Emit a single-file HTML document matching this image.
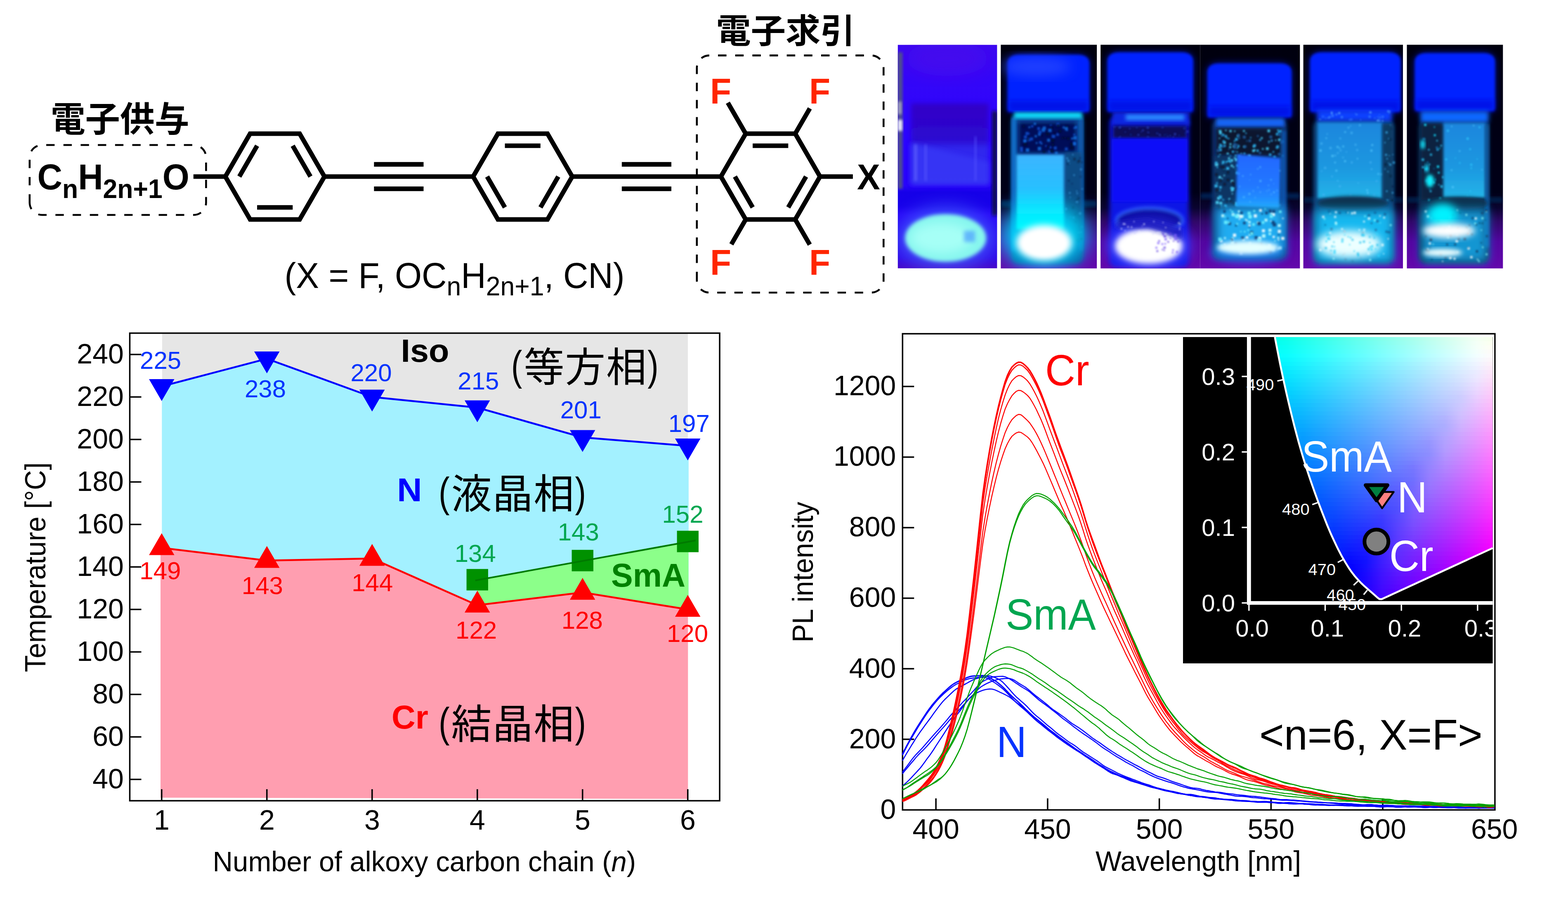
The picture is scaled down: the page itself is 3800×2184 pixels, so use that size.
<!DOCTYPE html>
<html><head><meta charset="utf-8"><title>figure</title>
<style>html,body{margin:0;padding:0;background:#fff}svg{display:block}text{font-family:"Liberation Sans","Noto Sans CJK JP",sans-serif;white-space:pre}</style></head><body>
<svg width="3800" height="2184" viewBox="0 0 3800 2184">
<rect width="3800" height="2184" fill="#fff"/>
<g stroke="#000" stroke-width="11.07" fill="none" stroke-linejoin="miter" stroke-miterlimit="10">
<path d="M786.3,428 L726.2,532 L606.2,532 L546.1,428 L606.1,324 L726.2,324 Z"/>
<path d="M709.3,502.7 L623.1,502.7"/>
<path d="M580,428 L623.1,353.3"/>
<path d="M709.3,353.3 L752.4,428"/>
<path d="M1386.8,428 L1326.8,532 L1206.7,532 L1146.6,428 L1206.7,324 L1326.8,324 Z"/>
<path d="M1223.6,353.3 L1309.8,353.3"/>
<path d="M1223.6,502.7 L1180.5,428"/>
<path d="M1352.9,428 L1309.8,502.7"/>
<path d="M1987.3,428 L1927.2,532 L1807.2,532 L1747.1,428 L1807.2,324 L1927.2,324 Z"/>
<path d="M1824.1,353.3 L1910.3,353.3"/>
<path d="M1824.1,502.7 L1781,428"/>
<path d="M1953.4,428 L1910.3,502.7"/>
<path d="M468.8,428.0 L546.1,428.0"/>
<path d="M786.3,428.0 L1146.6,428.0"/>
<path d="M906.4,398.4 L1026.5,398.4"/>
<path d="M906.4,457.6 L1026.5,457.6"/>
<path d="M1386.8,428.0 L1747.1,428.0"/>
<path d="M1506.9,398.4 L1627,398.4"/>
<path d="M1506.9,457.6 L1627,457.6"/>
<path d="M1987.3,428.0 L2066.9,428.0"/>
<path d="M1807.2,324 L1763.9,249"/>
<path d="M1927.2,324 L1962.6,262.8"/>
<path d="M1807.2,532 L1772.4,592.2"/>
<path d="M1927.2,532 L1962.5,593.1"/>
</g>
<path d="M71.8,491.0 L71.8,381.5 A30,30 0 0 1 101.8,351.5 L469.4,351.5 A30,30 0 0 1 499.4,381.5 L499.4,491.0 A30,30 0 0 1 469.4,521.0 L101.8,521.0 A30,30 0 0 1 71.8,491.0" fill="none" stroke="#000" stroke-width="4.6" stroke-dasharray="20.3 21.4"/>
<path d="M1688.8,679.2 L1688.8,164.4 A30,30 0 0 1 1718.8,134.4 L2111.3,134.4 A30,30 0 0 1 2141.3,164.4 L2141.3,679.2 A30,30 0 0 1 2111.3,709.2 L1718.8,709.2 A30,30 0 0 1 1688.8,679.2" fill="none" stroke="#000" stroke-width="4.6" stroke-dasharray="20.5 21.15"/>
<text transform="translate(90.5,459) scale(1,1.03)" style="font-size:83.7px;font-weight:bold" fill="#000">C<tspan dy="20" style="font-size:62.5px">n</tspan><tspan dy="-20">H</tspan><tspan dy="20" style="font-size:62.5px">2n+1</tspan><tspan dy="-20">O</tspan></text>
<text transform="translate(1721,250.7) scale(1.0,1.03)" style="font-size:83.7px;font-weight:bold;" fill="#FF2600">F</text>
<text transform="translate(1961,250.7) scale(1.0,1.03)" style="font-size:83.7px;font-weight:bold;" fill="#FF2600">F</text>
<text transform="translate(1721,665.8) scale(1.0,1.03)" style="font-size:83.7px;font-weight:bold;" fill="#FF2600">F</text>
<text transform="translate(1961,665.8) scale(1.0,1.03)" style="font-size:83.7px;font-weight:bold;" fill="#FF2600">F</text>
<text transform="translate(2077,459.4) scale(1.0,1.03)" style="font-size:83.7px;font-weight:bold;" fill="#000">X</text>
<text transform="translate(689.5,698.3) scale(1,1.03)" style="font-size:83.7px" fill="#000">(X = F, OC<tspan dy="17.5" style="font-size:62.5px">n</tspan><tspan dy="-17.5">H</tspan><tspan dy="17.5" style="font-size:62.5px">2n+1</tspan><tspan dy="-17.5">, CN)</tspan></text>
<text transform="translate(122.8,319.1)" style="font-size:84px;font-weight:bold;" fill="#000">電子供与</text>
<text transform="translate(1735.3,104.1) scale(1.0,0.9645)" style="font-size:84.4px;font-weight:bold;" fill="#000">電子求引</text>
<defs>
<filter id="b2" x="-30%" y="-30%" width="160%" height="160%"><feGaussianBlur stdDeviation="2"/></filter>
<filter id="b3" x="-30%" y="-30%" width="160%" height="160%"><feGaussianBlur stdDeviation="3"/></filter>
<filter id="b4" x="-30%" y="-30%" width="160%" height="160%"><feGaussianBlur stdDeviation="4"/></filter>
<filter id="b5" x="-30%" y="-30%" width="160%" height="160%"><feGaussianBlur stdDeviation="5"/></filter>
<filter id="b6" x="-30%" y="-30%" width="160%" height="160%"><feGaussianBlur stdDeviation="6"/></filter>
<filter id="b7" x="-30%" y="-30%" width="160%" height="160%"><feGaussianBlur stdDeviation="7"/></filter>
<filter id="b8" x="-30%" y="-30%" width="160%" height="160%"><feGaussianBlur stdDeviation="8"/></filter>
<filter id="b10" x="-30%" y="-30%" width="160%" height="160%"><feGaussianBlur stdDeviation="10"/></filter>
<filter id="b12" x="-30%" y="-30%" width="160%" height="160%"><feGaussianBlur stdDeviation="12"/></filter>
<filter id="b15" x="-30%" y="-30%" width="160%" height="160%"><feGaussianBlur stdDeviation="15"/></filter>
<filter id="b20" x="-30%" y="-30%" width="160%" height="160%"><feGaussianBlur stdDeviation="20"/></filter>
<filter id="b25" x="-30%" y="-30%" width="160%" height="160%"><feGaussianBlur stdDeviation="25"/></filter>
</defs>
<clipPath id="pc0"><rect x="2175.6" y="108.5" width="241" height="542.1"/></clipPath>
<clipPath id="pc1"><rect x="2425.4" y="108.5" width="232.8" height="542.1"/></clipPath>
<clipPath id="pc2"><rect x="2667.2" y="108.5" width="241.5" height="542.1"/></clipPath>
<clipPath id="pc3"><rect x="2908.7" y="108.5" width="241.6" height="542.1"/></clipPath>
<clipPath id="pc4"><rect x="3158.6" y="108.5" width="241.4" height="542.1"/></clipPath>
<clipPath id="pc5"><rect x="3409.5" y="108.5" width="232.8" height="542.1"/></clipPath>
<defs>
<linearGradient id="bg1" x1="0" y1="0" x2="0" y2="1"><stop offset="0" stop-color="#3C08F0"/><stop offset="0.15" stop-color="#3406F8"/><stop offset="0.45" stop-color="#2A04FF"/><stop offset="0.63" stop-color="#2804FA"/><stop offset="0.66" stop-color="#1600E8"/><stop offset="0.72" stop-color="#1800EA"/><stop offset="0.76" stop-color="#2806F8"/><stop offset="0.95" stop-color="#3008E8"/><stop offset="1" stop-color="#4808C8"/></linearGradient>
<linearGradient id="bgd" x1="0" y1="0" x2="0" y2="1"><stop offset="0" stop-color="#00000E"/><stop offset="0.66" stop-color="#000018"/><stop offset="0.73" stop-color="#0A0430"/><stop offset="0.79" stop-color="#300868"/><stop offset="0.88" stop-color="#5206A0"/><stop offset="1" stop-color="#6408AC"/></linearGradient>
<linearGradient id="pap2" x1="0" y1="0" x2="0" y2="1"><stop offset="0" stop-color="#3CB4FF"/><stop offset="0.45" stop-color="#28C0FF"/><stop offset="0.75" stop-color="#08E8FF"/><stop offset="1" stop-color="#00F8FF"/></linearGradient>
<linearGradient id="pap5" x1="0" y1="0" x2="0" y2="1"><stop offset="0" stop-color="#1E86DE"/><stop offset="0.6" stop-color="#1E98E0"/><stop offset="1" stop-color="#22B4E8"/></linearGradient>
<linearGradient id="pap4" x1="0" y1="0" x2="0" y2="1"><stop offset="0" stop-color="#2268FF"/><stop offset="0.6" stop-color="#2278FF"/><stop offset="1" stop-color="#20A0FF"/></linearGradient>
<linearGradient id="lab1" x1="0" y1="0" x2="0" y2="1"><stop offset="0" stop-color="#3204B8"/><stop offset="0.45" stop-color="#2C08C4"/><stop offset="0.55" stop-color="#3030E8"/><stop offset="1" stop-color="#3434F0"/></linearGradient>
</defs>
<g clip-path="url(#pc0)">
<rect x="2175.6" y="108.5" width="241" height="542.1" fill="url(#bg1)"/>
<ellipse cx="2295.8" cy="142.3" rx="100" ry="42.3" fill="#4808EC" filter="url(#b20)" opacity="0.7"/>
<rect x="2175.8" y="126.9" width="11.5" height="330.8" fill="#50508A" filter="url(#b3)"/>
<rect x="2404.2" y="269.2" width="12.7" height="253.8" fill="#10104C" filter="url(#b4)"/>
<rect x="2175.8" y="290.4" width="10.8" height="26.9" fill="#F0F0FF" filter="url(#b3)"/>
<rect x="2175.8" y="246.2" width="9.2" height="30.8" fill="#A0A0C0" filter="url(#b3)"/>
<rect x="2208.1" y="250.8" width="187.7" height="196.2" fill="url(#lab1)" filter="url(#b6)" opacity="0.78"/>
<polygon points="2208.1,346.2 2395.8,392.3 2395.8,446.2 2208.1,446.2" fill="#3838F6" filter="url(#b6)" opacity="0.8"/>
<rect x="2215" y="350" width="7.7" height="88.5" fill="#6868FF" filter="url(#b3)" opacity="0.6"/>
<rect x="2240" y="350" width="6.5" height="88.5" fill="#6060FF" filter="url(#b3)" opacity="0.5"/>
<rect x="2361.2" y="330.8" width="5.8" height="107.7" fill="#5858FF" filter="url(#b3)" opacity="0.5"/>
<ellipse cx="2291.9" cy="576.9" rx="119.2" ry="76.9" fill="#4468FF" filter="url(#b20)" opacity="0.7"/>
<ellipse cx="2291.9" cy="576.9" rx="98.1" ry="57.7" fill="#86F6EE" filter="url(#b5)"/>
<ellipse cx="2280.4" cy="576.9" rx="73.1" ry="36.5" fill="#A6FFF6" filter="url(#b12)"/>
<rect x="2336.2" y="559.6" width="26.9" height="26.9" fill="#4C9CFF" filter="url(#b5)" opacity="0.7"/>
</g>
<rect x="2425.4" y="108.5" width="232.8" height="542.1" fill="url(#bgd)"/>
<rect x="2667.2" y="108.5" width="241.5" height="542.1" fill="url(#bgd)"/>
<rect x="2908.7" y="108.5" width="241.6" height="542.1" fill="url(#bgd)"/>
<rect x="3158.6" y="108.5" width="241.4" height="542.1" fill="url(#bgd)"/>
<rect x="3409.5" y="108.5" width="232.8" height="542.1" fill="url(#bgd)"/>
<g clip-path="url(#pc1)">
<rect x="2425.4" y="486.5" width="233.1" height="14.2" fill="#002C5C" filter="url(#b4)"/>
<path d="M2441.9,265.8 L2441.9,153.8 Q2441.9,132.7 2471.5,132.7 L2610.4,132.7 Q2640,132.7 2640,153.8 L2640,265.8 Q2640,271.2 2634.6,271.2 L2447.3,271.2 Q2441.9,271.2 2441.9,265.8 Z" fill="#0420FF" filter="url(#b10)" opacity="0.55"/>
<path d="M2441.9,265.8 L2441.9,153.8 Q2441.9,132.7 2471.5,132.7 L2610.4,132.7 Q2640,132.7 2640,153.8 L2640,265.8 Q2640,271.2 2634.6,271.2 L2447.3,271.2 Q2441.9,271.2 2441.9,265.8 Z" fill="#0420FF" filter="url(#b3)"/>
<rect x="2445" y="244.2" width="191.9" height="25.4" fill="#0010E0" filter="url(#b6)" opacity="0.7"/>
<ellipse cx="2511.2" cy="161.5" rx="84.6" ry="23.1" fill="#3454FF" filter="url(#b15)" opacity="0.6"/>
<rect x="2450.4" y="277.7" width="175.4" height="361.5" fill="#0A4C98" rx="17.3" filter="url(#b5)"/>
<rect x="2451.5" y="284.6" width="10.4" height="323.1" fill="#1074D4" filter="url(#b4)"/>
<rect x="2615" y="284.6" width="10" height="323.1" fill="#0E5CB0" filter="url(#b4)"/>
<rect x="2457.3" y="272.3" width="165.4" height="14.6" fill="#10E0FF" filter="url(#b5)"/>
<rect x="2468.8" y="296.9" width="138.5" height="73.8" fill="#001058" filter="url(#b5)"/>
<path d="M2513.7,308.1h6.9v6.9h-6.9zM2498.6,303.3h5.8v5.8h-5.8zM2481.4,328.3h7.7v7.7h-7.7zM2600,343.5h6.5v6.5h-6.5zM2548.8,326.2h8.4v8.4h-8.4zM2485.2,319.7h7.6v7.6h-7.6zM2483.1,339.1h4.7v4.7h-4.7zM2544.7,301.6h4.1v4.1h-4.1zM2549.9,330.4h5.2v5.2h-5.2zM2518.1,342h6.1v6.1h-6.1zM2601.5,308.1h4.7v4.7h-4.7zM2560,297.8h7.7v7.7h-7.7zM2491.3,322h4.1v4.1h-4.1zM2472.4,361.5h6.7v6.7h-6.7zM2516.3,316.5h7.7v7.7h-7.7zM2540.6,364h5.5v5.5h-5.5zM2542.6,354.5h5.4v5.4h-5.4zM2553.8,355.1h7.3v7.3h-7.3zM2580.5,357.4h7.3v7.3h-7.3zM2496.5,333.3h7.2v7.2h-7.2zM2601.1,323.9h4.9v4.9h-4.9zM2533,351.8h4.2v4.2h-4.2zM2559.9,322.8h6.4v6.4h-6.4zM2471.8,356h7.2v7.2h-7.2zM2541.8,365.9h5.8v5.8h-5.8zM2489.9,334.6h7.9v7.9h-7.9z" fill="#0850D0" opacity="0.85" filter="url(#b2)"/>
<path d="M2582.6,303.9h6.5v6.5h-6.5zM2545.9,306.8h5.8v5.8h-5.8zM2565.6,314.9h6.5v6.5h-6.5zM2537.4,322.3h5.9v5.9h-5.9zM2489.9,333h4v4h-4zM2478.4,303.8h5.1v5.1h-5.1zM2560.8,301.4h7.1v7.1h-7.1zM2548.9,347.2h5.9v5.9h-5.9zM2544.9,362.2h7.6v7.6h-7.6zM2553.3,320.5h4.4v4.4h-4.4zM2593.4,354.5h7.9v7.9h-7.9zM2523.2,326.4h4.3v4.3h-4.3zM2547.3,336.6h8.2v8.2h-8.2zM2535.4,320h4.5v4.5h-4.5zM2489.1,337h4v4h-4zM2578.2,331.8h4.7v4.7h-4.7zM2533.9,321.9h6.1v6.1h-6.1zM2585.2,332.3h6.9v6.9h-6.9zM2480.6,345.7h8v8h-8zM2572.7,332.2h4.7v4.7h-4.7zM2538.2,353.3h5.4v5.4h-5.4zM2593.1,345.8h7.6v7.6h-7.6zM2527.1,364.7h6.2v6.2h-6.2z" fill="#000830" opacity="0.85" filter="url(#b2)"/>
<path d="M2537.6,336.2h7.4v7.4h-7.4zM2604.6,305.6h5.8v5.8h-5.8zM2479.6,338.1h7.5v7.5h-7.5zM2515.9,322.8h6.1v6.1h-6.1zM2522.3,346.3h4v4h-4zM2575.2,306.5h5v5h-5zM2595.8,333.6h4.6v4.6h-4.6zM2507.4,327.6h5.5v5.5h-5.5zM2505.2,297.2h5.8v5.8h-5.8zM2600.4,345.3h7.3v7.3h-7.3zM2524.3,311h8.4v8.4h-8.4zM2556.7,367.5h6.6v6.6h-6.6zM2485.9,359.6h8.4v8.4h-8.4zM2540.3,312.1h8.2v8.2h-8.2zM2510.1,344.4h4.3v4.3h-4.3zM2601.3,329.9h8.2v8.2h-8.2zM2514.9,356.1h8.3v8.3h-8.3zM2492.4,306.3h4.5v4.5h-4.5zM2580.5,307.7h7.7v7.7h-7.7zM2583.2,312.5h5v5h-5zM2526.9,306.6h8v8h-8z" fill="#1070E0" opacity="0.85" filter="url(#b2)"/>
<rect x="2580.4" y="369.2" width="40.8" height="215.4" fill="#0E4C84" filter="url(#b4)"/>
<path d="M2605.2,536.4h2.8v2.8h-2.8zM2608.2,483.5h3.8v3.8h-3.8zM2616.4,381.5h2.9v2.9h-2.9zM2611.9,478.6h4v4h-4zM2598.5,501.2h3.9v3.9h-3.9zM2586,395.4h3.7v3.7h-3.7zM2586.2,559.4h5.3v5.3h-5.3zM2610.8,389.5h5v5h-5zM2601.3,383.1h5.3v5.3h-5.3zM2620,391.8h3.1v3.1h-3.1zM2616.9,427.2h2.4v2.4h-2.4zM2613.1,387.3h4.9v4.9h-4.9zM2618.2,426.9h2.7v2.7h-2.7zM2618.6,578h3.1v3.1h-3.1zM2588.6,436.4h3.2v3.2h-3.2zM2613.1,583.4h2.4v2.4h-2.4zM2608.4,580.8h3.4v3.4h-3.4zM2596.9,444.1h2.5v2.5h-2.5zM2604.8,518.4h2.4v2.4h-2.4z" fill="#081C38" opacity="0.7" filter="url(#b2)"/>
<path d="M2599.7,525.4h4v4h-4zM2608.6,466.7h3.9v3.9h-3.9zM2601.1,422.6h3.9v3.9h-3.9zM2618,561.5h2.9v2.9h-2.9zM2607.7,461.5h3v3h-3zM2612.3,562.4h2.8v2.8h-2.8zM2620.7,548.5h2.8v2.8h-2.8zM2620.9,456.2h3.6v3.6h-3.6zM2593.4,524.8h2.4v2.4h-2.4zM2598.3,373.1h3.3v3.3h-3.3zM2617.3,408.3h4.6v4.6h-4.6zM2615,514.8h5.2v5.2h-5.2zM2586.5,567.2h4.1v4.1h-4.1zM2584,381.6h4.4v4.4h-4.4zM2591.2,395.4h2.3v2.3h-2.3zM2592.2,476.9h2.9v2.9h-2.9zM2610.3,487.9h2.9v2.9h-2.9zM2590.4,465.5h4.3v4.3h-4.3zM2607.2,486.8h5v5h-5zM2581,503.9h5v5h-5zM2587,387.4h4.9v4.9h-4.9z" fill="#3C9CE0" opacity="0.7" filter="url(#b2)"/>
<ellipse cx="2530.4" cy="571.2" rx="103.8" ry="76.9" fill="#00DCFF" filter="url(#b25)" opacity="0.95"/>
<rect x="2463.1" y="375" width="115.4" height="180.8" fill="url(#pap2)" filter="url(#b3)"/>
<ellipse cx="2530.4" cy="588.5" rx="67.3" ry="43.1" fill="#FFFFFF" filter="url(#b8)"/>
<ellipse cx="2530.4" cy="590.4" rx="50" ry="28.8" fill="#FFFFFF" filter="url(#b4)"/>
</g>
<g clip-path="url(#pc2)">
<path d="M2683.8,265.8 L2683.8,148.1 Q2683.8,126.9 2713.5,126.9 L2861.9,126.9 Q2891.5,126.9 2891.5,148.1 L2891.5,265.8 Q2891.5,271.2 2886.2,271.2 L2689.2,271.2 Q2683.8,271.2 2683.8,265.8 Z" fill="#0420FF" filter="url(#b10)" opacity="0.55"/>
<path d="M2683.8,265.8 L2683.8,148.1 Q2683.8,126.9 2713.5,126.9 L2861.9,126.9 Q2891.5,126.9 2891.5,148.1 L2891.5,265.8 Q2891.5,271.2 2886.2,271.2 L2689.2,271.2 Q2683.8,271.2 2683.8,265.8 Z" fill="#0420FF" filter="url(#b3)"/>
<rect x="2686.9" y="244.2" width="201.5" height="25.4" fill="#0010E0" filter="url(#b6)" opacity="0.7"/>
<rect x="2688.8" y="280.8" width="192.3" height="367.3" fill="#1018E6" rx="17.3" filter="url(#b6)"/>
<rect x="2696.5" y="271.2" width="186.2" height="33.5" fill="#1028E0" filter="url(#b5)"/>
<rect x="2728.1" y="277.7" width="142.3" height="13.8" fill="#2C8CFF" filter="url(#b5)"/>
<rect x="2697.3" y="304.6" width="178.8" height="30.8" fill="#0C1054" filter="url(#b4)"/>
<path d="M2725.5,318.3h3.1v3.1h-3.1zM2871.3,321.4h3.1v3.1h-3.1zM2802,320.9h4.6v4.6h-4.6zM2834,326.8h3.8v3.8h-3.8zM2826.8,324.4h2.4v2.4h-2.4zM2815.2,306.6h4.6v4.6h-4.6zM2738.6,324.6h3.7v3.7h-3.7zM2821.1,325.4h3.2v3.2h-3.2zM2753,307.3h3.8v3.8h-3.8zM2779.4,329.8h5.3v5.3h-5.3zM2710.7,307.4h4.6v4.6h-4.6zM2867.7,308.7h4.8v4.8h-4.8zM2855.9,326.3h3v3h-3z" fill="#1830A0" opacity="0.8" filter="url(#b2)"/>
<path d="M2736.3,310.2h3.3v3.3h-3.3zM2782.2,320.1h2.9v2.9h-2.9zM2713.6,329.8h2.8v2.8h-2.8zM2767.8,313.8h4.2v4.2h-4.2zM2828.6,329.6h2.7v2.7h-2.7zM2845.1,322.6h5.1v5.1h-5.1zM2712.5,305.9h4.3v4.3h-4.3zM2764.7,318.5h2.5v2.5h-2.5zM2809.3,325.6h3.8v3.8h-3.8zM2779,306.8h5.2v5.2h-5.2zM2842,330.7h3v3h-3zM2711,332.6h3.2v3.2h-3.2zM2807.7,324.4h2.5v2.5h-2.5zM2756.6,324.7h4.4v4.4h-4.4zM2699.5,306.5h3.1v3.1h-3.1zM2780.4,319h2.7v2.7h-2.7zM2875.1,316.5h5.1v5.1h-5.1z" fill="#2840C0" opacity="0.8" filter="url(#b2)"/>
<rect x="2695.4" y="336.5" width="181.9" height="152.7" fill="#0C10F8" filter="url(#b3)"/>
<ellipse cx="2785.8" cy="534.6" rx="80.8" ry="30.8" fill="#0A0AA4" stroke="#3060FF" stroke-width="6.2" filter="url(#b4)"/>
<ellipse cx="2783.8" cy="596.2" rx="101.9" ry="59.6" fill="#4444FF" filter="url(#b15)" opacity="0.85"/>
<ellipse cx="2783.8" cy="596.2" rx="81.5" ry="43.1" fill="#FFFFFF" filter="url(#b7)"/>
<polygon points="2705,553.8 2781.9,551.9 2864.6,580.8 2864.6,553.8 2781.9,530.8 2705,538.5" fill="#1A1AC0" filter="url(#b6)" opacity="0.9"/>
<path d="M2820,569.5h6v6h-6zM2820.7,597.9h4.4v4.4h-4.4zM2815.5,603.6h3.1v3.1h-3.1zM2849.3,576h4.2v4.2h-4.2zM2819.8,605h3.3v3.3h-3.3zM2853.3,583.4h4v4h-4zM2842.6,582.9h3.2v3.2h-3.2zM2807.2,582.3h3.9v3.9h-3.9zM2834.4,565.3h4.6v4.6h-4.6zM2829.1,584.2h4.1v4.1h-4.1zM2817,566.1h3.8v3.8h-3.8zM2844,571.6h3.1v3.1h-3.1zM2819.4,598.8h3.7v3.7h-3.7zM2816.8,564.6h3.9v3.9h-3.9zM2802.6,606.4h4.3v4.3h-4.3z" fill="#6040E0" opacity="0.85" filter="url(#b2)"/>
<path d="M2845.7,567.5h5.9v5.9h-5.9zM2840.9,604.3h3.9v3.9h-3.9zM2845.5,575.8h6v6h-6zM2850,608.6h4.8v4.8h-4.8zM2800.2,598.2h4.5v4.5h-4.5zM2834.5,575.8h3.2v3.2h-3.2zM2839.9,610.4h3.9v3.9h-3.9zM2814.7,589.4h4.3v4.3h-4.3zM2822,588.9h3.8v3.8h-3.8zM2804.6,586.7h5v5h-5zM2822.2,577.1h5.6v5.6h-5.6z" fill="#8464FF" opacity="0.85" filter="url(#b2)"/>
<path d="M2731.8,547.7h4.1v4.1h-4.1zM2857.9,549.7h2.5v2.5h-2.5zM2735.5,564.5h2.6v2.6h-2.6zM2747.6,562.9h3.8v3.8h-3.8zM2857.1,553.9h3.5v3.5h-3.5zM2793.3,565.3h3v3h-3zM2794.7,535.5h3.3v3.3h-3.3zM2721,540.6h4.3v4.3h-4.3zM2724.9,541.6h3.3v3.3h-3.3zM2746.7,535.7h3.1v3.1h-3.1zM2767,546.8h2.3v2.3h-2.3zM2752.4,562h2.6v2.6h-2.6zM2740.3,548.5h4v4h-4zM2822.6,565.3h4.5v4.5h-4.5z" fill="#C8C8FF" opacity="0.8" filter="url(#b2)"/>
<path d="M2858.5,542.3h2.6v2.6h-2.6zM2725.4,558.5h2.3v2.3h-2.3zM2817.5,538.1h2.5v2.5h-2.5zM2770.9,541.5h3.7v3.7h-3.7zM2809.4,561.8h3.4v3.4h-3.4zM2823.6,550.2h2.8v2.8h-2.8zM2759.4,559.8h2.8v2.8h-2.8zM2804.2,562.2h3.4v3.4h-3.4zM2855,539.1h3.2v3.2h-3.2zM2716.2,553h3.3v3.3h-3.3z" fill="#FFFFFF" opacity="0.8" filter="url(#b2)"/>
</g>
<g clip-path="url(#pc3)">
<rect x="2908.8" y="468.5" width="241.5" height="13.1" fill="#002452" filter="url(#b4)"/>
<path d="M2926.2,279.2 L2926.2,175 Q2926.2,153.8 2955.8,153.8 L3100.4,153.8 Q3130,153.8 3130,175 L3130,279.2 Q3130,284.6 3124.6,284.6 L2931.5,284.6 Q2926.2,284.6 2926.2,279.2 Z" fill="#0420FF" filter="url(#b10)" opacity="0.55"/>
<path d="M2926.2,279.2 L2926.2,175 Q2926.2,153.8 2955.8,153.8 L3100.4,153.8 Q3130,153.8 3130,175 L3130,279.2 Q3130,284.6 3124.6,284.6 L2931.5,284.6 Q2926.2,284.6 2926.2,279.2 Z" fill="#0420FF" filter="url(#b3)"/>
<rect x="2929.2" y="257.7" width="197.7" height="25.4" fill="#0010E0" filter="url(#b6)" opacity="0.7"/>
<rect x="2937.7" y="287.7" width="180.8" height="342.3" fill="#0A3272" rx="18.5" filter="url(#b5)"/>
<rect x="2947.3" y="286.9" width="165.4" height="21.5" fill="#1264F4" filter="url(#b5)"/>
<rect x="2948.1" y="310.8" width="160.8" height="66.9" fill="#08162E" filter="url(#b5)"/>
<path d="M2978.7,354.4h5.1v5.1h-5.1zM2953.2,355.2h4.5v4.5h-4.5zM3038.3,361.6h4.5v4.5h-4.5zM3080.2,339.7h3.3v3.3h-3.3zM2979.5,347h4.8v4.8h-4.8zM3006.6,370.8h3.2v3.2h-3.2zM2987.9,352.6h4.6v4.6h-4.6zM2953.7,315h6.6v6.6h-6.6zM2979.4,315h5.4v5.4h-5.4zM2991.9,374.9h5.4v5.4h-5.4zM3068.1,356.9h6.6v6.6h-6.6zM3024.5,374.8h6.7v6.7h-6.7zM2990.7,316.4h3.4v3.4h-3.4zM3034.7,362.6h6v6h-6zM2972.7,369.9h5.3v5.3h-5.3zM2964.5,342.5h6.2v6.2h-6.2zM3097.6,335.7h6.4v6.4h-6.4zM2954.1,333.5h3.2v3.2h-3.2zM3090.1,338.5h3.1v3.1h-3.1zM2969,314.2h3.6v3.6h-3.6zM2996.6,366.8h3.2v3.2h-3.2zM2954.8,373.6h3.7v3.7h-3.7zM3055.5,332.5h4.6v4.6h-4.6zM3036.5,352.7h4.3v4.3h-4.3zM2997.6,327.5h4.6v4.6h-4.6zM3073.5,341.4h3.8v3.8h-3.8zM3012.4,315.3h4.5v4.5h-4.5zM2954.6,319.5h6.6v6.6h-6.6zM3058.4,359h3.9v3.9h-3.9zM3012.9,353.4h4.1v4.1h-4.1zM3071.6,314h6.4v6.4h-6.4z" fill="#48D8FF" opacity="0.9" filter="url(#b2)"/>
<path d="M3106.4,340.4h3.5v3.5h-3.5zM2993.1,334.3h6.8v6.8h-6.8zM3100.2,315.1h6.3v6.3h-6.3zM3075.1,371.9h6.2v6.2h-6.2zM2996.8,357.1h3.7v3.7h-3.7zM2960.8,324h6v6h-6zM3000.4,376.4h6.5v6.5h-6.5zM3107,375.8h3.7v3.7h-3.7zM2989.9,340.2h3.8v3.8h-3.8zM2985.3,364.9h5.6v5.6h-5.6zM3095.1,313.5h4.2v4.2h-4.2zM2956.2,351h6.3v6.3h-6.3zM3045,362.6h5.6v5.6h-5.6zM2965.1,350.7h5.5v5.5h-5.5zM2954.2,359.8h6.6v6.6h-6.6zM3036.5,353.5h3.4v3.4h-3.4zM3051.7,336.9h4.6v4.6h-4.6zM3017.9,321.2h3.5v3.5h-3.5zM3013.4,369.9h4.8v4.8h-4.8zM2975.7,334.1h3.7v3.7h-3.7zM3096.9,318h5v5h-5zM2998.6,351.4h5.5v5.5h-5.5zM3093.4,352.3h6.2v6.2h-6.2zM3084.1,366.3h3.8v3.8h-3.8zM2967.9,327.3h5.9v5.9h-5.9zM2954.7,348.4h6v6h-6zM2962.8,340.3h5v5h-5zM3091.9,354.5h6.1v6.1h-6.1zM3085.9,377.4h5.9v5.9h-5.9zM2979.2,376.5h5v5h-5zM3029.4,332.1h3.2v3.2h-3.2zM3092,322.1h6.1v6.1h-6.1zM3037.3,349.6h6.5v6.5h-6.5zM2971.6,332.9h3.4v3.4h-3.4z" fill="#28B0F0" opacity="0.9" filter="url(#b2)"/>
<path d="M2948.7,361.3h6.6v6.6h-6.6zM3097.3,323h6.2v6.2h-6.2zM3000.8,332.2h4.5v4.5h-4.5zM3013.6,354.2h4.9v4.9h-4.9zM3015.1,352.3h5.7v5.7h-5.7zM2995.3,348.7h4.5v4.5h-4.5zM2958.5,327.6h4v4h-4zM3079.7,338.1h4.5v4.5h-4.5zM2998.3,324.4h6.1v6.1h-6.1zM3025.8,338.1h6.1v6.1h-6.1zM3012,328.9h6.9v6.9h-6.9zM2997.5,374.6h4.3v4.3h-4.3zM2962.4,352.4h4.5v4.5h-4.5zM3051,368.1h5.5v5.5h-5.5zM3019.9,340.1h3.2v3.2h-3.2zM3106.6,341.9h4.8v4.8h-4.8zM3073.1,345h3.3v3.3h-3.3zM3046.2,327.6h4.3v4.3h-4.3zM2992.3,365.4h3.6v3.6h-3.6zM3103.1,342.9h5.4v5.4h-5.4zM2988.6,346.6h6.4v6.4h-6.4zM3076.3,328.5h6.9v6.9h-6.9zM2976.5,360.5h3.3v3.3h-3.3zM2988.9,353.5h6.9v6.9h-6.9zM3097.3,370.7h5.9v5.9h-5.9z" fill="#1C5CA0" opacity="0.9" filter="url(#b2)"/>
<rect x="2942.7" y="377.7" width="53.8" height="126.2" fill="#0C3464" filter="url(#b4)"/>
<path d="M2944.5,396.5h5.9v5.9h-5.9zM2965.2,423.6h3.3v3.3h-3.3zM2946.1,395.9h6.1v6.1h-6.1zM2977.2,480.3h3.9v3.9h-3.9zM2984.9,467.9h3.1v3.1h-3.1zM2982.8,436.4h6.5v6.5h-6.5zM2988,403.3h3.8v3.8h-3.8zM2953,426.7h5.9v5.9h-5.9zM2955.3,489.3h6.7v6.7h-6.7zM2982.4,386h5.8v5.8h-5.8zM2946.2,487.2h7.3v7.3h-7.3zM2949.8,477.6h6.1v6.1h-6.1zM2959.9,431.2h3.2v3.2h-3.2zM2992.8,383.8h6.6v6.6h-6.6zM2984.1,453.6h5.3v5.3h-5.3zM2976,381.6h5v5h-5zM2985.1,456.9h4.7v4.7h-4.7zM2992.7,490.2h6.5v6.5h-6.5zM2990.5,380.9h4v4h-4zM2983.2,459.2h4.7v4.7h-4.7zM2982.6,399.1h5.1v5.1h-5.1z" fill="#58E0FF" opacity="0.9" filter="url(#b2)"/>
<path d="M2954.9,460.1h3.2v3.2h-3.2zM2954.8,451.3h5.8v5.8h-5.8zM2962.4,482.2h3.8v3.8h-3.8zM2993.1,408.4h3.8v3.8h-3.8zM2966.6,495.9h6.5v6.5h-6.5zM2951.6,377.7h3.4v3.4h-3.4zM2964.6,407.7h3.3v3.3h-3.3zM2943.4,447.2h7.4v7.4h-7.4zM2995,415h7.4v7.4h-7.4zM2947.3,441.7h3.9v3.9h-3.9zM2976.2,387.5h7.3v7.3h-7.3zM2944.5,391.8h5.9v5.9h-5.9zM2961.3,395.6h3.2v3.2h-3.2zM2950.1,458.9h3.3v3.3h-3.3zM2948.5,403.6h3.6v3.6h-3.6zM2993.8,492.6h6.6v6.6h-6.6zM2987.1,457.4h4.4v4.4h-4.4zM2970.6,390.1h5.2v5.2h-5.2zM2971.7,405h7.1v7.1h-7.1zM2953.6,473.8h7.6v7.6h-7.6zM2961.4,389.8h6.3v6.3h-6.3zM2956.7,496.8h4.4v4.4h-4.4zM2987.2,455.6h6.4v6.4h-6.4zM2981.6,453.7h4.7v4.7h-4.7zM2996.3,398.5h6.1v6.1h-6.1z" fill="#30C0F8" opacity="0.9" filter="url(#b2)"/>
<path d="M2973.2,416h5.5v5.5h-5.5zM2964.3,411h3.1v3.1h-3.1zM2986.9,490.3h5.8v5.8h-5.8zM2964.9,443.1h6v6h-6zM2946.1,456.7h7.7v7.7h-7.7zM2952.1,503.4h4.3v4.3h-4.3zM2944.8,420h6.5v6.5h-6.5zM2993.5,410.9h3.3v3.3h-3.3zM2972.5,432.7h6.7v6.7h-6.7zM2991.6,457.3h6.3v6.3h-6.3zM2988,445.4h5.3v5.3h-5.3zM2980.3,485.9h5.1v5.1h-5.1zM2953.4,498.1h5.5v5.5h-5.5zM2973.6,413.9h5.1v5.1h-5.1zM2994.8,452.4h7.5v7.5h-7.5zM2993.2,406.9h3.8v3.8h-3.8zM2984,439.5h7.7v7.7h-7.7zM2965.7,446.4h3.9v3.9h-3.9zM2955.3,435.8h5.5v5.5h-5.5zM2970.8,487.2h5.2v5.2h-5.2zM2973.9,393.6h5.2v5.2h-5.2zM2955.5,401.9h4.5v4.5h-4.5zM2960.4,401.6h7.6v7.6h-7.6zM2963.4,501.8h6.7v6.7h-6.7z" fill="#081830" opacity="0.9" filter="url(#b2)"/>
<polygon points="2998.5,373.8 3104.2,383.5 3101.2,504.6 2995.4,500.8" fill="url(#pap4)" filter="url(#b3)"/>
<path d="M3029.5,421.8h2.6v2.6h-2.6zM3027.9,487.6h3.4v3.4h-3.4zM3085.5,464.2h3.8v3.8h-3.8zM3025.7,467.8h4.4v4.4h-4.4zM3078.5,434.2h3.4v3.4h-3.4zM3003.1,450.8h2.7v2.7h-2.7zM3052.2,403.2h3.6v3.6h-3.6zM3052.4,436.5h4.5v4.5h-4.5zM3100.2,412.1h3.5v3.5h-3.5zM3010.4,425h3.2v3.2h-3.2zM3100.6,495.8h3.4v3.4h-3.4zM3012.4,475.9h4.2v4.2h-4.2zM3047,452.8h2.8v2.8h-2.8z" fill="#58C0FF" opacity="0.8" filter="url(#b2)"/>
<path d="M3039.9,477.5h3.9v3.9h-3.9zM3046.4,407.6h3.7v3.7h-3.7zM2999.8,418.4h4.3v4.3h-4.3zM3068.5,461.4h3.4v3.4h-3.4zM3079,469.1h3.8v3.8h-3.8zM3085.8,444.3h2.4v2.4h-2.4zM3052.1,463.5h4.3v4.3h-4.3zM3072.3,447.5h3.8v3.8h-3.8zM3073.5,458.4h3.8v3.8h-3.8zM3027.2,435.4h2.3v2.3h-2.3zM3092.5,460h3.9v3.9h-3.9zM3035.2,461.1h4.2v4.2h-4.2z" fill="#40A0FF" opacity="0.8" filter="url(#b2)"/>
<rect x="3104.2" y="315.4" width="12.3" height="284.6" fill="#1060C0" filter="url(#b4)" opacity="0.8"/>
<rect x="2947.3" y="501.9" width="165.4" height="115.4" fill="#22B4F8" filter="url(#b12)" opacity="0.95"/>
<path d="M3025,535.5h6v6h-6zM3074.1,554.4h7.3v7.3h-7.3zM3081.7,601.4h7.3v7.3h-7.3zM3005.8,520.3h7.9v7.9h-7.9zM3027.5,601.4h6.8v6.8h-6.8zM3078.7,514h5.7v5.7h-5.7zM2966.1,574.8h4.9v4.9h-4.9zM3075.6,601.8h6.4v6.4h-6.4zM2984.7,575.7h5.5v5.5h-5.5zM3095.3,574.5h5.1v5.1h-5.1zM3058.4,567.8h8.4v8.4h-8.4zM3064.6,529.9h7v7h-7zM3096.7,543.2h7.1v7.1h-7.1zM3088.3,582h3.2v3.2h-3.2zM3045.9,537.1h5.4v5.4h-5.4zM3010.6,577.6h6.3v6.3h-6.3zM2996.7,519h7.9v7.9h-7.9zM2982.8,584.6h8.1v8.1h-8.1zM3000,510h5.2v5.2h-5.2zM3026.3,567.3h4.1v4.1h-4.1zM2983.4,597.6h6.1v6.1h-6.1zM2980,595.4h5.1v5.1h-5.1zM2959.9,519.4h7.1v7.1h-7.1zM3027.1,522h4.4v4.4h-4.4zM3095.3,599.9h5.6v5.6h-5.6zM3098.4,597.2h7.9v7.9h-7.9zM3019.3,532h4.4v4.4h-4.4z" fill="#C8FFFF" opacity="0.9" filter="url(#b2)"/>
<path d="M2993.3,544.4h4.4v4.4h-4.4zM3007.6,574.3h4.8v4.8h-4.8zM3042.4,595.8h4.1v4.1h-4.1zM2982.3,578.5h5.9v5.9h-5.9zM3057,516.4h3.7v3.7h-3.7zM2976.4,538.4h6.8v6.8h-6.8zM3056.1,594.4h5.1v5.1h-5.1zM3081.5,535.4h7.5v7.5h-7.5zM3074.8,508.2h7v7h-7zM3029.6,560.1h7.5v7.5h-7.5zM3026.1,548.3h3.6v3.6h-3.6zM3066.2,512.9h6.5v6.5h-6.5zM3012.5,537.5h6.3v6.3h-6.3zM3047.2,537.9h8.2v8.2h-8.2zM3008.4,573.3h6.5v6.5h-6.5zM2994.3,595.5h7.4v7.4h-7.4zM3005.8,513h6.1v6.1h-6.1zM3097.2,567h3.1v3.1h-3.1zM2992.4,587.8h5.4v5.4h-5.4zM3084.2,540.3h8.4v8.4h-8.4zM2964.3,509.3h6.1v6.1h-6.1zM3027.9,594.9h7.9v7.9h-7.9zM3040.2,572.8h8.2v8.2h-8.2zM3083.2,508.9h7.3v7.3h-7.3zM3073.9,607h8.1v8.1h-8.1zM2973.7,527.7h3.4v3.4h-3.4zM3050.7,588.7h8.1v8.1h-8.1z" fill="#0C3870" opacity="0.9" filter="url(#b2)"/>
<path d="M3058.2,555.7h7.4v7.4h-7.4zM3018.7,572.5h6.6v6.6h-6.6zM3056.6,600.1h7.3v7.3h-7.3zM3108.8,576.6h4v4h-4zM3051.5,506.9h6.4v6.4h-6.4zM2956.5,581.2h6.4v6.4h-6.4zM3003.8,609.8h7.8v7.8h-7.8zM3104.9,574.3h7.3v7.3h-7.3zM3075.2,564.4h4.5v4.5h-4.5zM2985.6,516.9h5.6v5.6h-5.6zM3026.4,587.6h5.5v5.5h-5.5zM3049.2,573.9h7.4v7.4h-7.4zM3078.5,534.4h3.1v3.1h-3.1zM2987.9,566.3h7.9v7.9h-7.9zM2965.7,590.6h4.6v4.6h-4.6zM3096.6,557h7.7v7.7h-7.7zM3072.1,592h8.3v8.3h-8.3zM3096.6,579.9h3.6v3.6h-3.6zM3107.5,527.7h3.3v3.3h-3.3zM3025.4,543.9h5.2v5.2h-5.2zM3084,571.5h5.5v5.5h-5.5zM3002,529h3.7v3.7h-3.7zM3038.4,519.4h7.8v7.8h-7.8zM3017.1,530.4h3.2v3.2h-3.2zM3003.9,521.9h5.7v5.7h-5.7zM3082.9,516.7h7.1v7.1h-7.1z" fill="#FFFFFF" opacity="0.9" filter="url(#b2)"/>
<path d="M2975.2,536.5h5.2v5.2h-5.2zM3034.8,541h6.2v6.2h-6.2zM2984.2,511.6h4.7v4.7h-4.7zM3047.3,577.9h8.3v8.3h-8.3zM2988.1,518.9h5.7v5.7h-5.7zM3029.7,562h7.7v7.7h-7.7zM2996,540.7h4.4v4.4h-4.4zM2981.5,580.7h3.8v3.8h-3.8zM3037.2,509.2h4.7v4.7h-4.7zM2958.5,592.4h5.6v5.6h-5.6zM3050,578.8h6.3v6.3h-6.3zM2967.1,523.4h3.3v3.3h-3.3zM2980.3,507.5h3.2v3.2h-3.2zM3041.9,602.8h5.5v5.5h-5.5zM2984.6,520.2h3.2v3.2h-3.2zM2952.6,575.9h8.4v8.4h-8.4zM3023.8,604.3h4.4v4.4h-4.4zM3064.3,505.1h3.2v3.2h-3.2zM3025.2,521.8h8.3v8.3h-8.3zM3074.9,564.9h4.7v4.7h-4.7zM2993.4,520.8h8v8h-8zM3023.6,513.3h7.4v7.4h-7.4zM3014.6,559.5h3.9v3.9h-3.9zM3050.9,588.6h3.9v3.9h-3.9zM3005.5,559.8h3.2v3.2h-3.2zM3099.6,510.2h6.1v6.1h-6.1zM3057.9,536h6.3v6.3h-6.3zM3077.1,520.7h7.6v7.6h-7.6zM3023.1,555.8h3.9v3.9h-3.9zM2966.5,535h7.9v7.9h-7.9z" fill="#70F4FF" opacity="0.9" filter="url(#b2)"/>
<ellipse cx="3024.2" cy="613.5" rx="90.4" ry="23.1" fill="#2484FF" filter="url(#b12)" opacity="0.7"/>
<ellipse cx="3024.2" cy="600" rx="75" ry="16.2" fill="#E4FFFF" filter="url(#b6)"/>
</g>
<g clip-path="url(#pc4)">
<rect x="3158.5" y="478.8" width="241.5" height="11.5" fill="#00244C" filter="url(#b4)"/>
<path d="M3175,265.8 L3175,148.1 Q3175,126.9 3204.6,126.9 L3364.6,126.9 Q3394.2,126.9 3394.2,148.1 L3394.2,265.8 Q3394.2,271.2 3388.8,271.2 L3180.4,271.2 Q3175,271.2 3175,265.8 Z" fill="#0420FF" filter="url(#b10)" opacity="0.55"/>
<path d="M3175,265.8 L3175,148.1 Q3175,126.9 3204.6,126.9 L3364.6,126.9 Q3394.2,126.9 3394.2,148.1 L3394.2,265.8 Q3394.2,271.2 3388.8,271.2 L3180.4,271.2 Q3175,271.2 3175,265.8 Z" fill="#0420FF" filter="url(#b3)"/>
<rect x="3178.1" y="244.2" width="213.1" height="25.4" fill="#0010E0" filter="url(#b6)" opacity="0.7"/>
<rect x="3183.1" y="289.2" width="195.4" height="350" fill="#0E4A82" rx="18.5" filter="url(#b5)"/>
<rect x="3191.5" y="266.2" width="182.3" height="28.5" fill="#1040FF" filter="url(#b6)"/>
<path d="M3341.5,291.8h2.8v2.8h-2.8zM3243.2,271.8h4.9v4.9h-4.9zM3225.2,270.7h4.4v4.4h-4.4zM3286,276h3.2v3.2h-3.2zM3217.8,283.9h3.1v3.1h-3.1zM3338.7,288.9h3.3v3.3h-3.3zM3348.6,291.2h3.8v3.8h-3.8zM3318.5,269.9h5v5h-5zM3225.9,274.1h3.7v3.7h-3.7zM3362,267.8h4.3v4.3h-4.3zM3236.8,275.7h3.6v3.6h-3.6zM3336.5,290.1h4.8v4.8h-4.8z" fill="#60B0FF" opacity="0.8" filter="url(#b2)"/>
<path d="M3197.1,287.5h3.4v3.4h-3.4zM3227.1,278.2h5.1v5.1h-5.1zM3330.5,285.1h2.9v2.9h-2.9zM3337.8,281.9h2.9v2.9h-2.9zM3316.7,280.3h4.9v4.9h-4.9zM3365.6,269.1h3.4v3.4h-3.4zM3198.8,287.4h2.7v2.7h-2.7zM3365.4,272.9h2.9v2.9h-2.9zM3249.4,281.2h5.2v5.2h-5.2zM3211.3,284.8h2.9v2.9h-2.9zM3342.4,283.2h3.7v3.7h-3.7zM3350.7,280.8h3v3h-3zM3220.3,281.6h4.6v4.6h-4.6z" fill="#3C8CFF" opacity="0.8" filter="url(#b2)"/>
<path d="M3272.6,287h5.2v5.2h-5.2zM3340.9,289.5h4.6v4.6h-4.6zM3347.2,279.6h2.4v2.4h-2.4zM3341.4,276.5h2.8v2.8h-2.8zM3295.9,288.8h3.4v3.4h-3.4zM3347.8,281.7h5.1v5.1h-5.1zM3282.8,274.3h2.7v2.7h-2.7zM3268.6,288.3h3.9v3.9h-3.9zM3365.9,268.6h3.4v3.4h-3.4zM3203.7,280.2h5.3v5.3h-5.3z" fill="#2C6CFF" opacity="0.8" filter="url(#b2)"/>
<rect x="3193.1" y="296.9" width="156.9" height="183.8" fill="url(#pap5)" filter="url(#b3)"/>
<path d="M3233.5,374.7h4.3v4.3h-4.3zM3271.9,303.7h2.7v2.7h-2.7zM3201.3,413.5h3.1v3.1h-3.1zM3205.2,469.7h5.1v5.1h-5.1zM3208.8,404.4h5.2v5.2h-5.2zM3214.7,323.2h3.2v3.2h-3.2zM3282.8,348.5h4.6v4.6h-4.6zM3322.1,407.9h4.1v4.1h-4.1zM3226.3,425.7h3.7v3.7h-3.7zM3246.2,333.4h4v4h-4zM3287,361.6h4.3v4.3h-4.3zM3344.5,419.9h5.2v5.2h-5.2zM3246.7,362.4h4.4v4.4h-4.4zM3319.3,391.6h4.6v4.6h-4.6zM3270.8,470.3h4.1v4.1h-4.1zM3253.1,380h3.7v3.7h-3.7zM3240.1,369.1h4v4h-4zM3293.4,301.2h4.6v4.6h-4.6zM3261.5,366.7h3v3h-3zM3244.7,449.2h4.9v4.9h-4.9zM3200,345.4h5.1v5.1h-5.1zM3334.2,436.8h4v4h-4zM3273.8,391.5h4.4v4.4h-4.4zM3265.8,307.2h4.4v4.4h-4.4zM3328.1,470.6h3.8v3.8h-3.8zM3221.8,356.3h5.3v5.3h-5.3zM3273,319.6h5.1v5.1h-5.1z" fill="#44B4F4" opacity="0.8" filter="url(#b2)"/>
<path d="M3212.5,333.2h3.3v3.3h-3.3zM3312.6,465.8h4.3v4.3h-4.3zM3290.4,442.7h2.4v2.4h-2.4zM3233.7,392.1h3.6v3.6h-3.6zM3239.3,354h4.3v4.3h-4.3zM3288.1,383h3.3v3.3h-3.3zM3197.9,362.4h5v5h-5zM3244.7,357.6h3.1v3.1h-3.1zM3240.5,436.6h2.8v2.8h-2.8zM3321.3,362.7h4.7v4.7h-4.7zM3236.5,411.6h4.3v4.3h-4.3zM3258.1,318.3h3.6v3.6h-3.6zM3323.6,349.4h4.2v4.2h-4.2zM3253.3,353.1h4v4h-4zM3226.8,375.4h5.1v5.1h-5.1zM3338.3,419.7h3.9v3.9h-3.9zM3257.6,388.6h4.3v4.3h-4.3zM3311.3,459.1h4.1v4.1h-4.1z" fill="#58CCFF" opacity="0.8" filter="url(#b2)"/>
<rect x="3351.2" y="300" width="25" height="184.6" fill="#0C3A62" filter="url(#b4)"/>
<path d="M3371.7,482.8h5v5h-5zM3367.9,336.3h3.8v3.8h-3.8zM3355.4,396.5h4.8v4.8h-4.8zM3371.3,311.5h2.3v2.3h-2.3zM3373.6,450.6h3.2v3.2h-3.2zM3368.1,424.6h4.1v4.1h-4.1z" fill="#06182C" opacity="0.8" filter="url(#b2)"/>
<path d="M3366.9,396.7h4.8v4.8h-4.8zM3363.8,334.7h2.9v2.9h-2.9zM3360,483.5h4.3v4.3h-4.3zM3368.4,302h2.3v2.3h-2.3zM3374.1,373.4h2.6v2.6h-2.6zM3372.9,465.3h3.9v3.9h-3.9zM3365.5,375.9h2.7v2.7h-2.7zM3364.1,394.1h2.4v2.4h-2.4zM3354.8,344h3.2v3.2h-3.2zM3357.8,318.4h5.1v5.1h-5.1zM3359.9,383h3.5v3.5h-3.5zM3356.7,373.1h4.7v4.7h-4.7zM3362.1,414.5h3.1v3.1h-3.1zM3355.1,408.4h2.8v2.8h-2.8zM3375.2,391.5h5.2v5.2h-5.2zM3358.9,461.6h3.8v3.8h-3.8z" fill="#38B0F0" opacity="0.8" filter="url(#b2)"/>
<ellipse cx="3278.8" cy="493.1" rx="85.4" ry="17.7" fill="#0C3050" filter="url(#b5)"/>
<rect x="3188.5" y="509.6" width="186.5" height="125.8" fill="#18B8F0" filter="url(#b12)"/>
<path d="M3208.1,528.6h3.8v3.8h-3.8zM3367.9,543.5h4.5v4.5h-4.5zM3337.8,537.5h2.8v2.8h-2.8zM3229.9,624.7h4.2v4.2h-4.2zM3236.8,582.5h3.1v3.1h-3.1zM3329.4,531.4h5.1v5.1h-5.1zM3325,595.4h2.5v2.5h-2.5zM3302.3,560.7h5.2v5.2h-5.2zM3318.1,627.6h4.9v4.9h-4.9zM3235,539.7h6v6h-6zM3216.4,586.6h5v5h-5zM3306.1,522.2h3.9v3.9h-3.9zM3227.9,594h4v4h-4zM3226.6,574.5h2.3v2.3h-2.3zM3343.8,538.9h2.5v2.5h-2.5z" fill="#90FFFF" opacity="0.8" filter="url(#b2)"/>
<path d="M3252.9,615h3.6v3.6h-3.6zM3256.1,596.6h3.8v3.8h-3.8zM3300,561.9h6.1v6.1h-6.1zM3314.8,519h5.6v5.6h-5.6zM3331.8,555.1h4.8v4.8h-4.8zM3218.5,509.5h5v5h-5zM3224.3,612.4h3.5v3.5h-3.5zM3353.4,516.1h5.8v5.8h-5.8zM3256.6,611.6h4.1v4.1h-4.1zM3224.2,552.8h5.4v5.4h-5.4zM3255.8,558.5h4.8v4.8h-4.8zM3275.9,630.8h3.8v3.8h-3.8zM3210,543.6h3.3v3.3h-3.3zM3261.1,512.5h3.5v3.5h-3.5zM3321.9,539h4v4h-4zM3296.3,622.9h2.7v2.7h-2.7zM3244.1,513h5.6v5.6h-5.6zM3335.4,533.6h5.8v5.8h-5.8zM3357.5,559h5.2v5.2h-5.2zM3363.4,559.9h5.9v5.9h-5.9zM3283.2,592.4h5.5v5.5h-5.5zM3330,513.1h5v5h-5zM3239.5,574.9h6v6h-6zM3207.5,596h6.1v6.1h-6.1zM3308.8,585h5.9v5.9h-5.9zM3318.7,588.1h2.6v2.6h-2.6zM3258.8,626.1h4.3v4.3h-4.3zM3222.8,604.3h5.5v5.5h-5.5zM3294.8,585h5.5v5.5h-5.5z" fill="#0C5890" opacity="0.8" filter="url(#b2)"/>
<path d="M3204.1,522.9h5.5v5.5h-5.5zM3292.4,555.4h4.1v4.1h-4.1zM3235.2,512h4.9v4.9h-4.9zM3241.1,610.5h2.8v2.8h-2.8zM3276.7,605.5h3.2v3.2h-3.2zM3347.5,590.8h5.9v5.9h-5.9zM3233.2,523.2h5.1v5.1h-5.1zM3351.9,613.7h2.8v2.8h-2.8zM3362.5,577.2h3.2v3.2h-3.2zM3303.5,534.9h4.3v4.3h-4.3zM3274.2,514.4h5v5h-5zM3314,611.9h5.3v5.3h-5.3zM3257,558.4h3.1v3.1h-3.1zM3217.1,592.2h4.2v4.2h-4.2zM3235.3,537.4h4.3v4.3h-4.3zM3352.2,525.2h4.5v4.5h-4.5zM3314.7,526.7h6.1v6.1h-6.1zM3342.6,521.8h3.4v3.4h-3.4zM3280.3,513h5.8v5.8h-5.8zM3221.5,562.5h4.5v4.5h-4.5zM3222.7,516.5h2.3v2.3h-2.3zM3240.1,587.1h6v6h-6zM3197.3,603h5.5v5.5h-5.5zM3303.8,554.4h4.8v4.8h-4.8zM3250.2,553h4.4v4.4h-4.4zM3265.2,513.9h3.1v3.1h-3.1z" fill="#FFFFFF" opacity="0.8" filter="url(#b2)"/>
<ellipse cx="3269.2" cy="592.3" rx="78.8" ry="32.7" fill="#ECFFFF" filter="url(#b10)"/>
<path d="M3271.1,573.9h4v4h-4zM3212.8,567.5h4.4v4.4h-4.4zM3326.7,568.8h3.1v3.1h-3.1zM3212.1,582.8h4.5v4.5h-4.5zM3338.7,617.2h5v5h-5zM3323.1,593.9h5v5h-5zM3231.7,605.2h5.2v5.2h-5.2zM3216.3,575.1h5.8v5.8h-5.8zM3231.5,610.5h5.1v5.1h-5.1zM3232.2,596.2h3.4v3.4h-3.4zM3321.2,602h5.5v5.5h-5.5zM3322.9,595h5.3v5.3h-5.3zM3318.1,586.5h3.6v3.6h-3.6zM3280.1,607.1h3.5v3.5h-3.5zM3257.5,567.9h3.2v3.2h-3.2zM3265.4,571.9h3.5v3.5h-3.5zM3223.9,605.5h4.1v4.1h-4.1zM3302.7,567.7h4.9v4.9h-4.9zM3250.6,583h4.9v4.9h-4.9zM3331.7,601.7h3.9v3.9h-3.9zM3335,566.1h4.1v4.1h-4.1zM3269.3,591.4h3.2v3.2h-3.2z" fill="#30D8FF" opacity="0.8" filter="url(#b2)"/>
<path d="M3220.2,577.6h3.5v3.5h-3.5zM3231.1,585.4h3.2v3.2h-3.2zM3220.4,569.3h3.2v3.2h-3.2zM3328.6,574.2h4v4h-4zM3314.4,601.7h4.8v4.8h-4.8zM3302.9,583.2h5.1v5.1h-5.1zM3335.6,591.3h5.1v5.1h-5.1zM3294,585.4h4.9v4.9h-4.9zM3251.2,578.3h4.4v4.4h-4.4zM3275.5,578.9h4.6v4.6h-4.6zM3289.2,617.1h4.7v4.7h-4.7zM3288.4,612.3h4.8v4.8h-4.8zM3317.5,572h4.2v4.2h-4.2zM3298.8,566.5h6.1v6.1h-6.1zM3216.2,566.5h3.4v3.4h-3.4zM3226.4,595.2h4v4h-4zM3319,597.1h3.8v3.8h-3.8zM3210.6,598.8h5.1v5.1h-5.1z" fill="#18C0F0" opacity="0.8" filter="url(#b2)"/>
</g>
<g clip-path="url(#pc5)">
<rect x="3409.6" y="478.8" width="232.7" height="11.5" fill="#00244C" filter="url(#b4)"/>
<path d="M3428.8,263.8 L3428.8,150 Q3428.8,128.8 3458.5,128.8 L3593.5,128.8 Q3623.1,128.8 3623.1,150 L3623.1,263.8 Q3623.1,269.2 3617.7,269.2 L3434.2,269.2 Q3428.8,269.2 3428.8,263.8 Z" fill="#0420FF" filter="url(#b10)" opacity="0.55"/>
<path d="M3428.8,263.8 L3428.8,150 Q3428.8,128.8 3458.5,128.8 L3593.5,128.8 Q3623.1,128.8 3623.1,150 L3623.1,263.8 Q3623.1,269.2 3617.7,269.2 L3434.2,269.2 Q3428.8,269.2 3428.8,263.8 Z" fill="#0420FF" filter="url(#b3)"/>
<rect x="3431.9" y="242.3" width="188.1" height="25.4" fill="#0010E0" filter="url(#b6)" opacity="0.7"/>
<rect x="3437.7" y="291.5" width="171.5" height="347.7" fill="#0A3058" rx="18.5" filter="url(#b5)"/>
<rect x="3442.3" y="269.2" width="165.4" height="28.5" fill="#1068FF" filter="url(#b6)"/>
<rect x="3444.2" y="298.5" width="51.9" height="186.2" fill="#082240" filter="url(#b4)"/>
<path d="M3488,478.6h5v5h-5zM3474.8,306.6h3v3h-3zM3482,360.1h4.1v4.1h-4.1zM3477,433.8h2.9v2.9h-2.9zM3484.4,416.3h4.7v4.7h-4.7zM3461,482.5h4.2v4.2h-4.2zM3451.3,299.8h5.7v5.7h-5.7zM3474.7,325.2h5.1v5.1h-5.1zM3482,401.1h5.9v5.9h-5.9zM3453.5,406.5h6.1v6.1h-6.1zM3487.8,357.9h3v3h-3z" fill="#10E0FF" opacity="0.85" filter="url(#b2)"/>
<path d="M3464.7,461h4.7v4.7h-4.7zM3463,396.8h3.5v3.5h-3.5zM3460.6,360.9h4.2v4.2h-4.2zM3445.3,384h6.1v6.1h-6.1zM3446,402.8h5.3v5.3h-5.3zM3485.3,446.1h3.2v3.2h-3.2zM3490.7,449.1h6.1v6.1h-6.1zM3465.3,372.2h5.3v5.3h-5.3zM3494.6,427h5.1v5.1h-5.1zM3472.6,439.7h4.7v4.7h-4.7zM3480.8,339.1h3.8v3.8h-3.8zM3490.6,351.1h4.2v4.2h-4.2z" fill="#28C0F0" opacity="0.85" filter="url(#b2)"/>
<path d="M3458.4,391.5h3.3v3.3h-3.3zM3474,407.3h2.8v2.8h-2.8zM3479.6,355.1h5.2v5.2h-5.2zM3463.1,457.3h3.3v3.3h-3.3zM3481.4,360.7h5v5h-5zM3448,333.9h5.9v5.9h-5.9zM3454.4,435.1h6v6h-6z" fill="#1C70B0" opacity="0.85" filter="url(#b2)"/>
<ellipse cx="3465.4" cy="438.5" rx="10" ry="15.4" fill="#10F0FF" filter="url(#b4)"/>
<ellipse cx="3448.1" cy="350" rx="5.4" ry="11.5" fill="#10E8FF" filter="url(#b4)"/>
<ellipse cx="3457.7" cy="407.7" rx="4.6" ry="11.5" fill="#18D8FF" filter="url(#b4)"/>
<rect x="3498.1" y="298.1" width="101.2" height="180.8" fill="url(#pap5)" filter="url(#b3)"/>
<path d="M3506.5,314.6h4.8v4.8h-4.8zM3562.2,461.7h3v3h-3zM3583.7,306.6h3.8v3.8h-3.8zM3560.9,359.8h3.8v3.8h-3.8zM3526.1,382.1h2.3v2.3h-2.3zM3555.1,472.8h2.5v2.5h-2.5zM3563.9,406h3.3v3.3h-3.3zM3578.6,384.6h2.4v2.4h-2.4zM3563.3,397h4.5v4.5h-4.5zM3536,393.6h3.2v3.2h-3.2zM3502.8,384.3h4.3v4.3h-4.3zM3554.2,333.4h5.2v5.2h-5.2z" fill="#30D0FF" opacity="0.8" filter="url(#b2)"/>
<path d="M3569.7,302.8h3.1v3.1h-3.1zM3518.4,451.3h4.8v4.8h-4.8zM3516.7,305.1h3v3h-3zM3535.6,364.5h3.4v3.4h-3.4zM3516.1,410.8h3.5v3.5h-3.5zM3590.2,410h2.7v2.7h-2.7z" fill="#58CCFF" opacity="0.8" filter="url(#b2)"/>
<rect x="3599.2" y="300" width="9.2" height="300" fill="#1470C8" filter="url(#b4)" opacity="0.8"/>
<ellipse cx="3534.6" cy="493.1" rx="71.2" ry="15.4" fill="#0C3050" filter="url(#b5)"/>
<rect x="3446.2" y="508.5" width="158.5" height="126.9" fill="#18A8E8" filter="url(#b12)" opacity="0.85"/>
<path d="M3563,620.5h5.7v5.7h-5.7zM3511.9,622.6h5.9v5.9h-5.9zM3452.9,510.3h5v5h-5zM3494.6,632h3.1v3.1h-3.1zM3522.4,624.4h5.3v5.3h-5.3zM3573.5,526.7h5.8v5.8h-5.8zM3458.1,521.5h6v6h-6zM3529.9,508h3.2v3.2h-3.2zM3578.9,627.3h2.6v2.6h-2.6zM3510.3,547.5h3.9v3.9h-3.9zM3508.4,555.9h3.9v3.9h-3.9zM3556.1,598.9h6.1v6.1h-6.1zM3527.5,581.7h6.1v6.1h-6.1zM3529.4,567.3h3.2v3.2h-3.2zM3458.3,602.3h3.7v3.7h-3.7zM3530.2,609.4h3.2v3.2h-3.2zM3556.3,563.9h4.1v4.1h-4.1zM3462.3,587.2h5.6v5.6h-5.6zM3503,555.9h4.5v4.5h-4.5z" fill="#FFFFFF" opacity="0.8" filter="url(#b2)"/>
<path d="M3530.4,551.5h5v5h-5zM3464.9,599.4h2.6v2.6h-2.6zM3553.1,551.5h3.2v3.2h-3.2zM3576.2,543h3.6v3.6h-3.6zM3583.9,538.9h3.5v3.5h-3.5zM3455.3,604.4h4v4h-4zM3565.1,565.8h3.8v3.8h-3.8zM3454,570.8h3.2v3.2h-3.2zM3489.7,548.4h2.5v2.5h-2.5zM3554.8,563h4.9v4.9h-4.9zM3599.4,507.8h5.2v5.2h-5.2zM3498.2,552.9h5.6v5.6h-5.6zM3518.6,518.7h3.8v3.8h-3.8zM3590.9,539.6h3.3v3.3h-3.3zM3551.8,548.9h2.6v2.6h-2.6zM3464.9,578.1h5.9v5.9h-5.9zM3512.7,566.9h5.7v5.7h-5.7z" fill="#0A2848" opacity="0.8" filter="url(#b2)"/>
<path d="M3601.1,570.1h4.8v4.8h-4.8zM3484.1,533.1h5.2v5.2h-5.2zM3481.1,514.2h5.3v5.3h-5.3zM3501,622.5h5.1v5.1h-5.1zM3556.9,598.8h2.5v2.5h-2.5zM3546.7,575.9h6.1v6.1h-6.1zM3598.6,532.2h2.5v2.5h-2.5zM3532.8,576.3h5v5h-5zM3588,587.1h3.2v3.2h-3.2zM3589.6,513.9h5v5h-5zM3576.6,606.6h5.7v5.7h-5.7zM3559,556.9h4.3v4.3h-4.3zM3459.3,607.4h4.9v4.9h-4.9zM3488.9,612.8h5.6v5.6h-5.6zM3504.9,590.6h4.3v4.3h-4.3zM3566.3,526.4h4.9v4.9h-4.9zM3524.2,590.2h4.7v4.7h-4.7zM3537,514.9h3v3h-3zM3468.1,627.5h3.4v3.4h-3.4zM3559.1,544.6h3.9v3.9h-3.9z" fill="#0C3860" opacity="0.8" filter="url(#b2)"/>
<path d="M3588.4,556.3h3.1v3.1h-3.1zM3582.7,632h3.5v3.5h-3.5zM3590.1,526.5h5.1v5.1h-5.1zM3600.7,511.8h3.2v3.2h-3.2zM3581,629.2h3.2v3.2h-3.2zM3490.6,529.8h3.3v3.3h-3.3zM3551.4,518.5h4.7v4.7h-4.7zM3471.8,590.4h3v3h-3zM3467.2,526.9h3.3v3.3h-3.3zM3572.9,539.3h4.4v4.4h-4.4zM3591.5,597.4h3.8v3.8h-3.8zM3600.4,614.2h4.5v4.5h-4.5zM3507.2,573.4h4.2v4.2h-4.2zM3510,524.6h5.2v5.2h-5.2z" fill="#90FFFF" opacity="0.8" filter="url(#b2)"/>
<ellipse cx="3496.2" cy="521.2" rx="35.4" ry="27.7" fill="#00F2FF" filter="url(#b10)"/>
<ellipse cx="3511.5" cy="559.6" rx="63.5" ry="17.7" fill="#FFFFFF" filter="url(#b8)"/>
<ellipse cx="3496.2" cy="612.3" rx="48.1" ry="9.2" fill="#F0FFFF" filter="url(#b6)"/>
</g>
<rect x="392.9" y="808.5" width="1274.1999999999998" height="300" fill="#E6E6E6"/>
<polygon points="392.3,936.5 646.8,869.6 901.8,962.3 1156.8,988 1411.8,1060.2 1668.9,1080.8 1668.9,1479.3 1411.8,1438.1 1156.8,1469 901.8,1355.7 646.8,1360.8 392.3,1330" fill="#A3F1FF"/>
<polygon points="389,1328 646.8,1358.8 901.8,1353.7 1156.8,1467 1411.8,1436.1 1667.3,1477.3 1667.3,1936.5 389,1933.5" fill="#FF9EB0"/>
<polygon points="1156.8,1405.2 1411.8,1358.8 1668.5,1312.5 1668.5,1477.3 1411.8,1436.1 1156.8,1467" fill="#8CFF8A"/>
<g stroke="#000" stroke-width="3.5" fill="none">
<rect x="314.5" y="807.5" width="1429.6" height="1133.5"/>
<path d="M314.5,1889.3 h28 M314.5,1786.3 h28 M314.5,1683.3 h28 M314.5,1580.3 h28 M314.5,1477.3 h28 M314.5,1374.3 h28 M314.5,1271.3 h28 M314.5,1168.3 h28 M314.5,1065.3 h28 M314.5,962.3 h28 M314.5,859.3 h28 M391.8,1941.0 v-28 M646.8,1941.0 v-28 M901.8,1941.0 v-28 M1156.8,1941.0 v-28 M1411.8,1941.0 v-28 M1666.8,1941.0 v-28 "/>
</g>
<polyline points="391.8,936.5 646.8,869.6 901.8,962.3 1156.8,988 1411.8,1060.2 1666.8,1080.8" fill="none" stroke="#0000FF" stroke-width="4.5"/>
<polyline points="391.8,1328 646.8,1358.8 901.8,1353.7 1156.8,1467 1411.8,1436.1 1666.8,1477.3" fill="none" stroke="#FF0000" stroke-width="4.5"/>
<polygon points="361.1,918.9 422.6,918.9 391.8,971.9" fill="#0000FF"/>
<polygon points="616,851.9 677.5,851.9 646.8,904.9" fill="#0000FF"/>
<polygon points="871,944.6 932.5,944.6 901.8,997.6" fill="#0000FF"/>
<polygon points="1126,970.4 1187.5,970.4 1156.8,1023.4" fill="#0000FF"/>
<polygon points="1381,1042.5 1442.5,1042.5 1411.8,1095.5" fill="#0000FF"/>
<polygon points="1636,1063.1 1697.5,1063.1 1666.8,1116.1" fill="#0000FF"/>
<polygon points="361.1,1345.6 422.6,1345.6 391.8,1292.6" fill="#FF0000"/>
<polygon points="616,1376.5 677.5,1376.5 646.8,1323.5" fill="#FF0000"/>
<polygon points="871,1371.4 932.5,1371.4 901.8,1318.4" fill="#FF0000"/>
<polygon points="1126,1484.7 1187.5,1484.7 1156.8,1431.7" fill="#FF0000"/>
<polygon points="1381,1453.8 1442.5,1453.8 1411.8,1400.8" fill="#FF0000"/>
<polygon points="1636,1495 1697.5,1495 1666.8,1442" fill="#FF0000"/>
<rect x="1130.6" y="1379.2" width="52.4" height="52" fill="#009100"/>
<rect x="1385.6" y="1332.8" width="52.4" height="52" fill="#009100"/>
<rect x="1640.6" y="1286.5" width="52.4" height="52" fill="#009100"/>
<line x1="1151.8" y1="1407" x2="1685.7" y2="1310" stroke="#007A00" stroke-width="4"/>
<text transform="translate(299.8,1910.7)" style="font-size:68px;" fill="#000" text-anchor="end">40</text>
<text transform="translate(299.8,1807.7)" style="font-size:68px;" fill="#000" text-anchor="end">60</text>
<text transform="translate(299.8,1704.7)" style="font-size:68px;" fill="#000" text-anchor="end">80</text>
<text transform="translate(299.8,1601.7)" style="font-size:68px;" fill="#000" text-anchor="end">100</text>
<text transform="translate(299.8,1498.7)" style="font-size:68px;" fill="#000" text-anchor="end">120</text>
<text transform="translate(299.8,1395.7)" style="font-size:68px;" fill="#000" text-anchor="end">140</text>
<text transform="translate(299.8,1292.7)" style="font-size:68px;" fill="#000" text-anchor="end">160</text>
<text transform="translate(299.8,1189.7)" style="font-size:68px;" fill="#000" text-anchor="end">180</text>
<text transform="translate(299.8,1086.7)" style="font-size:68px;" fill="#000" text-anchor="end">200</text>
<text transform="translate(299.8,983.7)" style="font-size:68px;" fill="#000" text-anchor="end">220</text>
<text transform="translate(299.8,880.7)" style="font-size:68px;" fill="#000" text-anchor="end">240</text>
<text transform="translate(391.8,2010.5)" style="font-size:68px;" fill="#000" text-anchor="middle">1</text>
<text transform="translate(646.8,2010.5)" style="font-size:68px;" fill="#000" text-anchor="middle">2</text>
<text transform="translate(901.8,2010.5)" style="font-size:68px;" fill="#000" text-anchor="middle">3</text>
<text transform="translate(1156.8,2010.5)" style="font-size:68px;" fill="#000" text-anchor="middle">4</text>
<text transform="translate(1411.8,2010.5)" style="font-size:68px;" fill="#000" text-anchor="middle">5</text>
<text transform="translate(1666.8,2010.5)" style="font-size:68px;" fill="#000" text-anchor="middle">6</text>
<text transform="translate(1028.4,2111.8) scale(1.0,1.03)" style="font-size:67.1px;" fill="#000" text-anchor="middle">Number of alkoxy carbon chain (<tspan style="font-style:italic">n</tspan>)</text>
<text transform="translate(110.4,1375) rotate(-90) scale(1.0,1.06)" style="font-size:67.2px;" fill="#000" text-anchor="middle">Temperature [°C]</text>
<text transform="translate(389.1,893.5)" style="font-size:60px;" fill="#0433FF" text-anchor="middle">225</text>
<text transform="translate(643,963.1)" style="font-size:60px;" fill="#0433FF" text-anchor="middle">238</text>
<text transform="translate(899.5,923.9)" style="font-size:60px;" fill="#0433FF" text-anchor="middle">220</text>
<text transform="translate(1159.4,943.5)" style="font-size:60px;" fill="#0433FF" text-anchor="middle">215</text>
<text transform="translate(1407.7,1013.9)" style="font-size:60px;" fill="#0433FF" text-anchor="middle">201</text>
<text transform="translate(1669.7,1047.1)" style="font-size:60px;" fill="#0433FF" text-anchor="middle">197</text>
<text transform="translate(388.4,1403.5)" style="font-size:60px;" fill="#FF0000" text-anchor="middle">149</text>
<text transform="translate(635.9,1439.9)" style="font-size:60px;" fill="#FF0000" text-anchor="middle">143</text>
<text transform="translate(902.2,1433.1)" style="font-size:60px;" fill="#FF0000" text-anchor="middle">144</text>
<text transform="translate(1154.1,1548.1)" style="font-size:60px;" fill="#FF0000" text-anchor="middle">122</text>
<text transform="translate(1410.9,1523.5)" style="font-size:60px;" fill="#FF0000" text-anchor="middle">128</text>
<text transform="translate(1666,1556.4)" style="font-size:60px;" fill="#FF0000" text-anchor="middle">120</text>
<text transform="translate(1151.8,1362.4)" style="font-size:60px;" fill="#00A650" text-anchor="middle">134</text>
<text transform="translate(1401.8,1309.9)" style="font-size:60px;" fill="#00A650" text-anchor="middle">143</text>
<text transform="translate(1654.5,1267.1)" style="font-size:60px;" fill="#00A650" text-anchor="middle">152</text>
<text transform="translate(971.4,877.1) scale(1.0,0.96)" style="font-size:81px;font-weight:bold;" fill="#000">Iso</text>
<text transform="translate(962.3,1215) scale(1.0,0.964)" style="font-size:83.5px;font-weight:bold;" fill="#0000FF">N</text>
<text transform="translate(949,1766.4)" style="font-size:80px;font-weight:bold;" fill="#FF0000">Cr</text>
<text transform="translate(1481,1422.1)" style="font-size:79px;font-weight:bold;" fill="#008000">SmA</text>
<text transform="translate(1238.7,921) scale(0.8,1.0)" style="font-size:100px;" fill="#000">(</text>
<text transform="translate(1269.4,925.4)" style="font-size:98px;letter-spacing:1.8px;" fill="#000">等方相</text>
<text transform="translate(1569.3,921) scale(0.8,1.0)" style="font-size:100px;" fill="#000">)</text>
<text transform="translate(1062.9,1227.9) scale(0.8,1.0)" style="font-size:100px;" fill="#000">(</text>
<text transform="translate(1093.6,1232.3)" style="font-size:98px;letter-spacing:1.8px;" fill="#000">液晶相</text>
<text transform="translate(1393.5,1227.9) scale(0.8,1.0)" style="font-size:100px;" fill="#000">)</text>
<text transform="translate(1062.9,1785.7) scale(0.8,1.0)" style="font-size:100px;" fill="#000">(</text>
<text transform="translate(1093.6,1790.1)" style="font-size:98px;letter-spacing:1.8px;" fill="#000">結晶相</text>
<text transform="translate(1393.5,1785.7) scale(0.8,1.0)" style="font-size:100px;" fill="#000">)</text>
<g stroke="#000" stroke-width="3.5" fill="none">
<rect x="2187.3" y="809.0" width="1435.6" height="1154.2"/>
<path d="M2187.3,1792.1 h28 M2187.3,1621.1 h28 M2187.3,1450 h28 M2187.3,1279 h28 M2187.3,1107.9 h28 M2187.3,936.8 h28 M2268.2,1963.2 v-28 M2538.9,1963.2 v-28 M2809.6,1963.2 v-28 M3080.3,1963.2 v-28 M3351,1963.2 v-28 "/>
</g>
<polyline points="2187,1828.2 2192.4,1817.4 2197.8,1807.1 2203.2,1797.2 2208.6,1787.1 2214.1,1777.4 2219.5,1768.1 2224.9,1759.3 2230.3,1750.8 2235.7,1742.6 2241.1,1734.4 2246.5,1726.2 2252,1718.4 2257.4,1711.1 2262.8,1704.6 2268.2,1698.3 2273.6,1692.1 2279,1686.1 2284.4,1680.5 2289.9,1675.6 2295.3,1670.6 2300.7,1665.8 2306.1,1661.2 2311.5,1657.5 2316.9,1654.4 2322.3,1651.7 2327.8,1649 2333.2,1646.7 2338.6,1644.6 2344,1642.3 2349.4,1640.4 2354.8,1639.1 2360.2,1638.7 2365.7,1638.4 2371.1,1638.2 2376.5,1637.9 2381.9,1637.7 2387.3,1638.3 2392.7,1639.9 2398.1,1642.5 2403.5,1645.6 2409,1648.8 2414.4,1652.1 2419.8,1656.2 2425.2,1660.7 2430.6,1665.6 2436,1671 2441.4,1676.7 2446.9,1682.5 2452.3,1687.7 2457.7,1692.6 2463.1,1697.4 2468.5,1702.1 2473.9,1707.3 2479.3,1712.6 2484.8,1718.3 2490.2,1723.8 2495.6,1729.4 2501,1734.4 2506.4,1739.1 2511.8,1743.2 2517.2,1747.5 2522.7,1752.2 2528.1,1756.9 2533.5,1761.7 2538.9,1766.2 2544.3,1770.7 2549.7,1774.7 2555.1,1778.7 2560.6,1782.5 2566,1786.7 2571.4,1790.6 2576.8,1794.4 2582.2,1798 2587.6,1801.9 2593,1805.7 2598.5,1809.8 2603.9,1813.7 2609.3,1817.7 2614.7,1821.2 2620.1,1824.9 2625.5,1828.3 2630.9,1831.9 2636.4,1835.4 2641.8,1838.8 2647.2,1842.4 2652.6,1846.5 2658,1850.7 2663.4,1854.7 2668.8,1858 2674.2,1861 2679.7,1863.9 2685.1,1866.9 2690.5,1869.8 2695.9,1872.6 2701.3,1875.2 2706.7,1877.8 2712.1,1880.1 2717.6,1882.1 2723,1884.1 2728.4,1886.4 2733.8,1888.9 2739.2,1890.9 2744.6,1892.6 2750,1894.3 2755.5,1896.5 2760.9,1898.6 2766.3,1900.4 2771.7,1901.9 2777.1,1903.6 2782.5,1905.3 2787.9,1906.9 2793.4,1908.4 2798.8,1909.6 2804.2,1911 2809.6,1912.1 2815,1913.4 2820.4,1914.6 2825.8,1916.1 2831.3,1917.2 2836.7,1918.6 2842.1,1920 2847.5,1921.5 2852.9,1922.6 2858.3,1923.3 2863.7,1924 2869.2,1924.9 2874.6,1926 2880,1927.1 2885.4,1927.8 2890.8,1928.2 2896.2,1928.6 2901.6,1929.5 2907.1,1930.6 2912.5,1931.7 2917.9,1932.5 2923.3,1933.2 2928.7,1934 2934.1,1935.1 2939.5,1936 2944.9,1936.6 2950.4,1936.7 2955.8,1936.9 2961.2,1937.3 2966.6,1937.9 2972,1938.4 2977.4,1938.8 2982.8,1939.2 2988.3,1939.6 2993.7,1940.1 2999.1,1940.7 3004.5,1941.1 3009.9,1941.6 3015.3,1941.8 3020.7,1942.1 3026.2,1942.3 3031.6,1942.7 3037,1942.9 3042.4,1943.1 3047.8,1943.3 3053.2,1943.7 3058.6,1944.2 3064.1,1944.3 3069.5,1944.4 3074.9,1944.3 3080.3,1944.8 3085.7,1945.3 3091.1,1945.6 3096.5,1945.9 3102,1945.9 3107.4,1946.3 3112.8,1946.8 3118.2,1947.2 3123.6,1947.8 3129,1948.2 3134.4,1948.6 3139.9,1948.7 3145.3,1948.4 3150.7,1947.9 3156.1,1947.8 3161.5,1948 3166.9,1948.6 3172.3,1949.5 3177.8,1950.3 3183.2,1951 3188.6,1951.1 3194,1951 3199.4,1950.7 3204.8,1950.8 3210.2,1951.3 3215.6,1951.8 3221.1,1952.1 3226.5,1951.9 3231.9,1951.8 3237.3,1951.7 3242.7,1951.6 3248.1,1951.4 3253.5,1951.7 3259,1952.2 3264.4,1952.8 3269.8,1953.1 3275.2,1953 3280.6,1952.9 3286,1952.8 3291.4,1952.6 3296.9,1952.6 3302.3,1952.8 3307.7,1953.3 3313.1,1953.8 3318.5,1954 3323.9,1954 3329.3,1953.6 3334.8,1953.7 3340.2,1953.7 3345.6,1954.1 3351,1954.2 3356.4,1954.3 3361.8,1954.5 3367.2,1954.8 3372.7,1955.2 3378.1,1955.4 3383.5,1955.4 3388.9,1955.3 3394.3,1954.9 3399.7,1955.2 3405.1,1955.5 3410.6,1956.2 3416,1956.1 3421.4,1956 3426.8,1955.6 3432.2,1955.6 3437.6,1955.8 3443,1955.7 3448.5,1955.5 3453.9,1955.3 3459.3,1955.7 3464.7,1956.2 3470.1,1956.9 3475.5,1957.1 3480.9,1957.1 3486.3,1956.6 3491.8,1956.1 3497.2,1955.9 3502.6,1956 3508,1956.1 3513.4,1956 3518.8,1956.1 3524.2,1956.2 3529.7,1956.4 3535.1,1957 3540.5,1957.5 3545.9,1958.2 3551.3,1958.4 3556.7,1958.4 3562.1,1958.4 3567.6,1958.4 3573,1958.3 3578.4,1957.8 3583.8,1957.3 3589.2,1957.3 3594.6,1957.6 3600,1957.8 3605.5,1957.9 3610.9,1957.7 3616.3,1957.8 3621.7,1957.8" fill="none" stroke="#0000FF" stroke-width="3.2" stroke-linejoin="round"/>
<polyline points="2187,1843.8 2192.4,1834.4 2197.8,1825.2 2203.2,1816.3 2208.6,1807.3 2214.1,1798.7 2219.5,1789.9 2224.9,1781.8 2230.3,1773.8 2235.7,1766.4 2241.1,1758.9 2246.5,1751.8 2252,1744.4 2257.4,1736.9 2262.8,1729.2 2268.2,1722 2273.6,1714.8 2279,1707.8 2284.4,1701.1 2289.9,1695.3 2295.3,1690.1 2300.7,1685 2306.1,1679.7 2311.5,1674.7 2316.9,1670.5 2322.3,1667.4 2327.8,1664.4 2333.2,1661.6 2338.6,1658.5 2344,1655.6 2349.4,1652.5 2354.8,1649.7 2360.2,1647 2365.7,1645.1 2371.1,1643.6 2376.5,1642 2381.9,1640.3 2387.3,1638.4 2392.7,1637.7 2398.1,1638.3 2403.5,1639.7 2409,1641.4 2414.4,1643.8 2419.8,1646.2 2425.2,1649.6 2430.6,1654.1 2436,1659.6 2441.4,1665.5 2446.9,1671.7 2452.3,1678 2457.7,1683.8 2463.1,1689.4 2468.5,1694.1 2473.9,1699 2479.3,1703.5 2484.8,1708.5 2490.2,1713.8 2495.6,1719.6 2501,1725.5 2506.4,1730.8 2511.8,1735.5 2517.2,1739.8 2522.7,1744.2 2528.1,1749 2533.5,1753.8 2538.9,1758.4 2544.3,1762.6 2549.7,1767 2555.1,1771.7 2560.6,1776.4 2566,1780.5 2571.4,1784.4 2576.8,1788.2 2582.2,1792.5 2587.6,1796.5 2593,1800.3 2598.5,1803.4 2603.9,1806.9 2609.3,1810.7 2614.7,1815.3 2620.1,1819.4 2625.5,1823.4 2630.9,1826.7 2636.4,1830.2 2641.8,1833.6 2647.2,1837 2652.6,1840.5 2658,1843.9 2663.4,1847.8 2668.8,1851.8 2674.2,1855.8 2679.7,1859.1 2685.1,1862 2690.5,1864.6 2695.9,1867.3 2701.3,1870.1 2706.7,1873.1 2712.1,1875.8 2717.6,1878.2 2723,1880.5 2728.4,1882.6 2733.8,1884.8 2739.2,1886.7 2744.6,1888.9 2750,1890.7 2755.5,1892.9 2760.9,1894.9 2766.3,1897.2 2771.7,1899 2777.1,1900.7 2782.5,1902.2 2787.9,1904.1 2793.4,1906.2 2798.8,1908 2804.2,1909.7 2809.6,1910.9 2815,1912.4 2820.4,1913.7 2825.8,1915.2 2831.3,1916.3 2836.7,1917.4 2842.1,1918.4 2847.5,1919.5 2852.9,1920.7 2858.3,1922.1 2863.7,1923.4 2869.2,1924.7 2874.6,1925.3 2880,1925.5 2885.4,1925.6 2890.8,1926.2 2896.2,1927.5 2901.6,1928.8 2907.1,1930 2912.5,1930.5 2917.9,1931.1 2923.3,1931.8 2928.7,1932.7 2934.1,1933.2 2939.5,1933.6 2944.9,1934.1 2950.4,1935.2 2955.8,1936.3 2961.2,1937.3 2966.6,1937.7 2972,1937.9 2977.4,1937.8 2982.8,1937.9 2988.3,1938.3 2993.7,1938.8 2999.1,1939.6 3004.5,1940.1 3009.9,1940.4 3015.3,1940.6 3020.7,1940.9 3026.2,1941.6 3031.6,1942.3 3037,1942.8 3042.4,1943.2 3047.8,1943.3 3053.2,1943.1 3058.6,1942.8 3064.1,1942.6 3069.5,1942.9 3074.9,1943.3 3080.3,1943.9 3085.7,1944.5 3091.1,1944.9 3096.5,1945.3 3102,1945.7 3107.4,1946.1 3112.8,1945.9 3118.2,1945.5 3123.6,1945.4 3129,1945.5 3134.4,1946 3139.9,1946.5 3145.3,1947.1 3150.7,1947.7 3156.1,1948 3161.5,1948.3 3166.9,1948.2 3172.3,1948.4 3177.8,1948.6 3183.2,1948.9 3188.6,1949.2 3194,1949.5 3199.4,1949.7 3204.8,1949.9 3210.2,1950.2 3215.6,1950.8 3221.1,1951.3 3226.5,1951.8 3231.9,1951.9 3237.3,1951.7 3242.7,1951.5 3248.1,1951.9 3253.5,1952.3 3259,1952.6 3264.4,1952.4 3269.8,1952.2 3275.2,1952.3 3280.6,1952.8 3286,1953.3 3291.4,1953.8 3296.9,1954.1 3302.3,1954.2 3307.7,1954.1 3313.1,1953.8 3318.5,1953.7 3323.9,1953.9 3329.3,1954.4 3334.8,1954.9 3340.2,1954.9 3345.6,1954.8 3351,1954.4 3356.4,1954.3 3361.8,1954.7 3367.2,1955.2 3372.7,1955.3 3378.1,1955.2 3383.5,1955.2 3388.9,1955.3 3394.3,1955.5 3399.7,1955.4 3405.1,1955.4 3410.6,1955.5 3416,1955.8 3421.4,1955.9 3426.8,1955.9 3432.2,1955.9 3437.6,1956.3 3443,1956.4 3448.5,1956.7 3453.9,1956.4 3459.3,1956.7 3464.7,1956.7 3470.1,1956.8 3475.5,1956.7 3480.9,1956.7 3486.3,1957 3491.8,1957.1 3497.2,1957.4 3502.6,1957.7 3508,1958 3513.4,1958 3518.8,1957.9 3524.2,1957.5 3529.7,1957.3 3535.1,1957.3 3540.5,1957.9 3545.9,1958.5 3551.3,1958.9 3556.7,1958.7 3562.1,1958.4 3567.6,1958.2 3573,1958.4 3578.4,1958.6 3583.8,1959 3589.2,1958.7 3594.6,1958.2 3600,1957.8 3605.5,1957.9 3610.9,1958.2 3616.3,1958.3 3621.7,1958.2" fill="none" stroke="#0000FF" stroke-width="2.6" stroke-linejoin="round"/>
<polyline points="2187,1871.5 2192.4,1864.5 2197.8,1857.5 2203.2,1850.2 2208.6,1842.8 2214.1,1835.8 2219.5,1829.5 2224.9,1824 2230.3,1818.4 2235.7,1812.6 2241.1,1806.4 2246.5,1800.2 2252,1793.9 2257.4,1787.5 2262.8,1781.3 2268.2,1775.4 2273.6,1769.6 2279,1763.6 2284.4,1757.4 2289.9,1751 2295.3,1744.6 2300.7,1737.9 2306.1,1731.6 2311.5,1725.8 2316.9,1720.2 2322.3,1714.2 2327.8,1708.3 2333.2,1702.2 2338.6,1696.7 2344,1690.8 2349.4,1685.1 2354.8,1679.3 2360.2,1673.6 2365.7,1667.2 2371.1,1660.9 2376.5,1655.4 2381.9,1651.7 2387.3,1648.9 2392.7,1646.3 2398.1,1643.8 2403.5,1641.8 2409,1640.6 2414.4,1640 2419.8,1639.7 2425.2,1639.5 2430.6,1639.4 2436,1640.6 2441.4,1642.9 2446.9,1645.7 2452.3,1649.1 2457.7,1652.6 2463.1,1656.4 2468.5,1659.9 2473.9,1663.6 2479.3,1667 2484.8,1670.2 2490.2,1673.5 2495.6,1677.3 2501,1681.9 2506.4,1686.7 2511.8,1691.5 2517.2,1696.2 2522.7,1700.4 2528.1,1704.5 2533.5,1708.1 2538.9,1712.2 2544.3,1716.3 2549.7,1720.8 2555.1,1724.8 2560.6,1729.1 2566,1733.5 2571.4,1738 2576.8,1742.4 2582.2,1746.2 2587.6,1750.2 2593,1754.3 2598.5,1758.7 2603.9,1762.9 2609.3,1766.8 2614.7,1770.9 2620.1,1774.8 2625.5,1778.6 2630.9,1782.2 2636.4,1785.8 2641.8,1789.6 2647.2,1793.3 2652.6,1797.1 2658,1801 2663.4,1805.3 2668.8,1809.5 2674.2,1813.4 2679.7,1816.8 2685.1,1820.2 2690.5,1823.7 2695.9,1827.5 2701.3,1831 2706.7,1834.4 2712.1,1837.3 2717.6,1840.6 2723,1843.8 2728.4,1847.3 2733.8,1850.2 2739.2,1853.1 2744.6,1855.7 2750,1858.8 2755.5,1862.1 2760.9,1865.3 2766.3,1867.9 2771.7,1870.3 2777.1,1873 2782.5,1876.1 2787.9,1878.9 2793.4,1881.5 2798.8,1883.9 2804.2,1886 2809.6,1888 2815,1889.8 2820.4,1891.8 2825.8,1893.5 2831.3,1895.2 2836.7,1896.7 2842.1,1898.5 2847.5,1900.3 2852.9,1902.2 2858.3,1904.3 2863.7,1906 2869.2,1907.8 2874.6,1909.1 2880,1910.7 2885.4,1911.6 2890.8,1912.7 2896.2,1913.4 2901.6,1914.5 2907.1,1915.4 2912.5,1916.7 2917.9,1917.9 2923.3,1919 2928.7,1919.7 2934.1,1920.3 2939.5,1920.4 2944.9,1920.8 2950.4,1921.2 2955.8,1922.4 2961.2,1923.4 2966.6,1924.6 2972,1925.3 2977.4,1926.4 2982.8,1927.2 2988.3,1928.4 2993.7,1929.4 2999.1,1930 3004.5,1930.1 3009.9,1930.2 3015.3,1930.6 3020.7,1931.1 3026.2,1932 3031.6,1932.9 3037,1933.5 3042.4,1933.7 3047.8,1934.2 3053.2,1935 3058.6,1935.8 3064.1,1936.1 3069.5,1936.1 3074.9,1936.6 3080.3,1937.2 3085.7,1937.7 3091.1,1938 3096.5,1938.7 3102,1939.3 3107.4,1939.7 3112.8,1939.7 3118.2,1939.6 3123.6,1939.9 3129,1940.2 3134.4,1940.8 3139.9,1941.2 3145.3,1941.6 3150.7,1941.8 3156.1,1942.2 3161.5,1942.7 3166.9,1943.3 3172.3,1943.7 3177.8,1943.9 3183.2,1944.1 3188.6,1944.6 3194,1945.1 3199.4,1945.5 3204.8,1945.7 3210.2,1945.8 3215.6,1946 3221.1,1946.2 3226.5,1946.9 3231.9,1947.3 3237.3,1948 3242.7,1948.1 3248.1,1948.4 3253.5,1948.6 3259,1949 3264.4,1949.6 3269.8,1950 3275.2,1950.2 3280.6,1950 3286,1949.8 3291.4,1949.9 3296.9,1950.2 3302.3,1950.8 3307.7,1950.9 3313.1,1951 3318.5,1951 3323.9,1951.7 3329.3,1952.3 3334.8,1952.6 3340.2,1952.5 3345.6,1952.6 3351,1952.8 3356.4,1952.9 3361.8,1952.7 3367.2,1952.5 3372.7,1952.5 3378.1,1952.9 3383.5,1953.3 3388.9,1953.9 3394.3,1954 3399.7,1954.1 3405.1,1954 3410.6,1954.2 3416,1954.5 3421.4,1955.1 3426.8,1955.3 3432.2,1955.2 3437.6,1954.7 3443,1954.6 3448.5,1954.9 3453.9,1955.4 3459.3,1955.6 3464.7,1955.9 3470.1,1956.2 3475.5,1956.1 3480.9,1955.8 3486.3,1955.6 3491.8,1955.6 3497.2,1955.8 3502.6,1956 3508,1956.3 3513.4,1956.7 3518.8,1957 3524.2,1956.8 3529.7,1956.5 3535.1,1956.1 3540.5,1956.4 3545.9,1956.8 3551.3,1957.2 3556.7,1957.3 3562.1,1957.3 3567.6,1957.1 3573,1957.2 3578.4,1957.2 3583.8,1957.3 3589.2,1957.4 3594.6,1957.5 3600,1957.7 3605.5,1957.7 3610.9,1957.8 3616.3,1957.8 3621.7,1957.9" fill="none" stroke="#0000FF" stroke-width="2.6" stroke-linejoin="round"/>
<polyline points="2187,1875.6 2192.4,1868.8 2197.8,1862.3 2203.2,1855.9 2208.6,1849.4 2214.1,1843.1 2219.5,1836.5 2224.9,1830.5 2230.3,1824.9 2235.7,1819.8 2241.1,1814.4 2246.5,1808.7 2252,1802.3 2257.4,1795.9 2262.8,1789.6 2268.2,1783.3 2273.6,1777.2 2279,1771 2284.4,1765 2289.9,1758.9 2295.3,1752.7 2300.7,1746.2 2306.1,1740 2311.5,1734.4 2316.9,1729 2322.3,1723.2 2327.8,1716.9 2333.2,1710.6 2338.6,1704.8 2344,1699.1 2349.4,1693.6 2354.8,1687.8 2360.2,1682.1 2365.7,1676 2371.1,1670.3 2376.5,1665.5 2381.9,1662.1 2387.3,1659 2392.7,1656.2 2398.1,1653.8 2403.5,1651.6 2409,1649.5 2414.4,1647.9 2419.8,1646.5 2425.2,1645.7 2430.6,1645.1 2436,1644.8 2441.4,1644.5 2446.9,1644.8 2452.3,1646.2 2457.7,1648.7 2463.1,1652 2468.5,1655.9 2473.9,1659.2 2479.3,1662.4 2484.8,1665.6 2490.2,1669.7 2495.6,1674.2 2501,1679 2506.4,1683.5 2511.8,1687.9 2517.2,1691.9 2522.7,1696.2 2528.1,1700.4 2533.5,1704.8 2538.9,1709.1 2544.3,1713.9 2549.7,1718.3 2555.1,1722.2 2560.6,1725.9 2566,1729.6 2571.4,1733.5 2576.8,1737.3 2582.2,1741.3 2587.6,1745.8 2593,1750.1 2598.5,1754.1 2603.9,1757.4 2609.3,1760.8 2614.7,1764.2 2620.1,1768 2625.5,1771.9 2630.9,1776 2636.4,1780.3 2641.8,1784.6 2647.2,1788.7 2652.6,1792.4 2658,1796 2663.4,1799.4 2668.8,1803.1 2674.2,1807.1 2679.7,1811.1 2685.1,1814.9 2690.5,1818.4 2695.9,1822 2701.3,1825.4 2706.7,1828.8 2712.1,1831.9 2717.6,1835.1 2723,1838.5 2728.4,1841.7 2733.8,1844.4 2739.2,1847.4 2744.6,1850.3 2750,1853.4 2755.5,1856 2760.9,1858.9 2766.3,1861.9 2771.7,1865.1 2777.1,1868 2782.5,1870.7 2787.9,1873.2 2793.4,1876 2798.8,1878.8 2804.2,1881.3 2809.6,1883 2815,1884.5 2820.4,1886.2 2825.8,1888.2 2831.3,1890.4 2836.7,1892.7 2842.1,1894.7 2847.5,1896.6 2852.9,1898.2 2858.3,1900.1 2863.7,1901.9 2869.2,1903.9 2874.6,1905.7 2880,1907.6 2885.4,1909 2890.8,1910.1 2896.2,1910.5 2901.6,1911 2907.1,1911.8 2912.5,1913.4 2917.9,1914.8 2923.3,1916.1 2928.7,1916.6 2934.1,1917.7 2939.5,1918.6 2944.9,1919.8 2950.4,1920.1 2955.8,1920.6 2961.2,1921.3 2966.6,1922.3 2972,1923.2 2977.4,1923.9 2982.8,1924.2 2988.3,1924.8 2993.7,1925.7 2999.1,1926.5 3004.5,1927.1 3009.9,1927.5 3015.3,1928.1 3020.7,1928.9 3026.2,1929.6 3031.6,1930 3037,1930.3 3042.4,1930.6 3047.8,1931.2 3053.2,1931.8 3058.6,1932.6 3064.1,1933.2 3069.5,1934.1 3074.9,1934.7 3080.3,1935.3 3085.7,1935.7 3091.1,1936.3 3096.5,1937.2 3102,1938 3107.4,1938.4 3112.8,1938.4 3118.2,1938.4 3123.6,1938.8 3129,1939.2 3134.4,1939.4 3139.9,1939.7 3145.3,1940.3 3150.7,1940.9 3156.1,1941.4 3161.5,1941.7 3166.9,1942.2 3172.3,1942.8 3177.8,1943.2 3183.2,1943.7 3188.6,1943.9 3194,1944.4 3199.4,1944.5 3204.8,1945 3210.2,1945.5 3215.6,1945.9 3221.1,1946.1 3226.5,1946.1 3231.9,1946.3 3237.3,1946.6 3242.7,1947 3248.1,1947.2 3253.5,1947.6 3259,1947.6 3264.4,1947.8 3269.8,1948 3275.2,1948.4 3280.6,1949 3286,1949.6 3291.4,1950.5 3296.9,1951.1 3302.3,1951.4 3307.7,1951 3313.1,1950.4 3318.5,1950.3 3323.9,1950.3 3329.3,1951 3334.8,1951.4 3340.2,1951.9 3345.6,1952.1 3351,1952.1 3356.4,1951.9 3361.8,1951.8 3367.2,1952.2 3372.7,1952.5 3378.1,1953 3383.5,1953.2 3388.9,1953.4 3394.3,1953.3 3399.7,1953.6 3405.1,1953.5 3410.6,1953.6 3416,1953.5 3421.4,1953.7 3426.8,1953.9 3432.2,1954.1 3437.6,1954.1 3443,1954 3448.5,1953.9 3453.9,1953.8 3459.3,1954.1 3464.7,1954.5 3470.1,1954.7 3475.5,1954.6 3480.9,1954.7 3486.3,1955.4 3491.8,1956.1 3497.2,1956.6 3502.6,1956.2 3508,1956.3 3513.4,1956.2 3518.8,1956.7 3524.2,1956.6 3529.7,1956.7 3535.1,1956.6 3540.5,1956.9 3545.9,1957 3551.3,1957 3556.7,1957.1 3562.1,1957.2 3567.6,1957.1 3573,1957.1 3578.4,1956.9 3583.8,1957.1 3589.2,1957.1 3594.6,1957.3 3600,1957.2 3605.5,1957.6 3610.9,1957.9 3616.3,1958.4 3621.7,1958.1" fill="none" stroke="#0000FF" stroke-width="2.6" stroke-linejoin="round"/>
<polyline points="2187,1905.6 2192.4,1900.7 2197.8,1895.9 2203.2,1890.7 2208.6,1885.2 2214.1,1879.2 2219.5,1873.4 2224.9,1867.5 2230.3,1861.6 2235.7,1854.6 2241.1,1847.2 2246.5,1839.5 2252,1832.4 2257.4,1824.8 2262.8,1816.8 2268.2,1808.1 2273.6,1799.9 2279,1791.6 2284.4,1783.5 2289.9,1774.9 2295.3,1766.5 2300.7,1758.2 2306.1,1750.5 2311.5,1742.7 2316.9,1735.5 2322.3,1728.5 2327.8,1721.6 2333.2,1714.1 2338.6,1706.4 2344,1699 2349.4,1692.7 2354.8,1687.6 2360.2,1683.7 2365.7,1680.5 2371.1,1677.5 2376.5,1675.2 2381.9,1673.2 2387.3,1671.8 2392.7,1670.7 2398.1,1670.1 2403.5,1670.2 2409,1671.4 2414.4,1673.6 2419.8,1676.1 2425.2,1678.8 2430.6,1681.1 2436,1683.8 2441.4,1686.6 2446.9,1690 2452.3,1694 2457.7,1698.4 2463.1,1702.7 2468.5,1706.6 2473.9,1710.4 2479.3,1714.3 2484.8,1718.6 2490.2,1723.1 2495.6,1728.2 2501,1733.1 2506.4,1737.9 2511.8,1742.3 2517.2,1746.7 2522.7,1751.1 2528.1,1755.5 2533.5,1760.1 2538.9,1764.7 2544.3,1769.3 2549.7,1773.3 2555.1,1777.4 2560.6,1781.5 2566,1785.8 2571.4,1789.9 2576.8,1793.8 2582.2,1797.6 2587.6,1801.4 2593,1805.3 2598.5,1809.4 2603.9,1813.3 2609.3,1817.1 2614.7,1820.6 2620.1,1824.2 2625.5,1827.9 2630.9,1831.6 2636.4,1834.9 2641.8,1838.2 2647.2,1841.5 2652.6,1845.4 2658,1849 2663.4,1852.6 2668.8,1855.8 2674.2,1859.4 2679.7,1863 2685.1,1866.2 2690.5,1869.1 2695.9,1871.4 2701.3,1874.1 2706.7,1876.7 2712.1,1879.4 2717.6,1881.6 2723,1883.2 2728.4,1884.7 2733.8,1886.8 2739.2,1889.4 2744.6,1892.2 2750,1894.3 2755.5,1896.1 2760.9,1897.5 2766.3,1899.3 2771.7,1901 2777.1,1902.7 2782.5,1904.1 2787.9,1905.9 2793.4,1908.1 2798.8,1909.9 2804.2,1911.1 2809.6,1911.9 2815,1913.1 2820.4,1914.5 2825.8,1915.9 2831.3,1916.9 2836.7,1918.1 2842.1,1919.4 2847.5,1920.8 2852.9,1921.8 2858.3,1922.6 2863.7,1923.6 2869.2,1924.8 2874.6,1926.3 2880,1927.4 2885.4,1928.2 2890.8,1928.9 2896.2,1929.8 2901.6,1930.6 2907.1,1931.3 2912.5,1931.8 2917.9,1932.4 2923.3,1932.8 2928.7,1933.1 2934.1,1933.6 2939.5,1934.4 2944.9,1935.4 2950.4,1936.3 2955.8,1936.8 2961.2,1937.1 2966.6,1937.4 2972,1937.8 2977.4,1938.4 2982.8,1939.1 2988.3,1939.8 2993.7,1940.5 2999.1,1940.8 3004.5,1941.1 3009.9,1941.1 3015.3,1941.6 3020.7,1941.8 3026.2,1942.1 3031.6,1942.2 3037,1942.5 3042.4,1942.9 3047.8,1943.2 3053.2,1943.5 3058.6,1943.7 3064.1,1944.2 3069.5,1944.7 3074.9,1945.2 3080.3,1945.4 3085.7,1945.6 3091.1,1945.6 3096.5,1945.8 3102,1945.9 3107.4,1946.3 3112.8,1946.6 3118.2,1947.2 3123.6,1947.9 3129,1948.3 3134.4,1948.5 3139.9,1948.1 3145.3,1947.8 3150.7,1947.8 3156.1,1948.5 3161.5,1949.1 3166.9,1949.3 3172.3,1949.1 3177.8,1949.1 3183.2,1949.4 3188.6,1950.3 3194,1951 3199.4,1951.3 3204.8,1951.2 3210.2,1951 3215.6,1951.1 3221.1,1951.1 3226.5,1951.3 3231.9,1951.4 3237.3,1951.6 3242.7,1951.8 3248.1,1951.8 3253.5,1952.1 3259,1952 3264.4,1951.9 3269.8,1952.3 3275.2,1952.9 3280.6,1954 3286,1954.3 3291.4,1954.4 3296.9,1954 3302.3,1954 3307.7,1953.9 3313.1,1954.2 3318.5,1954.2 3323.9,1954.5 3329.3,1954.5 3334.8,1955.1 3340.2,1955.7 3345.6,1956.2 3351,1956.2 3356.4,1955.6 3361.8,1955 3367.2,1954.7 3372.7,1955.1 3378.1,1955.9 3383.5,1956.6 3388.9,1956.6 3394.3,1956.5 3399.7,1955.9 3405.1,1955.8 3410.6,1955.5 3416,1955.7 3421.4,1955.6 3426.8,1955.8 3432.2,1955.9 3437.6,1956.3 3443,1956.7 3448.5,1957.5 3453.9,1957.7 3459.3,1957.5 3464.7,1956.9 3470.1,1956.4 3475.5,1956.3 3480.9,1956.2 3486.3,1956.7 3491.8,1956.9 3497.2,1957.1 3502.6,1957 3508,1957 3513.4,1956.9 3518.8,1956.6 3524.2,1956.7 3529.7,1957.2 3535.1,1958.1 3540.5,1958.4 3545.9,1958.4 3551.3,1958.3 3556.7,1958.2 3562.1,1958.2 3567.6,1958.2 3573,1958.4 3578.4,1958.4 3583.8,1958.6 3589.2,1958.5 3594.6,1958.4 3600,1958.3 3605.5,1958.3 3610.9,1958.5 3616.3,1958.5 3621.7,1958.5" fill="none" stroke="#0000FF" stroke-width="2.6" stroke-linejoin="round"/>
<polyline points="2187,1830.8 2192.4,1819.7 2197.8,1809.1 2203.2,1799.2 2208.6,1789.9 2214.1,1780.7 2219.5,1771.7 2224.9,1762.6 2230.3,1754 2235.7,1745.6 2241.1,1737.3 2246.5,1729.3 2252,1721.6 2257.4,1714.6 2262.8,1707.6 2268.2,1701.2 2273.6,1695.1 2279,1689.7 2284.4,1684.3 2289.9,1679.4 2295.3,1674.6 2300.7,1670.3 2306.1,1666.1 2311.5,1662.3 2316.9,1658.9 2322.3,1656.3 2327.8,1653.5 2333.2,1650.8 2338.6,1648.2 2344,1646.5 2349.4,1645 2354.8,1644.1 2360.2,1643.3 2365.7,1642.7 2371.1,1642.1 2376.5,1641.6 2381.9,1641.4 2387.3,1642.2 2392.7,1644.2 2398.1,1646.8 2403.5,1650.3 2409,1653.8 2414.4,1657.5 2419.8,1661.4 2425.2,1665.6 2430.6,1670.1 2436,1675 2441.4,1680.5 2446.9,1686.3 2452.3,1692.2 2457.7,1697.9 2463.1,1703.2 2468.5,1707.9 2473.9,1712.7 2479.3,1717.2 2484.8,1722 2490.2,1726.8 2495.6,1732 2501,1737 2506.4,1742.2 2511.8,1747 2517.2,1751.5 2522.7,1755.8 2528.1,1760.2 2533.5,1764.8 2538.9,1769.1 2544.3,1773.2 2549.7,1777.3 2555.1,1781.6 2560.6,1785.9 2566,1790 2571.4,1793.8 2576.8,1797.6 2582.2,1801.4 2587.6,1805.1 2593,1808.7 2598.5,1812.4 2603.9,1816 2609.3,1819.4 2614.7,1822.7 2620.1,1826.2 2625.5,1829.9 2630.9,1833.6 2636.4,1837.2 2641.8,1841 2647.2,1844.7 2652.6,1848.5 2658,1851.7 2663.4,1854.9 2668.8,1858.1 2674.2,1861.7 2679.7,1865.4 2685.1,1869.2 2690.5,1872.5 2695.9,1875.2 2701.3,1876.8 2706.7,1878.6 2712.1,1880.7 2717.6,1883.2 2723,1885.4 2728.4,1887.8 2733.8,1890.1 2739.2,1892.4 2744.6,1894.1 2750,1895.8 2755.5,1897.3 2760.9,1898.8 2766.3,1900.3 2771.7,1901.9 2777.1,1903.8 2782.5,1905.8 2787.9,1907.6 2793.4,1908.9 2798.8,1910.1 2804.2,1911.5 2809.6,1913 2815,1914.5 2820.4,1915.9 2825.8,1917.2 2831.3,1918.2 2836.7,1919.2 2842.1,1920.4 2847.5,1921.5 2852.9,1922.9 2858.3,1923.6 2863.7,1924.6 2869.2,1925.1 2874.6,1926.2 2880,1926.9 2885.4,1928 2890.8,1929.2 2896.2,1930.4 2901.6,1931.2 2907.1,1931.5 2912.5,1931.8 2917.9,1932.4 2923.3,1933.3 2928.7,1934 2934.1,1934.6 2939.5,1934.8 2944.9,1935.4 2950.4,1935.6 2955.8,1936.4 2961.2,1936.7 2966.6,1937.4 2972,1938 2977.4,1938.6 2982.8,1939.4 2988.3,1940.1 2993.7,1941.1 2999.1,1941.4 3004.5,1941.8 3009.9,1941.9 3015.3,1942 3020.7,1942.2 3026.2,1942.3 3031.6,1942.9 3037,1943.4 3042.4,1944.3 3047.8,1944.6 3053.2,1944.8 3058.6,1944.6 3064.1,1944.7 3069.5,1944.7 3074.9,1944.8 3080.3,1944.8 3085.7,1945.4 3091.1,1946.2 3096.5,1947.2 3102,1947.4 3107.4,1947.3 3112.8,1946.9 3118.2,1946.9 3123.6,1947.1 3129,1947.6 3134.4,1948.1 3139.9,1948.4 3145.3,1948.3 3150.7,1948.4 3156.1,1948.6 3161.5,1949.1 3166.9,1949.3 3172.3,1949.6 3177.8,1949.7 3183.2,1950 3188.6,1950.3 3194,1950.7 3199.4,1951.3 3204.8,1951.5 3210.2,1951.8 3215.6,1951.5 3221.1,1951.6 3226.5,1951.5 3231.9,1951.7 3237.3,1952 3242.7,1952.2 3248.1,1952.5 3253.5,1952.7 3259,1953.1 3264.4,1953.2 3269.8,1953.1 3275.2,1952.8 3280.6,1952.8 3286,1953 3291.4,1953.1 3296.9,1953 3302.3,1953.1 3307.7,1953.7 3313.1,1954.3 3318.5,1954.2 3323.9,1953.8 3329.3,1953.8 3334.8,1954.4 3340.2,1955 3345.6,1955.1 3351,1955.2 3356.4,1955.2 3361.8,1955.2 3367.2,1954.9 3372.7,1954.9 3378.1,1955.3 3383.5,1956.1 3388.9,1956.5 3394.3,1956.6 3399.7,1956.3 3405.1,1956 3410.6,1955.6 3416,1955.5 3421.4,1955.7 3426.8,1955.8 3432.2,1955.8 3437.6,1955.9 3443,1956.3 3448.5,1956.5 3453.9,1956.6 3459.3,1956.5 3464.7,1956.3 3470.1,1956.5 3475.5,1956.5 3480.9,1956.8 3486.3,1956.7 3491.8,1956.7 3497.2,1956.7 3502.6,1956.8 3508,1956.9 3513.4,1957.1 3518.8,1957.4 3524.2,1957.8 3529.7,1958.2 3535.1,1958.6 3540.5,1958.6 3545.9,1958.3 3551.3,1957.9 3556.7,1957.5 3562.1,1957.4 3567.6,1957.5 3573,1958 3578.4,1958.5 3583.8,1958.9 3589.2,1958.7 3594.6,1958.6 3600,1958.4 3605.5,1958.5 3610.9,1958.4 3616.3,1958.4 3621.7,1958.2" fill="none" stroke="#0000FF" stroke-width="2.6" stroke-linejoin="round"/>
<polyline points="2187,1939.3 2192.4,1936.8 2197.8,1934.4 2203.2,1931.5 2208.6,1928.3 2214.1,1924.4 2219.5,1920.3 2224.9,1915.9 2230.3,1910.7 2235.7,1905.3 2241.1,1898.9 2246.5,1892.7 2252,1886.2 2257.4,1879.3 2262.8,1871.3 2268.2,1862.1 2273.6,1851.6 2279,1839.8 2284.4,1826.2 2289.9,1810.4 2295.3,1791 2300.7,1769.4 2306.1,1746.7 2311.5,1723.2 2316.9,1698 2322.3,1671.3 2327.8,1642.3 2333.2,1611.2 2338.6,1576.7 2344,1537.9 2349.4,1493.8 2354.8,1446.8 2360.2,1399.2 2365.7,1348.8 2371.1,1297.7 2376.5,1247.1 2381.9,1198.6 2387.3,1160 2392.7,1125.2 2398.1,1093 2403.5,1062.6 2409,1034.6 2414.4,1008.8 2419.8,985.1 2425.2,963.7 2430.6,943.6 2436,925 2441.4,910.4 2446.9,898.9 2452.3,890 2457.7,884.7 2463.1,880.4 2468.5,878 2473.9,878.3 2479.3,881.3 2484.8,886 2490.2,891.4 2495.6,898.3 2501,907.1 2506.4,917 2511.8,927.6 2517.2,939.6 2522.7,952.5 2528.1,966.4 2533.5,981.1 2538.9,995.7 2544.3,1010.3 2549.7,1025.8 2555.1,1041.8 2560.6,1057.4 2566,1071.9 2571.4,1086.5 2576.8,1100.8 2582.2,1115.6 2587.6,1130.2 2593,1145.4 2598.5,1161 2603.9,1176.5 2609.3,1192 2614.7,1207.8 2620.1,1224.3 2625.5,1242.2 2630.9,1260.7 2636.4,1277.8 2641.8,1293.1 2647.2,1307.8 2652.6,1322.4 2658,1337.4 2663.4,1352.4 2668.8,1366.7 2674.2,1380.1 2679.7,1393.8 2685.1,1408 2690.5,1422 2695.9,1435.6 2701.3,1448.4 2706.7,1461.9 2712.1,1475.1 2717.6,1488.5 2723,1501.2 2728.4,1514.3 2733.8,1527.3 2739.2,1540.1 2744.6,1552.9 2750,1565.5 2755.5,1578.6 2760.9,1591.2 2766.3,1604 2771.7,1616.4 2777.1,1628.9 2782.5,1640.7 2787.9,1652 2793.4,1662.9 2798.8,1673.5 2804.2,1683.8 2809.6,1693.7 2815,1703 2820.4,1711.8 2825.8,1720.4 2831.3,1728.4 2836.7,1736.2 2842.1,1743.7 2847.5,1751 2852.9,1758 2858.3,1764.5 2863.7,1771 2869.2,1776.9 2874.6,1782.6 2880,1787.9 2885.4,1793.2 2890.8,1798.1 2896.2,1802.6 2901.6,1806.7 2907.1,1810.7 2912.5,1814.5 2917.9,1818.3 2923.3,1822.5 2928.7,1826.7 2934.1,1830.8 2939.5,1834.5 2944.9,1838 2950.4,1841 2955.8,1843.6 2961.2,1846.2 2966.6,1848.9 2972,1852 2977.4,1854.7 2982.8,1857 2988.3,1858.8 2993.7,1861.1 2999.1,1863.9 3004.5,1866.8 3009.9,1869.5 3015.3,1872 3020.7,1874.6 3026.2,1877.1 3031.6,1879 3037,1881.1 3042.4,1883 3047.8,1885.1 3053.2,1886.5 3058.6,1887.8 3064.1,1889.4 3069.5,1891.5 3074.9,1893.7 3080.3,1895.9 3085.7,1897.8 3091.1,1899.9 3096.5,1901.5 3102,1903.1 3107.4,1904 3112.8,1905.4 3118.2,1906.8 3123.6,1908.4 3129,1909.3 3134.4,1909.9 3139.9,1910.6 3145.3,1911.9 3150.7,1913.6 3156.1,1915.2 3161.5,1916.3 3166.9,1917.3 3172.3,1918.3 3177.8,1919.1 3183.2,1920.3 3188.6,1921.3 3194,1922.9 3199.4,1924.2 3204.8,1925.5 3210.2,1926.5 3215.6,1927.4 3221.1,1928.4 3226.5,1929.6 3231.9,1930.5 3237.3,1931.1 3242.7,1931.2 3248.1,1931.5 3253.5,1932.2 3259,1933.1 3264.4,1934 3269.8,1934.9 3275.2,1935.5 3280.6,1936.5 3286,1937.4 3291.4,1938.1 3296.9,1938 3302.3,1937.9 3307.7,1938.2 3313.1,1939.1 3318.5,1940.1 3323.9,1941.2 3329.3,1941.8 3334.8,1942.2 3340.2,1942.1 3345.6,1942.3 3351,1942.3 3356.4,1942.7 3361.8,1943.3 3367.2,1943.9 3372.7,1944.4 3378.1,1944.8 3383.5,1944.9 3388.9,1945.1 3394.3,1945.3 3399.7,1946.1 3405.1,1947.1 3410.6,1947.8 3416,1948.1 3421.4,1948 3426.8,1948 3432.2,1948.1 3437.6,1948.4 3443,1949 3448.5,1949.4 3453.9,1949.6 3459.3,1949.2 3464.7,1949.1 3470.1,1949.2 3475.5,1950 3480.9,1950.4 3486.3,1950.9 3491.8,1951.1 3497.2,1951.3 3502.6,1951.1 3508,1951.4 3513.4,1951.4 3518.8,1951.8 3524.2,1951.9 3529.7,1952.2 3535.1,1952.1 3540.5,1952.2 3545.9,1952.1 3551.3,1952.2 3556.7,1952.2 3562.1,1952.4 3567.6,1952.9 3573,1953.4 3578.4,1953.6 3583.8,1953.4 3589.2,1953.5 3594.6,1953.5 3600,1953.8 3605.5,1953.8 3610.9,1953.8 3616.3,1953.8 3621.7,1953.9" fill="none" stroke="#FF0000" stroke-width="3.6" stroke-linejoin="round"/>
<polyline points="2187,1939.3 2192.4,1937 2197.8,1934.2 2203.2,1931 2208.6,1927.6 2214.1,1923.9 2219.5,1920.1 2224.9,1915.4 2230.3,1910.3 2235.7,1904.7 2241.1,1899.2 2246.5,1893.4 2252,1887.1 2257.4,1879.9 2262.8,1871.6 2268.2,1862.6 2273.6,1852.4 2279,1840.9 2284.4,1827.7 2289.9,1812.2 2295.3,1792.9 2300.7,1771 2306.1,1748.4 2311.5,1725.2 2316.9,1700.5 2322.3,1674.2 2327.8,1645 2333.2,1614 2338.6,1579.4 2344,1541 2349.4,1497.3 2354.8,1450.9 2360.2,1403.5 2365.7,1353 2371.1,1301.6 2376.5,1250.7 2381.9,1202.1 2387.3,1163.3 2392.7,1129.2 2398.1,1097.8 2403.5,1068 2409,1040.4 2414.4,1014.8 2419.8,991.3 2425.2,969.5 2430.6,949.8 2436,931.4 2441.4,917.8 2446.9,906.5 2452.3,897.6 2457.7,891.8 2463.1,887.2 2468.5,884.3 2473.9,884.8 2479.3,887.6 2484.8,892.5 2490.2,897.8 2495.6,905.2 2501,914.4 2506.4,924.2 2511.8,934.6 2517.2,946 2522.7,958.7 2528.1,972 2533.5,986.7 2538.9,1001.7 2544.3,1016.3 2549.7,1031.5 2555.1,1047.2 2560.6,1063.2 2566,1078.5 2571.4,1093 2576.8,1106.8 2582.2,1120.8 2587.6,1135.3 2593,1150.7 2598.5,1166 2603.9,1181 2609.3,1195.9 2614.7,1211.6 2620.1,1227.9 2625.5,1245 2630.9,1263 2636.4,1280.4 2641.8,1296.7 2647.2,1312.5 2652.6,1327.3 2658,1341.7 2663.4,1355.6 2668.8,1369.6 2674.2,1383.3 2679.7,1397 2685.1,1410.5 2690.5,1424.8 2695.9,1439.1 2701.3,1453 2706.7,1465.8 2712.1,1478.2 2717.6,1491.2 2723,1504.9 2728.4,1518.2 2733.8,1530.8 2739.2,1543.1 2744.6,1555.5 2750,1568.6 2755.5,1581.6 2760.9,1594.6 2766.3,1607 2771.7,1619.1 2777.1,1630.7 2782.5,1642.1 2787.9,1653 2793.4,1664.2 2798.8,1674.8 2804.2,1685.3 2809.6,1695.4 2815,1705.2 2820.4,1714.7 2825.8,1723.1 2831.3,1730.6 2836.7,1737.3 2842.1,1744.1 2847.5,1751 2852.9,1758.1 2858.3,1764.5 2863.7,1770.9 2869.2,1776.7 2874.6,1782.9 2880,1788.5 2885.4,1794.2 2890.8,1799 2896.2,1804 2901.6,1808.3 2907.1,1812.7 2912.5,1816.6 2917.9,1820.5 2923.3,1823.9 2928.7,1827.2 2934.1,1830.3 2939.5,1833.6 2944.9,1836.8 2950.4,1839.7 2955.8,1842.6 2961.2,1845.5 2966.6,1848.6 2972,1851.5 2977.4,1854.8 2982.8,1857.5 2988.3,1860.3 2993.7,1862.4 2999.1,1864.9 3004.5,1867.3 3009.9,1869.9 3015.3,1872.7 3020.7,1875.6 3026.2,1877.8 3031.6,1879.2 3037,1880.2 3042.4,1881.8 3047.8,1883.8 3053.2,1886.4 3058.6,1888.9 3064.1,1891.2 3069.5,1892.8 3074.9,1894.2 3080.3,1895.6 3085.7,1897.3 3091.1,1899.2 3096.5,1901.1 3102,1902.9 3107.4,1904.3 3112.8,1905.7 3118.2,1907.3 3123.6,1908.9 3129,1910.2 3134.4,1911.2 3139.9,1912.3 3145.3,1913.5 3150.7,1914.9 3156.1,1916.1 3161.5,1917.5 3166.9,1919 3172.3,1920.4 3177.8,1921.2 3183.2,1921.7 3188.6,1922.2 3194,1922.9 3199.4,1924 3204.8,1925 3210.2,1926 3215.6,1926.5 3221.1,1927.2 3226.5,1928.1 3231.9,1929.4 3237.3,1930.6 3242.7,1931.7 3248.1,1932.8 3253.5,1933.7 3259,1934.6 3264.4,1934.9 3269.8,1934.8 3275.2,1934.9 3280.6,1935.4 3286,1936.3 3291.4,1937.1 3296.9,1938 3302.3,1938.6 3307.7,1939 3313.1,1938.6 3318.5,1938.8 3323.9,1939.4 3329.3,1940.7 3334.8,1941.6 3340.2,1942.3 3345.6,1942.9 3351,1943.4 3356.4,1943.4 3361.8,1943.2 3367.2,1943.2 3372.7,1943.9 3378.1,1944.6 3383.5,1945.1 3388.9,1944.9 3394.3,1945.1 3399.7,1945.7 3405.1,1946.3 3410.6,1946.5 3416,1946.2 3421.4,1946.4 3426.8,1946.9 3432.2,1947.7 3437.6,1948 3443,1948.3 3448.5,1948.9 3453.9,1949.8 3459.3,1950.3 3464.7,1950.3 3470.1,1950.2 3475.5,1950.3 3480.9,1950.3 3486.3,1949.8 3491.8,1949.9 3497.2,1950.3 3502.6,1951.2 3508,1951.4 3513.4,1951.6 3518.8,1952 3524.2,1952.7 3529.7,1953.1 3535.1,1953.2 3540.5,1952.6 3545.9,1952.1 3551.3,1951.8 3556.7,1952 3562.1,1952.7 3567.6,1953.3 3573,1954 3578.4,1954.5 3583.8,1954.7 3589.2,1954.8 3594.6,1954.7 3600,1954.6 3605.5,1954.4 3610.9,1954.4 3616.3,1954.4 3621.7,1954.7" fill="none" stroke="#FF0000" stroke-width="2.6" stroke-linejoin="round"/>
<polyline points="2187,1940.9 2192.4,1938.2 2197.8,1934.8 2203.2,1931.6 2208.6,1928.7 2214.1,1925.5 2219.5,1921.7 2224.9,1917.2 2230.3,1911.9 2235.7,1906.3 2241.1,1900.6 2246.5,1895.1 2252,1889.1 2257.4,1882.3 2262.8,1874.4 2268.2,1865.3 2273.6,1855 2279,1842.8 2284.4,1829.6 2289.9,1814.4 2295.3,1796.3 2300.7,1775.6 2306.1,1754.3 2311.5,1731.9 2316.9,1708.3 2322.3,1682.1 2327.8,1653.6 2333.2,1622.1 2338.6,1588.2 2344,1550.6 2349.4,1508.4 2354.8,1463.5 2360.2,1416.9 2365.7,1367.4 2371.1,1316.9 2376.5,1267.5 2381.9,1220.3 2387.3,1183.2 2392.7,1150.6 2398.1,1120.5 2403.5,1091.6 2409,1063.9 2414.4,1038 2419.8,1013.9 2425.2,993 2430.6,974.2 2436,957.1 2441.4,943.2 2446.9,931.8 2452.3,922.9 2457.7,917.5 2463.1,912.9 2468.5,910.3 2473.9,910.6 2479.3,913.6 2484.8,918 2490.2,923.2 2495.6,930.2 2501,939.2 2506.4,948.9 2511.8,959.5 2517.2,971 2522.7,983.7 2528.1,996.8 2533.5,1011.3 2538.9,1026.2 2544.3,1040.8 2549.7,1055.2 2555.1,1069.5 2560.6,1083.9 2566,1098.4 2571.4,1112.9 2576.8,1127.4 2582.2,1141.3 2587.6,1155.2 2593,1169.2 2598.5,1184.1 2603.9,1199.2 2609.3,1214.7 2614.7,1230 2620.1,1245.6 2625.5,1262.2 2630.9,1280.1 2636.4,1297.4 2641.8,1313.6 2647.2,1329 2652.6,1343.3 2658,1357.4 2663.4,1370.9 2668.8,1384.3 2674.2,1397.6 2679.7,1411.1 2685.1,1424.8 2690.5,1438 2695.9,1451 2701.3,1463.8 2706.7,1477.1 2712.1,1490.1 2717.6,1502.9 2723,1515.3 2728.4,1528.1 2733.8,1540.8 2739.2,1553.6 2744.6,1566.5 2750,1579.2 2755.5,1591.6 2760.9,1603.2 2766.3,1614.9 2771.7,1626.8 2777.1,1639.1 2782.5,1650.5 2787.9,1661.5 2793.4,1671.7 2798.8,1681.7 2804.2,1691.4 2809.6,1701 2815,1710.2 2820.4,1719.1 2825.8,1727.5 2831.3,1735.6 2836.7,1742.9 2842.1,1749.9 2847.5,1756.5 2852.9,1763.7 2858.3,1770.6 2863.7,1777.3 2869.2,1783.1 2874.6,1788.3 2880,1793.4 2885.4,1798.2 2890.8,1802.8 2896.2,1807.2 2901.6,1811.7 2907.1,1816 2912.5,1819.9 2917.9,1822.9 2923.3,1826 2928.7,1829.4 2934.1,1833.2 2939.5,1836.7 2944.9,1839.7 2950.4,1842.6 2955.8,1845.8 2961.2,1849.3 2966.6,1852.7 2972,1855.7 2977.4,1858.5 2982.8,1861.5 2988.3,1864.1 2993.7,1866.7 2999.1,1868.9 3004.5,1871.2 3009.9,1873.4 3015.3,1875.4 3020.7,1877.4 3026.2,1879.2 3031.6,1881.3 3037,1883.3 3042.4,1885.5 3047.8,1887.5 3053.2,1889.5 3058.6,1891.2 3064.1,1893.2 3069.5,1895 3074.9,1896.4 3080.3,1897.5 3085.7,1898.6 3091.1,1900.2 3096.5,1901.6 3102,1903.1 3107.4,1904.5 3112.8,1906.2 3118.2,1907.3 3123.6,1908.3 3129,1909.1 3134.4,1910.6 3139.9,1911.9 3145.3,1913.5 3150.7,1915 3156.1,1916.4 3161.5,1917.3 3166.9,1918.2 3172.3,1919.6 3177.8,1920.9 3183.2,1922.1 3188.6,1922.8 3194,1923.7 3199.4,1924.6 3204.8,1926 3210.2,1927.1 3215.6,1928 3221.1,1928.3 3226.5,1928.7 3231.9,1929.2 3237.3,1930.4 3242.7,1931.5 3248.1,1932.5 3253.5,1933 3259,1933.4 3264.4,1934.1 3269.8,1934.7 3275.2,1935.2 3280.6,1935.2 3286,1936.1 3291.4,1937.6 3296.9,1938.9 3302.3,1939.7 3307.7,1940 3313.1,1940.4 3318.5,1940.4 3323.9,1940.6 3329.3,1940.7 3334.8,1941.3 3340.2,1941.7 3345.6,1942.1 3351,1942.7 3356.4,1943.2 3361.8,1943.9 3367.2,1944.3 3372.7,1944.9 3378.1,1945.5 3383.5,1946.2 3388.9,1946.6 3394.3,1946.5 3399.7,1946.3 3405.1,1946.2 3410.6,1946.7 3416,1947.2 3421.4,1947.9 3426.8,1948.5 3432.2,1949.5 3437.6,1950.1 3443,1950.8 3448.5,1950.7 3453.9,1950.5 3459.3,1950.1 3464.7,1949.8 3470.1,1949.6 3475.5,1949.5 3480.9,1949.9 3486.3,1950.1 3491.8,1950.2 3497.2,1950.1 3502.6,1950.6 3508,1951.2 3513.4,1951.6 3518.8,1951.7 3524.2,1951.5 3529.7,1952 3535.1,1952.4 3540.5,1952.8 3545.9,1952.9 3551.3,1953 3556.7,1953.2 3562.1,1953.4 3567.6,1953.9 3573,1954.4 3578.4,1954.8 3583.8,1954.6 3589.2,1954.3 3594.6,1953.9 3600,1953.8 3605.5,1954 3610.9,1954.3 3616.3,1954.3 3621.7,1954.3" fill="none" stroke="#FF0000" stroke-width="2.4" stroke-linejoin="round"/>
<polyline points="2187,1940.4 2192.4,1938.3 2197.8,1935.6 2203.2,1932.5 2208.6,1929.3 2214.1,1926 2219.5,1922.5 2224.9,1918.2 2230.3,1913.5 2235.7,1908.2 2241.1,1903.2 2246.5,1897.6 2252,1891.9 2257.4,1885.3 2262.8,1877.9 2268.2,1869.9 2273.6,1860.3 2279,1849 2284.4,1835.5 2289.9,1820 2295.3,1801.3 2300.7,1781.4 2306.1,1760.4 2311.5,1738.9 2316.9,1715.5 2322.3,1690.8 2327.8,1663.5 2333.2,1633.9 2338.6,1601.4 2344,1565.2 2349.4,1524.3 2354.8,1480.4 2360.2,1435.6 2365.7,1388.3 2371.1,1340.1 2376.5,1292.5 2381.9,1246.8 2387.3,1210.9 2392.7,1179 2398.1,1149.4 2403.5,1121.1 2409,1094.4 2414.4,1069.6 2419.8,1046.7 2425.2,1026.2 2430.6,1007.8 2436,991.2 2441.4,978.8 2446.9,968.3 2452.3,959.3 2457.7,953.4 2463.1,948.5 2468.5,946.2 2473.9,946.7 2479.3,949.9 2484.8,953.9 2490.2,958.6 2495.6,964.8 2501,973.3 2506.4,983 2511.8,993.3 2517.2,1004.9 2522.7,1016.8 2528.1,1029.7 2533.5,1043.8 2538.9,1058.7 2544.3,1072.9 2549.7,1086.9 2555.1,1100.9 2560.6,1115.4 2566,1129.5 2571.4,1143.1 2576.8,1156.3 2582.2,1169.8 2587.6,1183.5 2593,1197.4 2598.5,1211.6 2603.9,1225.6 2609.3,1239.9 2614.7,1254.5 2620.1,1270.4 2625.5,1287.2 2630.9,1304.9 2636.4,1320.9 2641.8,1335.7 2647.2,1350 2652.6,1363.9 2658,1377.9 2663.4,1391.4 2668.8,1404.7 2674.2,1417.2 2679.7,1429.5 2685.1,1442.3 2690.5,1455.7 2695.9,1468.9 2701.3,1481.4 2706.7,1493.3 2712.1,1505.3 2717.6,1517.5 2723,1530.1 2728.4,1542.4 2733.8,1554.7 2739.2,1566.8 2744.6,1578.8 2750,1590.7 2755.5,1602.3 2760.9,1614.3 2766.3,1626.4 2771.7,1638.9 2777.1,1650.6 2782.5,1661.2 2787.9,1671 2793.4,1680.9 2798.8,1691 2804.2,1701 2809.6,1710.4 2815,1719.3 2820.4,1727.7 2825.8,1735.6 2831.3,1743.4 2836.7,1750.8 2842.1,1757.9 2847.5,1764.4 2852.9,1770.4 2858.3,1776.3 2863.7,1782.1 2869.2,1787.8 2874.6,1793.1 2880,1798.3 2885.4,1803.5 2890.8,1808.3 2896.2,1812.9 2901.6,1816.9 2907.1,1820.8 2912.5,1824.4 2917.9,1828.5 2923.3,1832.2 2928.7,1835.4 2934.1,1837.9 2939.5,1840.6 2944.9,1843.4 2950.4,1846.7 2955.8,1849.3 2961.2,1852.1 2966.6,1854.9 2972,1858.4 2977.4,1861.5 2982.8,1864.8 2988.3,1867.3 2993.7,1869.9 2999.1,1871.9 3004.5,1873.9 3009.9,1875.5 3015.3,1877.1 3020.7,1879.4 3026.2,1881.9 3031.6,1884.8 3037,1887 3042.4,1889 3047.8,1890.2 3053.2,1891.4 3058.6,1892.5 3064.1,1894.1 3069.5,1896 3074.9,1898 3080.3,1899.6 3085.7,1901 3091.1,1902.1 3096.5,1903.7 3102,1905.4 3107.4,1907.4 3112.8,1909.4 3118.2,1911 3123.6,1912.2 3129,1913.1 3134.4,1914.4 3139.9,1915.5 3145.3,1916.5 3150.7,1916.9 3156.1,1917.6 3161.5,1918.6 3166.9,1919.9 3172.3,1921 3177.8,1922.1 3183.2,1923.4 3188.6,1924.8 3194,1926 3199.4,1926.6 3204.8,1927 3210.2,1927.8 3215.6,1929 3221.1,1929.9 3226.5,1930.6 3231.9,1931.3 3237.3,1932.3 3242.7,1933.3 3248.1,1933.5 3253.5,1933.6 3259,1933.8 3264.4,1934.9 3269.8,1936 3275.2,1937 3280.6,1937.4 3286,1938 3291.4,1938.8 3296.9,1939.7 3302.3,1940.2 3307.7,1940.3 3313.1,1940.5 3318.5,1941.1 3323.9,1941.6 3329.3,1942.3 3334.8,1942.8 3340.2,1943.8 3345.6,1944.5 3351,1944.6 3356.4,1944.2 3361.8,1943.9 3367.2,1944.2 3372.7,1944.7 3378.1,1945.5 3383.5,1946.4 3388.9,1947.3 3394.3,1948 3399.7,1948.3 3405.1,1948.5 3410.6,1948.2 3416,1947.7 3421.4,1947.4 3426.8,1947.8 3432.2,1948.7 3437.6,1949.8 3443,1950.5 3448.5,1951.2 3453.9,1951.3 3459.3,1951.3 3464.7,1950.8 3470.1,1950.4 3475.5,1950.7 3480.9,1951.4 3486.3,1952.2 3491.8,1952.5 3497.2,1952.3 3502.6,1952.1 3508,1951.9 3513.4,1952.1 3518.8,1952.3 3524.2,1952.5 3529.7,1952.5 3535.1,1952.8 3540.5,1953.1 3545.9,1953.2 3551.3,1953.2 3556.7,1953.6 3562.1,1954.2 3567.6,1954.6 3573,1954.5 3578.4,1954.2 3583.8,1954.5 3589.2,1954.9 3594.6,1955.3 3600,1955.2 3605.5,1955.2 3610.9,1955.4 3616.3,1955.7 3621.7,1955.9" fill="none" stroke="#FF0000" stroke-width="2.4" stroke-linejoin="round"/>
<polyline points="2187,1941.4 2192.4,1939.8 2197.8,1937.9 2203.2,1935.2 2208.6,1931.8 2214.1,1928.3 2219.5,1924.9 2224.9,1921.3 2230.3,1917.3 2235.7,1912.7 2241.1,1907.3 2246.5,1901.4 2252,1895.6 2257.4,1889.7 2262.8,1883.2 2268.2,1875.3 2273.6,1865.6 2279,1854.6 2284.4,1842.2 2289.9,1828.4 2295.3,1811.6 2300.7,1792.5 2306.1,1772.4 2311.5,1751.4 2316.9,1729.7 2322.3,1706.5 2327.8,1681.3 2333.2,1653.3 2338.6,1622.7 2344,1588.4 2349.4,1550 2354.8,1508.6 2360.2,1466.4 2365.7,1421.6 2371.1,1376.3 2376.5,1331.4 2381.9,1288.4 2387.3,1254.4 2392.7,1224 2398.1,1195.8 2403.5,1168.8 2409,1144.1 2414.4,1121.3 2419.8,1100.6 2425.2,1081.4 2430.6,1064.4 2436,1048.4 2441.4,1036.3 2446.9,1025.8 2452.3,1017.4 2457.7,1011.8 2463.1,1007.1 2468.5,1004.5 2473.9,1005.3 2479.3,1009.3 2484.8,1014.4 2490.2,1019.5 2495.6,1025.4 2501,1033.2 2506.4,1041.5 2511.8,1050.9 2517.2,1061.2 2522.7,1072.7 2528.1,1084.7 2533.5,1097.4 2538.9,1110.5 2544.3,1123.5 2549.7,1136.8 2555.1,1150.2 2560.6,1163.6 2566,1177.3 2571.4,1190.6 2576.8,1203.9 2582.2,1216.8 2587.6,1230.1 2593,1243.1 2598.5,1256.4 2603.9,1269.4 2609.3,1283 2614.7,1296.9 2620.1,1311.1 2625.5,1326.3 2630.9,1342.2 2636.4,1357.5 2641.8,1371.9 2647.2,1385.8 2652.6,1399.1 2658,1411.7 2663.4,1424.1 2668.8,1436.3 2674.2,1448.3 2679.7,1460.1 2685.1,1471.9 2690.5,1484.2 2695.9,1496.4 2701.3,1508.5 2706.7,1520.3 2712.1,1532.2 2717.6,1544.1 2723,1555.6 2728.4,1567.3 2733.8,1578.6 2739.2,1589.9 2744.6,1600.8 2750,1612 2755.5,1623.2 2760.9,1634.4 2766.3,1645.5 2771.7,1656.7 2777.1,1667.8 2782.5,1678.6 2787.9,1688.7 2793.4,1698.4 2798.8,1707.4 2804.2,1716.1 2809.6,1724.6 2815,1733 2820.4,1740.8 2825.8,1748.4 2831.3,1755.3 2836.7,1762.4 2842.1,1768.9 2847.5,1775.1 2852.9,1780.7 2858.3,1786.3 2863.7,1792.2 2869.2,1798.2 2874.6,1803.4 2880,1808.2 2885.4,1812.5 2890.8,1817.1 2896.2,1821.3 2901.6,1825.3 2907.1,1828.7 2912.5,1831.7 2917.9,1834.8 2923.3,1838.2 2928.7,1841.9 2934.1,1845.5 2939.5,1848.3 2944.9,1851.3 2950.4,1854 2955.8,1857.3 2961.2,1860.2 2966.6,1863.5 2972,1866.2 2977.4,1868.8 2982.8,1870.8 2988.3,1872.8 2993.7,1875.1 2999.1,1877.6 3004.5,1879.9 3009.9,1881.6 3015.3,1883.1 3020.7,1884.6 3026.2,1886.5 3031.6,1888.3 3037,1890.3 3042.4,1892 3047.8,1894.1 3053.2,1896 3058.6,1897.8 3064.1,1899.3 3069.5,1900.5 3074.9,1902 3080.3,1903.6 3085.7,1904.9 3091.1,1905.7 3096.5,1906.6 3102,1908 3107.4,1909.6 3112.8,1911.2 3118.2,1912.1 3123.6,1913.1 3129,1913.9 3134.4,1915.4 3139.9,1916.8 3145.3,1918.4 3150.7,1920 3156.1,1921.3 3161.5,1922.2 3166.9,1922.7 3172.3,1923 3177.8,1923.8 3183.2,1924.1 3188.6,1925.1 3194,1926.3 3199.4,1928.2 3204.8,1929.7 3210.2,1930.6 3215.6,1930.9 3221.1,1931.4 3226.5,1931.8 3231.9,1932.3 3237.3,1932.6 3242.7,1933.4 3248.1,1934.3 3253.5,1935.3 3259,1936.3 3264.4,1937.6 3269.8,1938.6 3275.2,1939.6 3280.6,1940 3286,1940.3 3291.4,1940 3296.9,1940.1 3302.3,1940.3 3307.7,1941.2 3313.1,1941.8 3318.5,1942.4 3323.9,1942.6 3329.3,1943.1 3334.8,1943.7 3340.2,1944.4 3345.6,1945.2 3351,1945.6 3356.4,1945.9 3361.8,1946.1 3367.2,1946.5 3372.7,1946.8 3378.1,1947 3383.5,1947.5 3388.9,1948.3 3394.3,1948.9 3399.7,1949.1 3405.1,1949.3 3410.6,1949.6 3416,1949.8 3421.4,1949.6 3426.8,1949 3432.2,1948.6 3437.6,1948.9 3443,1949.6 3448.5,1949.9 3453.9,1950.1 3459.3,1950 3464.7,1950.1 3470.1,1950.1 3475.5,1950.2 3480.9,1950.7 3486.3,1951.6 3491.8,1952.6 3497.2,1952.8 3502.6,1952.8 3508,1952.3 3513.4,1952.4 3518.8,1952.6 3524.2,1953.1 3529.7,1953.4 3535.1,1953.5 3540.5,1953.6 3545.9,1953.7 3551.3,1954 3556.7,1954.3 3562.1,1954.7 3567.6,1955 3573,1955.1 3578.4,1955.5 3583.8,1955.9 3589.2,1956.4 3594.6,1956.1 3600,1955.5 3605.5,1954.9 3610.9,1954.8 3616.3,1955.1 3621.7,1955.2" fill="none" stroke="#FF0000" stroke-width="2.4" stroke-linejoin="round"/>
<polyline points="2187,1943.2 2192.4,1941.2 2197.8,1938.5 2203.2,1935.6 2208.6,1933 2214.1,1930.4 2219.5,1927.4 2224.9,1923.6 2230.3,1919.4 2235.7,1914.6 2241.1,1909.7 2246.5,1904.6 2252,1899.1 2257.4,1892.9 2262.8,1885.9 2268.2,1877.9 2273.6,1869.1 2279,1859 2284.4,1847.4 2289.9,1833.9 2295.3,1817.3 2300.7,1799.1 2306.1,1780.6 2311.5,1761.3 2316.9,1740.5 2322.3,1717.6 2327.8,1693.3 2333.2,1666.9 2338.6,1638 2344,1605.1 2349.4,1568.2 2354.8,1528.7 2360.2,1488.5 2365.7,1445.5 2371.1,1401.6 2376.5,1358.7 2381.9,1317.4 2387.3,1284.9 2392.7,1255.8 2398.1,1229.1 2403.5,1203.5 2409,1179.7 2414.4,1157.5 2419.8,1137.3 2425.2,1119.1 2430.6,1102.7 2436,1087.4 2441.4,1075.5 2446.9,1065.5 2452.3,1057.7 2457.7,1053.1 2463.1,1049.3 2468.5,1047.3 2473.9,1048.1 2479.3,1051.4 2484.8,1055.4 2490.2,1059.4 2495.6,1064.9 2501,1072.5 2506.4,1081.6 2511.8,1091.3 2517.2,1101.8 2522.7,1112.2 2528.1,1123.1 2533.5,1135 2538.9,1147.6 2544.3,1160.4 2549.7,1173 2555.1,1186 2560.6,1199 2566,1211.8 2571.4,1224.3 2576.8,1236 2582.2,1248.5 2587.6,1261.1 2593,1274.6 2598.5,1287.9 2603.9,1301.2 2609.3,1314.4 2614.7,1327.6 2620.1,1341.1 2625.5,1354.9 2630.9,1369.8 2636.4,1383.8 2641.8,1397.2 2647.2,1410.2 2652.6,1422.8 2658,1435 2663.4,1447.2 2668.8,1459.5 2674.2,1471.6 2679.7,1483.3 2685.1,1494.5 2690.5,1505.9 2695.9,1517.1 2701.3,1528.4 2706.7,1539.7 2712.1,1550.9 2717.6,1562.4 2723,1573.8 2728.4,1585.4 2733.8,1596.1 2739.2,1606.7 2744.6,1617.2 2750,1628.3 2755.5,1638.9 2760.9,1649.2 2766.3,1659.7 2771.7,1670.7 2777.1,1681.5 2782.5,1691.1 2787.9,1700 2793.4,1708.9 2798.8,1718.2 2804.2,1727.1 2809.6,1735.6 2815,1743.4 2820.4,1750.9 2825.8,1758.3 2831.3,1765.3 2836.7,1771.9 2842.1,1777.7 2847.5,1783.4 2852.9,1788.9 2858.3,1794.5 2863.7,1799.9 2869.2,1804.9 2874.6,1809.6 2880,1814 2885.4,1818.8 2890.8,1823.7 2896.2,1828.1 2901.6,1831.9 2907.1,1834.8 2912.5,1838.1 2917.9,1841.3 2923.3,1844.5 2928.7,1847.2 2934.1,1850.2 2939.5,1853.5 2944.9,1856.7 2950.4,1859.4 2955.8,1861.7 2961.2,1864.2 2966.6,1867 2972,1869.9 2977.4,1872.8 2982.8,1875 2988.3,1877 2993.7,1878.5 2999.1,1880.5 3004.5,1882.6 3009.9,1885.2 3015.3,1887.6 3020.7,1889.8 3026.2,1891.4 3031.6,1892.6 3037,1893.7 3042.4,1895 3047.8,1896.8 3053.2,1898.7 3058.6,1900.7 3064.1,1902.3 3069.5,1903.9 3074.9,1905 3080.3,1906.2 3085.7,1907.3 3091.1,1908.9 3096.5,1910.4 3102,1911.9 3107.4,1913.2 3112.8,1914.2 3118.2,1915 3123.6,1915.7 3129,1916.8 3134.4,1918.2 3139.9,1919.9 3145.3,1920.7 3150.7,1921.5 3156.1,1922.2 3161.5,1923.5 3166.9,1924.7 3172.3,1926 3177.8,1927.1 3183.2,1927.9 3188.6,1928.5 3194,1929.1 3199.4,1930 3204.8,1930.8 3210.2,1931.9 3215.6,1932.7 3221.1,1933.8 3226.5,1934.4 3231.9,1935.1 3237.3,1935.5 3242.7,1936 3248.1,1936.3 3253.5,1937 3259,1937.8 3264.4,1938.9 3269.8,1939.5 3275.2,1939.8 3280.6,1939.9 3286,1940.8 3291.4,1941.8 3296.9,1942.3 3302.3,1942.2 3307.7,1942.2 3313.1,1942.2 3318.5,1942.4 3323.9,1942.7 3329.3,1943.6 3334.8,1944.3 3340.2,1944.8 3345.6,1945 3351,1945.4 3356.4,1945.9 3361.8,1946.3 3367.2,1946.3 3372.7,1946.2 3378.1,1946.3 3383.5,1946.7 3388.9,1947.7 3394.3,1948.8 3399.7,1949.6 3405.1,1950.1 3410.6,1950.1 3416,1950.1 3421.4,1950.2 3426.8,1950.3 3432.2,1950.8 3437.6,1950.6 3443,1950.7 3448.5,1950.9 3453.9,1951.8 3459.3,1952.3 3464.7,1952.2 3470.1,1952 3475.5,1952 3480.9,1952.6 3486.3,1953.2 3491.8,1953.7 3497.2,1953.9 3502.6,1953.7 3508,1953.4 3513.4,1953.1 3518.8,1953 3524.2,1953.2 3529.7,1953.5 3535.1,1953.9 3540.5,1954.2 3545.9,1954.4 3551.3,1954.4 3556.7,1954.4 3562.1,1954.3 3567.6,1954.2 3573,1954 3578.4,1953.9 3583.8,1953.8 3589.2,1954 3594.6,1954.8 3600,1956.1 3605.5,1957.2 3610.9,1957.4 3616.3,1956.7 3621.7,1955.7" fill="none" stroke="#FF0000" stroke-width="2.4" stroke-linejoin="round"/>
<polyline points="2187,1936 2192.4,1933.5 2197.8,1930.8 2203.2,1928.1 2208.6,1925.6 2214.1,1923.3 2219.5,1921 2224.9,1919.1 2230.3,1916.9 2235.7,1914.5 2241.1,1911.3 2246.5,1907.8 2252,1904.6 2257.4,1901.7 2262.8,1898.8 2268.2,1895.7 2273.6,1891.9 2279,1887.8 2284.4,1882.7 2289.9,1877 2295.3,1870 2300.7,1862.6 2306.1,1853.9 2311.5,1844.7 2316.9,1834.4 2322.3,1824 2327.8,1812.3 2333.2,1799.1 2338.6,1784.2 2344,1767.3 2349.4,1746.9 2354.8,1725 2360.2,1702.6 2365.7,1679.8 2371.1,1656.7 2376.5,1633.5 2381.9,1610.3 2387.3,1586.9 2392.7,1563.8 2398.1,1541 2403.5,1517.6 2409,1493.9 2414.4,1468.9 2419.8,1444.1 2425.2,1418.6 2430.6,1392.1 2436,1364.1 2441.4,1337.4 2446.9,1313.3 2452.3,1293.7 2457.7,1275.7 2463.1,1259.8 2468.5,1245.5 2473.9,1234.2 2479.3,1224.3 2484.8,1216.8 2490.2,1210.8 2495.6,1206 2501,1201.2 2506.4,1198.1 2511.8,1196.2 2517.2,1196.5 2522.7,1197.6 2528.1,1199.9 2533.5,1202.4 2538.9,1205.6 2544.3,1209.6 2549.7,1214.6 2555.1,1219.7 2560.6,1225.5 2566,1231.7 2571.4,1238.8 2576.8,1245.9 2582.2,1253.5 2587.6,1261 2593,1268.9 2598.5,1276.8 2603.9,1285.9 2609.3,1295.7 2614.7,1306.2 2620.1,1316.4 2625.5,1326.6 2630.9,1336.4 2636.4,1346.1 2641.8,1355.3 2647.2,1364.3 2652.6,1372.1 2658,1379.2 2663.4,1385.9 2668.8,1392.9 2674.2,1400.4 2679.7,1408 2685.1,1416.7 2690.5,1426.1 2695.9,1436.6 2701.3,1447.4 2706.7,1458.8 2712.1,1470.8 2717.6,1483.2 2723,1495.6 2728.4,1508.3 2733.8,1520.9 2739.2,1533.4 2744.6,1545.4 2750,1557.3 2755.5,1569.7 2760.9,1582.4 2766.3,1595.1 2771.7,1606.9 2777.1,1618.5 2782.5,1629.5 2787.9,1640.6 2793.4,1651.6 2798.8,1662.6 2804.2,1673 2809.6,1682.9 2815,1692.3 2820.4,1701.4 2825.8,1710.1 2831.3,1718.1 2836.7,1725.4 2842.1,1732.4 2847.5,1739.3 2852.9,1746.1 2858.3,1752.7 2863.7,1758.9 2869.2,1764.4 2874.6,1769.5 2880,1774.9 2885.4,1779.6 2890.8,1784.5 2896.2,1788.4 2901.6,1793.1 2907.1,1797.5 2912.5,1802.3 2917.9,1806.5 2923.3,1810.4 2928.7,1814 2934.1,1817.7 2939.5,1821.1 2944.9,1824.5 2950.4,1827.6 2955.8,1831 2961.2,1834.9 2966.6,1838.5 2972,1842 2977.4,1844.8 2982.8,1847.3 2988.3,1849.6 2993.7,1852.3 2999.1,1855.3 3004.5,1858.5 3009.9,1861.1 3015.3,1863.2 3020.7,1864.6 3026.2,1866.4 3031.6,1868.4 3037,1870.6 3042.4,1872.5 3047.8,1874.4 3053.2,1876.5 3058.6,1878.6 3064.1,1880.5 3069.5,1882.1 3074.9,1884 3080.3,1885.8 3085.7,1887.5 3091.1,1889.1 3096.5,1890.9 3102,1892.8 3107.4,1894.6 3112.8,1896.1 3118.2,1897.5 3123.6,1898.8 3129,1900.4 3134.4,1901.6 3139.9,1903.3 3145.3,1904.7 3150.7,1906.3 3156.1,1907.3 3161.5,1908.2 3166.9,1909 3172.3,1910.1 3177.8,1911 3183.2,1912.5 3188.6,1913.7 3194,1915.2 3199.4,1916.3 3204.8,1917.4 3210.2,1918.5 3215.6,1919.5 3221.1,1920.6 3226.5,1921.3 3231.9,1922 3237.3,1922.6 3242.7,1923.4 3248.1,1924.4 3253.5,1925.5 3259,1926.3 3264.4,1926.9 3269.8,1927.8 3275.2,1928.9 3280.6,1929.9 3286,1930.7 3291.4,1931.2 3296.9,1932 3302.3,1932.4 3307.7,1933.2 3313.1,1933.7 3318.5,1934.7 3323.9,1935.1 3329.3,1935.5 3334.8,1935.5 3340.2,1935.6 3345.6,1936.1 3351,1936.5 3356.4,1937 3361.8,1937.2 3367.2,1937.5 3372.7,1938.5 3378.1,1939.8 3383.5,1941.2 3388.9,1941.6 3394.3,1941.9 3399.7,1942.1 3405.1,1942.6 3410.6,1943.1 3416,1943.6 3421.4,1943.5 3426.8,1943.3 3432.2,1943.2 3437.6,1943.8 3443,1944.4 3448.5,1945 3453.9,1945.5 3459.3,1946 3464.7,1946.4 3470.1,1946.5 3475.5,1946.7 3480.9,1946.5 3486.3,1946.6 3491.8,1946.4 3497.2,1946.6 3502.6,1947 3508,1947.6 3513.4,1948.3 3518.8,1948.9 3524.2,1949.2 3529.7,1949.3 3535.1,1949.4 3540.5,1950 3545.9,1950.5 3551.3,1950.5 3556.7,1950.1 3562.1,1949.9 3567.6,1950.5 3573,1951.2 3578.4,1952 3583.8,1952.3 3589.2,1952.5 3594.6,1952.4 3600,1952.1 3605.5,1951.6 3610.9,1951.2 3616.3,1951.1 3621.7,1951.4" fill="none" stroke="#00A000" stroke-width="2.4" stroke-linejoin="round"/>
<polyline points="2187,1935.8 2192.4,1933.5 2197.8,1931.2 2203.2,1928.8 2208.6,1926.1 2214.1,1923.5 2219.5,1920.5 2224.9,1917.8 2230.3,1914.9 2235.7,1912.4 2241.1,1909.8 2246.5,1907.2 2252,1904.3 2257.4,1901.2 2262.8,1897.2 2268.2,1893.4 2273.6,1889.6 2279,1886.4 2284.4,1882.3 2289.9,1876.9 2295.3,1870.3 2300.7,1862.8 2306.1,1854.6 2311.5,1845.1 2316.9,1835 2322.3,1824.3 2327.8,1812.9 2333.2,1799.6 2338.6,1784.8 2344,1767.7 2349.4,1747.9 2354.8,1726.8 2360.2,1705.2 2365.7,1682.3 2371.1,1658.6 2376.5,1635 2381.9,1611.8 2387.3,1588.8 2392.7,1565.7 2398.1,1542.7 2403.5,1519.8 2409,1496.4 2414.4,1472.3 2419.8,1447.3 2425.2,1422.3 2430.6,1395.9 2436,1368.4 2441.4,1341.3 2446.9,1316.9 2452.3,1297.1 2457.7,1279.7 2463.1,1264.3 2468.5,1251 2473.9,1239.8 2479.3,1230.2 2484.8,1222 2490.2,1216.2 2495.6,1211.2 2501,1206.9 2506.4,1203.5 2511.8,1201.8 2517.2,1201.9 2522.7,1203.5 2528.1,1205.8 2533.5,1208.2 2538.9,1210.9 2544.3,1214.5 2549.7,1219 2555.1,1224.2 2560.6,1229.9 2566,1236.4 2571.4,1243.9 2576.8,1252 2582.2,1259.6 2587.6,1267 2593,1274 2598.5,1282 2603.9,1290.5 2609.3,1300.1 2614.7,1309.9 2620.1,1320.3 2625.5,1330.2 2630.9,1340.2 2636.4,1349.6 2641.8,1359.3 2647.2,1367.8 2652.6,1375.7 2658,1382.4 2663.4,1389.8 2668.8,1396.9 2674.2,1404.6 2679.7,1411.9 2685.1,1420.3 2690.5,1429.4 2695.9,1439.8 2701.3,1451.2 2706.7,1463 2712.1,1475.2 2717.6,1486.7 2723,1498.4 2728.4,1510.4 2733.8,1522.8 2739.2,1535.5 2744.6,1547.4 2750,1559.7 2755.5,1572.4 2760.9,1585.4 2766.3,1597.9 2771.7,1609.3 2777.1,1620.8 2782.5,1631.7 2787.9,1642.6 2793.4,1653 2798.8,1663.4 2804.2,1674 2809.6,1684.4 2815,1694.4 2820.4,1703.3 2825.8,1711.7 2831.3,1719.6 2836.7,1727.4 2842.1,1734.8 2847.5,1741.6 2852.9,1747.3 2858.3,1753.1 2863.7,1758.6 2869.2,1764.6 2874.6,1770 2880,1775.1 2885.4,1779.7 2890.8,1784.7 2896.2,1790.1 2901.6,1795.3 2907.1,1799.8 2912.5,1803.6 2917.9,1807.2 2923.3,1810.6 2928.7,1814.2 2934.1,1817.8 2939.5,1821.5 2944.9,1825.1 2950.4,1828.8 2955.8,1832.4 2961.2,1835.9 2966.6,1838.8 2972,1841.6 2977.4,1844.4 2982.8,1847.2 2988.3,1849.7 2993.7,1851.7 2999.1,1853.8 3004.5,1856.1 3009.9,1858.7 3015.3,1861.3 3020.7,1863.9 3026.2,1866.5 3031.6,1868.9 3037,1870.8 3042.4,1872.7 3047.8,1874.6 3053.2,1876.9 3058.6,1879 3064.1,1881.2 3069.5,1883 3074.9,1885 3080.3,1886.6 3085.7,1888.3 3091.1,1889.7 3096.5,1891.5 3102,1893.6 3107.4,1895.9 3112.8,1897.8 3118.2,1899.1 3123.6,1900 3129,1900.8 3134.4,1901.7 3139.9,1902.9 3145.3,1904.3 3150.7,1905.9 3156.1,1907.5 3161.5,1908.4 3166.9,1909 3172.3,1909.5 3177.8,1910.8 3183.2,1912.2 3188.6,1913.4 3194,1914.1 3199.4,1915 3204.8,1916 3210.2,1917.2 3215.6,1918.4 3221.1,1919.7 3226.5,1921 3231.9,1922 3237.3,1922.6 3242.7,1923.2 3248.1,1924 3253.5,1925 3259,1925.4 3264.4,1926 3269.8,1926.6 3275.2,1928 3280.6,1929.2 3286,1930.6 3291.4,1931.3 3296.9,1931.8 3302.3,1931.7 3307.7,1931.8 3313.1,1932.4 3318.5,1933.3 3323.9,1934.5 3329.3,1935.2 3334.8,1936 3340.2,1936.3 3345.6,1936.8 3351,1937.7 3356.4,1938.7 3361.8,1939.6 3367.2,1939.8 3372.7,1939.8 3378.1,1940 3383.5,1940.2 3388.9,1940.9 3394.3,1940.8 3399.7,1940.8 3405.1,1940.2 3410.6,1940.7 3416,1941.4 3421.4,1942.5 3426.8,1943 3432.2,1943.5 3437.6,1943.8 3443,1944 3448.5,1943.7 3453.9,1943.6 3459.3,1943.6 3464.7,1944 3470.1,1944.7 3475.5,1945.5 3480.9,1946.1 3486.3,1946.6 3491.8,1946.7 3497.2,1946.6 3502.6,1946.7 3508,1947.3 3513.4,1948.2 3518.8,1948.4 3524.2,1948.4 3529.7,1947.9 3535.1,1948.1 3540.5,1948.4 3545.9,1948.9 3551.3,1949.2 3556.7,1949.2 3562.1,1949.2 3567.6,1949.5 3573,1949.5 3578.4,1949.3 3583.8,1948.8 3589.2,1949.1 3594.6,1949.8 3600,1950.5 3605.5,1950.9 3610.9,1951.2 3616.3,1951.4 3621.7,1951.6" fill="none" stroke="#00A000" stroke-width="2.4" stroke-linejoin="round"/>
<polyline points="2187,1906.2 2192.4,1902.9 2197.8,1900.3 2203.2,1897.7 2208.6,1894.4 2214.1,1890.5 2219.5,1886.5 2224.9,1882.5 2230.3,1878.4 2235.7,1874.5 2241.1,1870.6 2246.5,1867.2 2252,1863.2 2257.4,1859.1 2262.8,1854.2 2268.2,1848.7 2273.6,1841.7 2279,1833.3 2284.4,1824.3 2289.9,1814.8 2295.3,1805.3 2300.7,1795.1 2306.1,1784.7 2311.5,1773.5 2316.9,1761.9 2322.3,1749.7 2327.8,1736.2 2333.2,1721.6 2338.6,1706.2 2344,1691.3 2349.4,1676.8 2354.8,1663.7 2360.2,1651.2 2365.7,1639.1 2371.1,1626.9 2376.5,1615.9 2381.9,1606.5 2387.3,1599.8 2392.7,1594.1 2398.1,1589 2403.5,1584.4 2409,1580.9 2414.4,1578.1 2419.8,1575.7 2425.2,1573.2 2430.6,1571.1 2436,1569.1 2441.4,1568.2 2446.9,1568.1 2452.3,1569.4 2457.7,1570.8 2463.1,1573.1 2468.5,1575.1 2473.9,1577.3 2479.3,1578.9 2484.8,1581.5 2490.2,1584.1 2495.6,1588 2501,1591.7 2506.4,1596.1 2511.8,1599.8 2517.2,1603.3 2522.7,1606.6 2528.1,1610.3 2533.5,1613.9 2538.9,1617.7 2544.3,1621.5 2549.7,1625.6 2555.1,1629.4 2560.6,1633.6 2566,1637.6 2571.4,1641.4 2576.8,1644.7 2582.2,1647.7 2587.6,1651.2 2593,1654.9 2598.5,1659.5 2603.9,1663.8 2609.3,1668.1 2614.7,1671.8 2620.1,1675.5 2625.5,1679.6 2630.9,1684.2 2636.4,1688.8 2641.8,1692.9 2647.2,1696.7 2652.6,1700.5 2658,1704 2663.4,1707.5 2668.8,1710.8 2674.2,1714.8 2679.7,1719.1 2685.1,1724.3 2690.5,1729 2695.9,1733.6 2701.3,1736.9 2706.7,1740.5 2712.1,1744.4 2717.6,1749.5 2723,1754.2 2728.4,1758.7 2733.8,1762.9 2739.2,1767.3 2744.6,1772 2750,1776.7 2755.5,1781.3 2760.9,1785.5 2766.3,1789.5 2771.7,1793.7 2777.1,1798.5 2782.5,1803.1 2787.9,1807 2793.4,1810.3 2798.8,1813.6 2804.2,1817.1 2809.6,1820.8 2815,1823.9 2820.4,1826.7 2825.8,1829.1 2831.3,1832.2 2836.7,1835.3 2842.1,1838.5 2847.5,1840.9 2852.9,1843.3 2858.3,1845.2 2863.7,1847.5 2869.2,1849.9 2874.6,1852.4 2880,1854.8 2885.4,1856.9 2890.8,1859.2 2896.2,1861.2 2901.6,1863.5 2907.1,1865 2912.5,1866.9 2917.9,1868.5 2923.3,1870.8 2928.7,1872.9 2934.1,1874.8 2939.5,1876.7 2944.9,1878.5 2950.4,1880.4 2955.8,1881.8 2961.2,1883 2966.6,1884.2 2972,1885.9 2977.4,1887.5 2982.8,1889.3 2988.3,1890.5 2993.7,1891.9 2999.1,1892.7 3004.5,1894.2 3009.9,1895.8 3015.3,1897.8 3020.7,1899.2 3026.2,1900.3 3031.6,1901.1 3037,1902.1 3042.4,1903.3 3047.8,1904.1 3053.2,1904.8 3058.6,1905.5 3064.1,1906.3 3069.5,1907.3 3074.9,1908.3 3080.3,1909.7 3085.7,1910.6 3091.1,1911.9 3096.5,1912.6 3102,1913.6 3107.4,1913.9 3112.8,1914.8 3118.2,1915.4 3123.6,1916.4 3129,1916.7 3134.4,1917.5 3139.9,1918 3145.3,1919 3150.7,1919.6 3156.1,1920.6 3161.5,1921.3 3166.9,1922.1 3172.3,1922.8 3177.8,1923.9 3183.2,1925.3 3188.6,1926.5 3194,1927.1 3199.4,1927.6 3204.8,1928.5 3210.2,1929.5 3215.6,1930.4 3221.1,1930.7 3226.5,1930.9 3231.9,1930.7 3237.3,1930.7 3242.7,1930.8 3248.1,1931.5 3253.5,1932.2 3259,1933.3 3264.4,1934.3 3269.8,1935.4 3275.2,1935.9 3280.6,1936.2 3286,1936.8 3291.4,1937.4 3296.9,1937.6 3302.3,1937.3 3307.7,1937.3 3313.1,1937.9 3318.5,1938.7 3323.9,1939.2 3329.3,1939.5 3334.8,1940 3340.2,1940.3 3345.6,1940.8 3351,1940.8 3356.4,1941.3 3361.8,1942.1 3367.2,1942.8 3372.7,1943.3 3378.1,1943.2 3383.5,1943.4 3388.9,1943.4 3394.3,1943.7 3399.7,1943.6 3405.1,1943.7 3410.6,1943.8 3416,1944.6 3421.4,1945 3426.8,1945.5 3432.2,1945.6 3437.6,1946.4 3443,1947.1 3448.5,1947.7 3453.9,1947.4 3459.3,1947.5 3464.7,1947.7 3470.1,1948.3 3475.5,1948.9 3480.9,1949.1 3486.3,1949.9 3491.8,1949.9 3497.2,1950.3 3502.6,1949.8 3508,1950 3513.4,1949.8 3518.8,1950.3 3524.2,1950.5 3529.7,1951 3535.1,1950.9 3540.5,1950.7 3545.9,1950.4 3551.3,1950 3556.7,1950 3562.1,1950.3 3567.6,1951.2 3573,1951.6 3578.4,1951.7 3583.8,1951.2 3589.2,1950.7 3594.6,1950.8 3600,1951.5 3605.5,1952.8 3610.9,1953.5 3616.3,1953.8 3621.7,1953.4" fill="none" stroke="#00A000" stroke-width="2.4" stroke-linejoin="round"/>
<polyline points="2187,1915.5 2192.4,1912.4 2197.8,1909.2 2203.2,1905.2 2208.6,1901.3 2214.1,1897.4 2219.5,1893.9 2224.9,1890.5 2230.3,1886.9 2235.7,1883.4 2241.1,1879.7 2246.5,1876.2 2252,1872.4 2257.4,1868.6 2262.8,1864.2 2268.2,1859.3 2273.6,1853.1 2279,1845.7 2284.4,1837.4 2289.9,1828.8 2295.3,1819.6 2300.7,1810.1 2306.1,1800 2311.5,1789.6 2316.9,1779.2 2322.3,1768.3 2327.8,1756.2 2333.2,1742.6 2338.6,1728.7 2344,1715.6 2349.4,1703.3 2354.8,1692 2360.2,1681.2 2365.7,1670.6 2371.1,1659.9 2376.5,1650.3 2381.9,1641.8 2387.3,1635.3 2392.7,1630 2398.1,1625.2 2403.5,1620.7 2409,1617.2 2414.4,1614.6 2419.8,1612.8 2425.2,1611 2430.6,1609.9 2436,1609.3 2441.4,1609.5 2446.9,1610.1 2452.3,1611.5 2457.7,1613.8 2463.1,1616.2 2468.5,1618.1 2473.9,1619.5 2479.3,1621.4 2484.8,1624.3 2490.2,1627.3 2495.6,1630.5 2501,1633.6 2506.4,1637.5 2511.8,1641.2 2517.2,1645 2522.7,1648.3 2528.1,1651.8 2533.5,1655.3 2538.9,1659.3 2544.3,1663.3 2549.7,1666.9 2555.1,1670.3 2560.6,1673.6 2566,1677.4 2571.4,1681.3 2576.8,1685.1 2582.2,1689 2587.6,1692.7 2593,1696.3 2598.5,1699.9 2603.9,1703.7 2609.3,1707.7 2614.7,1711.4 2620.1,1714.9 2625.5,1718.1 2630.9,1721.9 2636.4,1725.5 2641.8,1729.8 2647.2,1733.8 2652.6,1738.1 2658,1741.5 2663.4,1745.2 2668.8,1748.9 2674.2,1753.3 2679.7,1757.5 2685.1,1761.3 2690.5,1765.1 2695.9,1768.9 2701.3,1773.1 2706.7,1777.4 2712.1,1781.3 2717.6,1784.7 2723,1788.1 2728.4,1791.8 2733.8,1795.5 2739.2,1799.2 2744.6,1802.7 2750,1806.7 2755.5,1810.6 2760.9,1815 2766.3,1819 2771.7,1822.8 2777.1,1826 2782.5,1829.6 2787.9,1833.3 2793.4,1836.9 2798.8,1839.8 2804.2,1842.7 2809.6,1845.3 2815,1848.3 2820.4,1850.6 2825.8,1852.9 2831.3,1854.9 2836.7,1857.3 2842.1,1859.5 2847.5,1861.4 2852.9,1863.2 2858.3,1865.1 2863.7,1867.5 2869.2,1869.8 2874.6,1872.2 2880,1874.1 2885.4,1875.8 2890.8,1877.1 2896.2,1878.4 2901.6,1880.1 2907.1,1882.1 2912.5,1883.9 2917.9,1885.4 2923.3,1886.7 2928.7,1888 2934.1,1889 2939.5,1889.9 2944.9,1891.2 2950.4,1892.7 2955.8,1894.1 2961.2,1895 2966.6,1896 2972,1897.5 2977.4,1898.8 2982.8,1899.9 2988.3,1900.8 2993.7,1902.1 2999.1,1903.7 3004.5,1905.1 3009.9,1906.3 3015.3,1907.2 3020.7,1908.3 3026.2,1909.5 3031.6,1910.7 3037,1911.6 3042.4,1912.2 3047.8,1912.6 3053.2,1912.9 3058.6,1913.9 3064.1,1914.9 3069.5,1916.5 3074.9,1917.3 3080.3,1918.4 3085.7,1918.8 3091.1,1919.8 3096.5,1920.4 3102,1921.6 3107.4,1922.3 3112.8,1923.3 3118.2,1923.4 3123.6,1924 3129,1924.3 3134.4,1925.5 3139.9,1926.2 3145.3,1927.1 3150.7,1927.6 3156.1,1928.5 3161.5,1929.3 3166.9,1929.9 3172.3,1930.4 3177.8,1930.8 3183.2,1931.6 3188.6,1932.4 3194,1933.1 3199.4,1933.6 3204.8,1934.1 3210.2,1934.7 3215.6,1935.4 3221.1,1935.8 3226.5,1935.9 3231.9,1935.9 3237.3,1936.3 3242.7,1937.2 3248.1,1938.2 3253.5,1938.8 3259,1939.4 3264.4,1939.7 3269.8,1940.3 3275.2,1940.6 3280.6,1941.3 3286,1941.6 3291.4,1941.7 3296.9,1941.5 3302.3,1941.7 3307.7,1942.2 3313.1,1942.9 3318.5,1943.4 3323.9,1943.7 3329.3,1943.7 3334.8,1943.9 3340.2,1944.4 3345.6,1945.2 3351,1945.6 3356.4,1945.5 3361.8,1945 3367.2,1944.4 3372.7,1944.7 3378.1,1945.1 3383.5,1945.8 3388.9,1946.3 3394.3,1946.9 3399.7,1947.4 3405.1,1947.6 3410.6,1948 3416,1948.1 3421.4,1948.4 3426.8,1948 3432.2,1947.9 3437.6,1948.1 3443,1948.7 3448.5,1949.1 3453.9,1949.6 3459.3,1950.1 3464.7,1950.6 3470.1,1950.5 3475.5,1950.2 3480.9,1949.5 3486.3,1949.7 3491.8,1950.3 3497.2,1951.6 3502.6,1952.4 3508,1952 3513.4,1951.4 3518.8,1950.9 3524.2,1951.5 3529.7,1951.8 3535.1,1952.2 3540.5,1952.1 3545.9,1952.2 3551.3,1952.3 3556.7,1952.3 3562.1,1952.4 3567.6,1952.7 3573,1952.8 3578.4,1953.1 3583.8,1953.2 3589.2,1953.5 3594.6,1953.2 3600,1952.6 3605.5,1952.2 3610.9,1952.4 3616.3,1953 3621.7,1953.7" fill="none" stroke="#00A000" stroke-width="2.4" stroke-linejoin="round"/>
<polyline points="2187,1914.7 2192.4,1911.8 2197.8,1909.2 2203.2,1906.5 2208.6,1903.2 2214.1,1899.6 2219.5,1896 2224.9,1892.7 2230.3,1889.3 2235.7,1885.9 2241.1,1882.7 2246.5,1879.7 2252,1876.1 2257.4,1871.7 2262.8,1866.7 2268.2,1861.2 2273.6,1855.2 2279,1848.1 2284.4,1840.7 2289.9,1832.2 2295.3,1823.5 2300.7,1814.3 2306.1,1804.8 2311.5,1795.3 2316.9,1784.9 2322.3,1774.1 2327.8,1761.9 2333.2,1749 2338.6,1735.4 2344,1722.2 2349.4,1709.6 2354.8,1698.2 2360.2,1687.3 2365.7,1676.4 2371.1,1666.2 2376.5,1657 2381.9,1648.9 2387.3,1642.1 2392.7,1636.9 2398.1,1632.9 2403.5,1629.9 2409,1627.3 2414.4,1624.9 2419.8,1622.5 2425.2,1620.8 2430.6,1619.8 2436,1619.4 2441.4,1620 2446.9,1620.6 2452.3,1622.1 2457.7,1623.7 2463.1,1626.2 2468.5,1628.1 2473.9,1630 2479.3,1632 2484.8,1634.5 2490.2,1637.4 2495.6,1640.4 2501,1644 2506.4,1647.8 2511.8,1651.9 2517.2,1655.4 2522.7,1659.3 2528.1,1662.7 2533.5,1666.5 2538.9,1669.8 2544.3,1673.6 2549.7,1677.1 2555.1,1681 2560.6,1684.8 2566,1688.6 2571.4,1692.4 2576.8,1696.3 2582.2,1700.3 2587.6,1704.3 2593,1708.5 2598.5,1712.8 2603.9,1716.8 2609.3,1721.3 2614.7,1725.8 2620.1,1730.6 2625.5,1734.9 2630.9,1739.5 2636.4,1744.1 2641.8,1748.5 2647.2,1752.7 2652.6,1756.3 2658,1760.6 2663.4,1764.9 2668.8,1770.1 2674.2,1774.8 2679.7,1780.2 2685.1,1784.5 2690.5,1788.5 2695.9,1791.5 2701.3,1795 2706.7,1798.7 2712.1,1802.9 2717.6,1806.5 2723,1809.9 2728.4,1813.3 2733.8,1816.7 2739.2,1820.4 2744.6,1823.8 2750,1827.5 2755.5,1831.2 2760.9,1835.3 2766.3,1839.1 2771.7,1842.6 2777.1,1845.9 2782.5,1848.9 2787.9,1851.7 2793.4,1854.1 2798.8,1856.7 2804.2,1858.8 2809.6,1861 2815,1863 2820.4,1865.7 2825.8,1868.1 2831.3,1870.3 2836.7,1871.8 2842.1,1873.5 2847.5,1875.2 2852.9,1877 2858.3,1878.7 2863.7,1880.8 2869.2,1882.6 2874.6,1884.7 2880,1886.4 2885.4,1888.1 2890.8,1889.3 2896.2,1890.6 2901.6,1891.8 2907.1,1893.1 2912.5,1894.2 2917.9,1895.1 2923.3,1896.4 2928.7,1897.9 2934.1,1899.7 2939.5,1901.1 2944.9,1902.5 2950.4,1903.4 2955.8,1904.4 2961.2,1905.2 2966.6,1906.5 2972,1907.5 2977.4,1908.4 2982.8,1909 2988.3,1909.7 2993.7,1910.5 2999.1,1911.4 3004.5,1912.5 3009.9,1913.6 3015.3,1914.8 3020.7,1915.9 3026.2,1916.8 3031.6,1917.8 3037,1918.8 3042.4,1919.6 3047.8,1920.3 3053.2,1921 3058.6,1921.6 3064.1,1922.2 3069.5,1922.5 3074.9,1923.2 3080.3,1923.9 3085.7,1925 3091.1,1925.9 3096.5,1926.4 3102,1927 3107.4,1927.9 3112.8,1929 3118.2,1929.8 3123.6,1930.3 3129,1930.8 3134.4,1931.3 3139.9,1931.5 3145.3,1932.1 3150.7,1932.6 3156.1,1933.4 3161.5,1933.7 3166.9,1934.3 3172.3,1934.8 3177.8,1935.6 3183.2,1935.8 3188.6,1936.1 3194,1936.2 3199.4,1937.1 3204.8,1938.1 3210.2,1938.7 3215.6,1938.9 3221.1,1939.1 3226.5,1939.8 3231.9,1940.4 3237.3,1941 3242.7,1941.4 3248.1,1941.7 3253.5,1941.8 3259,1941.9 3264.4,1942.2 3269.8,1942.3 3275.2,1942.4 3280.6,1942.3 3286,1942.9 3291.4,1943.4 3296.9,1944.1 3302.3,1944.3 3307.7,1944.7 3313.1,1945.2 3318.5,1945.6 3323.9,1945.5 3329.3,1945.3 3334.8,1945.5 3340.2,1946.1 3345.6,1946.6 3351,1947 3356.4,1947.3 3361.8,1947.6 3367.2,1947.7 3372.7,1947.5 3378.1,1947.8 3383.5,1948.2 3388.9,1948.8 3394.3,1948.9 3399.7,1949 3405.1,1949.1 3410.6,1949.6 3416,1950.2 3421.4,1950.6 3426.8,1950.7 3432.2,1950.9 3437.6,1950.9 3443,1950.4 3448.5,1950.1 3453.9,1949.9 3459.3,1950.7 3464.7,1951.1 3470.1,1951.6 3475.5,1951.2 3480.9,1951.5 3486.3,1951.8 3491.8,1952.7 3497.2,1953.2 3502.6,1953.6 3508,1953.4 3513.4,1953.5 3518.8,1953.2 3524.2,1953.3 3529.7,1953.3 3535.1,1953.7 3540.5,1953.9 3545.9,1953.9 3551.3,1953.4 3556.7,1953.3 3562.1,1953.6 3567.6,1954.4 3573,1954.5 3578.4,1954.3 3583.8,1954.3 3589.2,1954.8 3594.6,1955.7 3600,1956 3605.5,1955.9 3610.9,1955.1 3616.3,1954.8 3621.7,1954.7" fill="none" stroke="#00A000" stroke-width="2.4" stroke-linejoin="round"/>
<text transform="translate(2171.3,1984.6)" style="font-size:68px;" fill="#000" text-anchor="end">0</text>
<text transform="translate(2171.3,1813.5)" style="font-size:68px;" fill="#000" text-anchor="end">200</text>
<text transform="translate(2171.3,1642.5)" style="font-size:68px;" fill="#000" text-anchor="end">400</text>
<text transform="translate(2171.3,1471.4)" style="font-size:68px;" fill="#000" text-anchor="end">600</text>
<text transform="translate(2171.3,1300.4)" style="font-size:68px;" fill="#000" text-anchor="end">800</text>
<text transform="translate(2171.3,1129.3)" style="font-size:68px;" fill="#000" text-anchor="end">1000</text>
<text transform="translate(2171.3,958.2)" style="font-size:68px;" fill="#000" text-anchor="end">1200</text>
<text transform="translate(2268.2,2032.8)" style="font-size:68px;" fill="#000" text-anchor="middle">400</text>
<text transform="translate(2538.9,2032.8)" style="font-size:68px;" fill="#000" text-anchor="middle">450</text>
<text transform="translate(2809.6,2032.8)" style="font-size:68px;" fill="#000" text-anchor="middle">500</text>
<text transform="translate(3080.3,2032.8)" style="font-size:68px;" fill="#000" text-anchor="middle">550</text>
<text transform="translate(3351,2032.8)" style="font-size:68px;" fill="#000" text-anchor="middle">600</text>
<text transform="translate(3621.7,2032.8)" style="font-size:68px;" fill="#000" text-anchor="middle">650</text>
<text transform="translate(2904,2110.7) scale(1.0,1.03)" style="font-size:66.7px;" fill="#000" text-anchor="middle">Wavelength [nm]</text>
<text transform="translate(1970,1386.8) rotate(-90) scale(1.0,1.055)" style="font-size:66.4px;" fill="#000" text-anchor="middle">PL intensity</text>
<text transform="translate(2533,934.3) scale(1.0,1.04)" style="font-size:101px;" fill="#FF0000">Cr</text>
<text transform="translate(2437,1525.7) scale(1.0,1.04)" style="font-size:101px;" fill="#00A650">SmA</text>
<text transform="translate(2415,1835) scale(1.0,1.04)" style="font-size:101px;" fill="#0433FF">N</text>
<text transform="translate(3052,1817.1) scale(1.0,1.02)" style="font-size:102.4px;" fill="#000">&lt;n=6, X=F&gt;</text>
<rect x="2867.0" y="817.0" width="750.5" height="791.0" fill="#000"/>
<clipPath id="cieclip"><polygon points="3617.5,1328.5 3348.4,1452.3 3348.4,1452.3 3348.4,1452.3 3348.4,1452.3 3348.3,1452.3 3348.3,1452.3 3348.3,1452.3 3348.3,1452.3 3348.3,1452.3 3348.3,1452.3 3348.2,1452.3 3348.2,1452.3 3348.2,1452.3 3348.2,1452.3 3348.1,1452.3 3348.1,1452.3 3348.1,1452.3 3348,1452.3 3348,1452.3 3347.9,1452.3 3347.9,1452.3 3347.8,1452.3 3347.8,1452.3 3347.7,1452.3 3347.7,1452.3 3347.6,1452.3 3347.6,1452.3 3347.5,1452.3 3347.4,1452.3 3347.4,1452.3 3347.3,1452.3 3347.2,1452.3 3347.2,1452.3 3347.1,1452.3 3347,1452.3 3346.9,1452.3 3346.9,1452.3 3346.8,1452.3 3346.7,1452.3 3346.6,1452.3 3346.5,1452.3 3346.5,1452.3 3346.4,1452.3 3346.3,1452.3 3346.2,1452.3 3346.1,1452.3 3346,1452.3 3345.9,1452.3 3345.8,1452.3 3345.7,1452.3 3345.6,1452.3 3345.5,1452.3 3345.4,1452.3 3345.3,1452.3 3345.2,1452.2 3345.1,1452.2 3345,1452.2 3344.8,1452.2 3344.7,1452.2 3344.6,1452.2 3344.5,1452.2 3344.4,1452.2 3344.3,1452.2 3344.1,1452.2 3344,1452.2 3343.9,1452.2 3343.8,1452.2 3343.7,1452.2 3343.5,1452.2 3343.4,1452.2 3343.3,1452.2 3343.1,1452.1 3342.9,1452 3342.7,1451.9 3342.5,1451.8 3342.3,1451.6 3342,1451.4 3341.8,1451.2 3341.5,1451 3341.2,1450.8 3340.9,1450.6 3340.6,1450.3 3340.3,1450.1 3339.9,1449.8 3339.6,1449.5 3339.3,1449.3 3338.9,1449 3338.6,1448.7 3338.2,1448.5 3337.8,1448.1 3337.4,1447.8 3337,1447.4 3336.5,1447 3336.1,1446.7 3335.6,1446.2 3335.1,1445.8 3334.7,1445.4 3334.2,1445 3333.7,1444.5 3333.2,1444 3332.6,1443.5 3332.1,1443 3331.5,1442.5 3330.9,1442 3330.3,1441.5 3329.7,1440.9 3329.1,1440.3 3328.4,1439.8 3327.7,1439.2 3327,1438.6 3326.3,1437.9 3325.5,1437.3 3324.7,1436.6 3323.9,1435.9 3323.1,1435.1 3322.2,1434.4 3321.2,1433.6 3320.3,1432.8 3319.3,1431.9 3318.3,1431 3317.2,1430.1 3316.2,1429.2 3315.1,1428.3 3314,1427.3 3312.9,1426.4 3311.7,1425.3 3310.5,1424.3 3309.3,1423.2 3308,1422.1 3306.7,1420.9 3305.4,1419.7 3304,1418.4 3302.6,1417.1 3301.2,1415.7 3299.7,1414.3 3298.2,1412.8 3296.7,1411.2 3295.1,1409.6 3293.5,1407.9 3291.8,1406.1 3290.2,1404.3 3288.5,1402.4 3286.7,1400.5 3285,1398.4 3283.1,1396.2 3281.2,1393.8 3279.3,1391.4 3277.2,1388.7 3275.1,1385.9 3272.9,1382.7 3270.6,1379.4 3268.2,1375.8 3265.8,1371.9 3263.3,1367.9 3260.7,1363.6 3258,1359.1 3255.3,1354.5 3252.5,1349.5 3249.6,1344.3 3246.7,1338.6 3243.6,1332.7 3240.5,1326.4 3237.3,1319.8 3234,1312.8 3230.6,1305.6 3227.1,1298 3223.5,1289.8 3219.8,1281.2 3216,1272 3212.2,1262.3 3208.2,1252.1 3204.1,1241.6 3199.9,1230.6 3195.6,1219.2 3191.2,1207.2 3186.6,1194.6 3181.9,1181.3 3177,1167.3 3172.1,1152.7 3167.1,1137.6 3162.1,1121.9 3157.1,1105.7 3152.2,1089.1 3147.2,1071.6 3142.3,1053.3 3137.2,1034.1 3132.2,1014.3 3127.2,993.8 3122.2,972.7 3117.2,951.2 3112.3,929.3 3107.5,907.1 3102.7,884.1 3098,860.5 3093.3,836.3 3089.6,817 3617.5,817"/></clipPath>
<defs>
<linearGradient id="cg0" gradientUnits="userSpaceOnUse" x1="3080.0" x2="3617.5" y1="0" y2="0"><stop offset="0.000" stop-color="#00FFEB"/><stop offset="0.071" stop-color="#0DFFEB"/><stop offset="0.143" stop-color="#21FFEB"/><stop offset="0.214" stop-color="#34FFEB"/><stop offset="0.286" stop-color="#47FFEB"/><stop offset="0.357" stop-color="#5BFFEC"/><stop offset="0.429" stop-color="#6EFFEC"/><stop offset="0.500" stop-color="#82FFEC"/><stop offset="0.571" stop-color="#95FFED"/><stop offset="0.643" stop-color="#A8FFED"/><stop offset="0.714" stop-color="#BCFFEE"/><stop offset="0.786" stop-color="#CFFFEF"/><stop offset="0.857" stop-color="#E2FFF1"/><stop offset="0.929" stop-color="#F3FFF4"/><stop offset="1.000" stop-color="#F8FFEB"/></linearGradient>
<linearGradient id="cg1" gradientUnits="userSpaceOnUse" x1="3080.0" x2="3617.5" y1="0" y2="0"><stop offset="0.000" stop-color="#00FFF0"/><stop offset="0.071" stop-color="#0CFFF0"/><stop offset="0.143" stop-color="#20FFF0"/><stop offset="0.214" stop-color="#33FFF0"/><stop offset="0.286" stop-color="#47FFF0"/><stop offset="0.357" stop-color="#5AFFF0"/><stop offset="0.429" stop-color="#6DFFF1"/><stop offset="0.500" stop-color="#81FFF1"/><stop offset="0.571" stop-color="#94FFF1"/><stop offset="0.643" stop-color="#A7FFF1"/><stop offset="0.714" stop-color="#BBFFF2"/><stop offset="0.786" stop-color="#CEFFF2"/><stop offset="0.857" stop-color="#E1FFF4"/><stop offset="0.929" stop-color="#F4FFF7"/><stop offset="1.000" stop-color="#FCFFEF"/></linearGradient>
<linearGradient id="cg2" gradientUnits="userSpaceOnUse" x1="3080.0" x2="3617.5" y1="0" y2="0"><stop offset="0.000" stop-color="#00FFF5"/><stop offset="0.071" stop-color="#0BFFF5"/><stop offset="0.143" stop-color="#1FFFF5"/><stop offset="0.214" stop-color="#32FFF5"/><stop offset="0.286" stop-color="#46FFF5"/><stop offset="0.357" stop-color="#59FFF5"/><stop offset="0.429" stop-color="#6CFFF5"/><stop offset="0.500" stop-color="#80FFF6"/><stop offset="0.571" stop-color="#93FFF6"/><stop offset="0.643" stop-color="#A6FFF6"/><stop offset="0.714" stop-color="#BAFFF6"/><stop offset="0.786" stop-color="#CDFFF6"/><stop offset="0.857" stop-color="#E1FFF7"/><stop offset="0.929" stop-color="#F4FFF9"/><stop offset="1.000" stop-color="#FFFDF3"/></linearGradient>
<linearGradient id="cg3" gradientUnits="userSpaceOnUse" x1="3080.0" x2="3617.5" y1="0" y2="0"><stop offset="0.000" stop-color="#00FFFA"/><stop offset="0.071" stop-color="#0BFFFA"/><stop offset="0.143" stop-color="#1EFFFA"/><stop offset="0.214" stop-color="#31FFFA"/><stop offset="0.286" stop-color="#45FFFA"/><stop offset="0.357" stop-color="#58FFFA"/><stop offset="0.429" stop-color="#6BFFFB"/><stop offset="0.500" stop-color="#7FFFFB"/><stop offset="0.571" stop-color="#92FFFB"/><stop offset="0.643" stop-color="#A5FFFB"/><stop offset="0.714" stop-color="#B9FFFB"/><stop offset="0.786" stop-color="#CCFFFB"/><stop offset="0.857" stop-color="#E0FFFB"/><stop offset="0.929" stop-color="#F3FFFC"/><stop offset="1.000" stop-color="#FFFAF7"/></linearGradient>
<linearGradient id="cg4" gradientUnits="userSpaceOnUse" x1="3080.0" x2="3617.5" y1="0" y2="0"><stop offset="0.000" stop-color="#00FEFF"/><stop offset="0.071" stop-color="#0AFEFF"/><stop offset="0.143" stop-color="#1DFEFF"/><stop offset="0.214" stop-color="#30FEFF"/><stop offset="0.286" stop-color="#44FEFF"/><stop offset="0.357" stop-color="#57FEFF"/><stop offset="0.429" stop-color="#6AFEFF"/><stop offset="0.500" stop-color="#7EFEFF"/><stop offset="0.571" stop-color="#91FEFF"/><stop offset="0.643" stop-color="#A5FEFF"/><stop offset="0.714" stop-color="#B8FEFF"/><stop offset="0.786" stop-color="#CBFEFF"/><stop offset="0.857" stop-color="#DFFEFF"/><stop offset="0.929" stop-color="#F2FEFF"/><stop offset="1.000" stop-color="#FFFAFB"/></linearGradient>
<linearGradient id="cg5" gradientUnits="userSpaceOnUse" x1="3080.0" x2="3617.5" y1="0" y2="0"><stop offset="0.000" stop-color="#00F9FF"/><stop offset="0.071" stop-color="#09F9FF"/><stop offset="0.143" stop-color="#1CF9FF"/><stop offset="0.214" stop-color="#2FF9FF"/><stop offset="0.286" stop-color="#43F9FF"/><stop offset="0.357" stop-color="#56F9FF"/><stop offset="0.429" stop-color="#69F9FF"/><stop offset="0.500" stop-color="#7DF9FF"/><stop offset="0.571" stop-color="#90F9FF"/><stop offset="0.643" stop-color="#A4F9FF"/><stop offset="0.714" stop-color="#B7F9FF"/><stop offset="0.786" stop-color="#CAF9FF"/><stop offset="0.857" stop-color="#DEF9FF"/><stop offset="0.929" stop-color="#F1F9FF"/><stop offset="1.000" stop-color="#FFF5F9"/></linearGradient>
<linearGradient id="cg6" gradientUnits="userSpaceOnUse" x1="3080.0" x2="3617.5" y1="0" y2="0"><stop offset="0.000" stop-color="#00F4FF"/><stop offset="0.071" stop-color="#08F4FF"/><stop offset="0.143" stop-color="#1BF4FF"/><stop offset="0.214" stop-color="#2EF3FF"/><stop offset="0.286" stop-color="#42F3FF"/><stop offset="0.357" stop-color="#55F3FF"/><stop offset="0.429" stop-color="#69F3FF"/><stop offset="0.500" stop-color="#7CF3FF"/><stop offset="0.571" stop-color="#8FF3FF"/><stop offset="0.643" stop-color="#A3F3FF"/><stop offset="0.714" stop-color="#B6F3FF"/><stop offset="0.786" stop-color="#C9F4FF"/><stop offset="0.857" stop-color="#DCF4FF"/><stop offset="0.929" stop-color="#EFF4FF"/><stop offset="1.000" stop-color="#FFF0F8"/></linearGradient>
<linearGradient id="cg7" gradientUnits="userSpaceOnUse" x1="3080.0" x2="3617.5" y1="0" y2="0"><stop offset="0.000" stop-color="#00EFFF"/><stop offset="0.071" stop-color="#07EEFF"/><stop offset="0.143" stop-color="#1AEEFF"/><stop offset="0.214" stop-color="#2DEEFF"/><stop offset="0.286" stop-color="#41EEFF"/><stop offset="0.357" stop-color="#54EEFF"/><stop offset="0.429" stop-color="#68EEFF"/><stop offset="0.500" stop-color="#7BEEFF"/><stop offset="0.571" stop-color="#8EEEFF"/><stop offset="0.643" stop-color="#A1EEFF"/><stop offset="0.714" stop-color="#B5EEFF"/><stop offset="0.786" stop-color="#C8EFFF"/><stop offset="0.857" stop-color="#DBEFFF"/><stop offset="0.929" stop-color="#EDF0FF"/><stop offset="1.000" stop-color="#FFEAF8"/></linearGradient>
<linearGradient id="cg8" gradientUnits="userSpaceOnUse" x1="3080.0" x2="3617.5" y1="0" y2="0"><stop offset="0.000" stop-color="#00EAFF"/><stop offset="0.071" stop-color="#06E9FF"/><stop offset="0.143" stop-color="#19E9FF"/><stop offset="0.214" stop-color="#2DE9FF"/><stop offset="0.286" stop-color="#40E9FF"/><stop offset="0.357" stop-color="#53E9FF"/><stop offset="0.429" stop-color="#66E9FF"/><stop offset="0.500" stop-color="#7AE9FF"/><stop offset="0.571" stop-color="#8DE9FF"/><stop offset="0.643" stop-color="#A0E9FF"/><stop offset="0.714" stop-color="#B3EAFF"/><stop offset="0.786" stop-color="#C7EAFF"/><stop offset="0.857" stop-color="#D9EBFF"/><stop offset="0.929" stop-color="#EBEBFF"/><stop offset="1.000" stop-color="#FFE5F8"/></linearGradient>
<linearGradient id="cg9" gradientUnits="userSpaceOnUse" x1="3080.0" x2="3617.5" y1="0" y2="0"><stop offset="0.000" stop-color="#00E5FF"/><stop offset="0.071" stop-color="#05E4FF"/><stop offset="0.143" stop-color="#18E4FF"/><stop offset="0.214" stop-color="#2CE4FF"/><stop offset="0.286" stop-color="#3FE4FF"/><stop offset="0.357" stop-color="#52E4FF"/><stop offset="0.429" stop-color="#65E4FF"/><stop offset="0.500" stop-color="#78E4FF"/><stop offset="0.571" stop-color="#8CE4FF"/><stop offset="0.643" stop-color="#9FE5FF"/><stop offset="0.714" stop-color="#B2E5FF"/><stop offset="0.786" stop-color="#C5E5FF"/><stop offset="0.857" stop-color="#D8E6FF"/><stop offset="0.929" stop-color="#ECE8FF"/><stop offset="1.000" stop-color="#FFE0F8"/></linearGradient>
<linearGradient id="cg10" gradientUnits="userSpaceOnUse" x1="3080.0" x2="3617.5" y1="0" y2="0"><stop offset="0.000" stop-color="#00E1FF"/><stop offset="0.071" stop-color="#04DFFF"/><stop offset="0.143" stop-color="#17DFFF"/><stop offset="0.214" stop-color="#2ADFFF"/><stop offset="0.286" stop-color="#3EDFFF"/><stop offset="0.357" stop-color="#51DFFF"/><stop offset="0.429" stop-color="#64DFFF"/><stop offset="0.500" stop-color="#77DFFF"/><stop offset="0.571" stop-color="#8AE0FF"/><stop offset="0.643" stop-color="#9EE0FF"/><stop offset="0.714" stop-color="#B1E0FF"/><stop offset="0.786" stop-color="#C4E1FF"/><stop offset="0.857" stop-color="#D6E2FF"/><stop offset="0.929" stop-color="#ECE4FF"/><stop offset="1.000" stop-color="#FFDAF8"/></linearGradient>
<linearGradient id="cg11" gradientUnits="userSpaceOnUse" x1="3080.0" x2="3617.5" y1="0" y2="0"><stop offset="0.000" stop-color="#00DCFF"/><stop offset="0.071" stop-color="#03DAFF"/><stop offset="0.143" stop-color="#16DAFF"/><stop offset="0.214" stop-color="#29DAFF"/><stop offset="0.286" stop-color="#3CDAFF"/><stop offset="0.357" stop-color="#4FDAFF"/><stop offset="0.429" stop-color="#63DAFF"/><stop offset="0.500" stop-color="#76DAFF"/><stop offset="0.571" stop-color="#89DBFF"/><stop offset="0.643" stop-color="#9CDBFF"/><stop offset="0.714" stop-color="#B0DCFF"/><stop offset="0.786" stop-color="#C2DCFF"/><stop offset="0.857" stop-color="#D4DDFF"/><stop offset="0.929" stop-color="#EBDEFF"/><stop offset="1.000" stop-color="#FFD5F8"/></linearGradient>
<linearGradient id="cg12" gradientUnits="userSpaceOnUse" x1="3080.0" x2="3617.5" y1="0" y2="0"><stop offset="0.000" stop-color="#00D7FF"/><stop offset="0.071" stop-color="#01D5FF"/><stop offset="0.143" stop-color="#15D5FF"/><stop offset="0.214" stop-color="#28D5FF"/><stop offset="0.286" stop-color="#3BD5FF"/><stop offset="0.357" stop-color="#4ED5FF"/><stop offset="0.429" stop-color="#61D5FF"/><stop offset="0.500" stop-color="#75D6FF"/><stop offset="0.571" stop-color="#88D6FF"/><stop offset="0.643" stop-color="#9BD7FF"/><stop offset="0.714" stop-color="#AED7FF"/><stop offset="0.786" stop-color="#C1D8FF"/><stop offset="0.857" stop-color="#D2D8FF"/><stop offset="0.929" stop-color="#EBD9FF"/><stop offset="1.000" stop-color="#FFCFF8"/></linearGradient>
<linearGradient id="cg13" gradientUnits="userSpaceOnUse" x1="3080.0" x2="3617.5" y1="0" y2="0"><stop offset="0.000" stop-color="#00D3FF"/><stop offset="0.071" stop-color="#00D0FF"/><stop offset="0.143" stop-color="#13D0FF"/><stop offset="0.214" stop-color="#27D0FF"/><stop offset="0.286" stop-color="#3AD0FF"/><stop offset="0.357" stop-color="#4DD0FF"/><stop offset="0.429" stop-color="#60D1FF"/><stop offset="0.500" stop-color="#73D1FF"/><stop offset="0.571" stop-color="#87D1FF"/><stop offset="0.643" stop-color="#9AD2FF"/><stop offset="0.714" stop-color="#ACD3FF"/><stop offset="0.786" stop-color="#BFD3FF"/><stop offset="0.857" stop-color="#D0D2FF"/><stop offset="0.929" stop-color="#EAD4FF"/><stop offset="1.000" stop-color="#FFCAF9"/></linearGradient>
<linearGradient id="cg14" gradientUnits="userSpaceOnUse" x1="3080.0" x2="3617.5" y1="0" y2="0"><stop offset="0.000" stop-color="#00CEFF"/><stop offset="0.071" stop-color="#00CBFF"/><stop offset="0.143" stop-color="#12CBFF"/><stop offset="0.214" stop-color="#25CBFF"/><stop offset="0.286" stop-color="#39CBFF"/><stop offset="0.357" stop-color="#4CCCFF"/><stop offset="0.429" stop-color="#5FCCFF"/><stop offset="0.500" stop-color="#72CCFF"/><stop offset="0.571" stop-color="#85CDFF"/><stop offset="0.643" stop-color="#98CEFF"/><stop offset="0.714" stop-color="#ABCEFF"/><stop offset="0.786" stop-color="#BDCFFF"/><stop offset="0.857" stop-color="#CDCDFF"/><stop offset="0.929" stop-color="#EACEFF"/><stop offset="1.000" stop-color="#FFC5F9"/></linearGradient>
<linearGradient id="cg15" gradientUnits="userSpaceOnUse" x1="3080.0" x2="3617.5" y1="0" y2="0"><stop offset="0.000" stop-color="#00CAFF"/><stop offset="0.071" stop-color="#00C6FF"/><stop offset="0.143" stop-color="#11C6FF"/><stop offset="0.214" stop-color="#24C6FF"/><stop offset="0.286" stop-color="#37C6FF"/><stop offset="0.357" stop-color="#4AC7FF"/><stop offset="0.429" stop-color="#5EC7FF"/><stop offset="0.500" stop-color="#71C8FF"/><stop offset="0.571" stop-color="#84C8FF"/><stop offset="0.643" stop-color="#97C9FF"/><stop offset="0.714" stop-color="#A9CAFF"/><stop offset="0.786" stop-color="#BBCAFF"/><stop offset="0.857" stop-color="#CDCBFF"/><stop offset="0.929" stop-color="#E9C9FF"/><stop offset="1.000" stop-color="#FFBFF9"/></linearGradient>
<linearGradient id="cg16" gradientUnits="userSpaceOnUse" x1="3080.0" x2="3617.5" y1="0" y2="0"><stop offset="0.000" stop-color="#00C6FF"/><stop offset="0.071" stop-color="#00C2FF"/><stop offset="0.143" stop-color="#10C1FF"/><stop offset="0.214" stop-color="#23C1FF"/><stop offset="0.286" stop-color="#36C2FF"/><stop offset="0.357" stop-color="#49C2FF"/><stop offset="0.429" stop-color="#5CC3FF"/><stop offset="0.500" stop-color="#70C3FF"/><stop offset="0.571" stop-color="#83C4FF"/><stop offset="0.643" stop-color="#95C5FF"/><stop offset="0.714" stop-color="#A8C5FF"/><stop offset="0.786" stop-color="#B9C5FF"/><stop offset="0.857" stop-color="#CEC8FF"/><stop offset="0.929" stop-color="#E9C3FF"/><stop offset="1.000" stop-color="#FFBAFA"/></linearGradient>
<linearGradient id="cg17" gradientUnits="userSpaceOnUse" x1="3080.0" x2="3617.5" y1="0" y2="0"><stop offset="0.000" stop-color="#00C2FF"/><stop offset="0.071" stop-color="#00BDFF"/><stop offset="0.143" stop-color="#0EBCFF"/><stop offset="0.214" stop-color="#22BDFF"/><stop offset="0.286" stop-color="#35BDFF"/><stop offset="0.357" stop-color="#48BEFF"/><stop offset="0.429" stop-color="#5BBEFF"/><stop offset="0.500" stop-color="#6EBFFF"/><stop offset="0.571" stop-color="#81BFFF"/><stop offset="0.643" stop-color="#93C0FF"/><stop offset="0.714" stop-color="#A6C1FF"/><stop offset="0.786" stop-color="#B7C0FF"/><stop offset="0.857" stop-color="#CFC5FF"/><stop offset="0.929" stop-color="#E8BEFF"/><stop offset="1.000" stop-color="#FFB5FA"/></linearGradient>
<linearGradient id="cg18" gradientUnits="userSpaceOnUse" x1="3080.0" x2="3617.5" y1="0" y2="0"><stop offset="0.000" stop-color="#00BEFF"/><stop offset="0.071" stop-color="#00B9FF"/><stop offset="0.143" stop-color="#0DB8FF"/><stop offset="0.214" stop-color="#20B8FF"/><stop offset="0.286" stop-color="#34B8FF"/><stop offset="0.357" stop-color="#47B9FF"/><stop offset="0.429" stop-color="#5ABAFF"/><stop offset="0.500" stop-color="#6DBAFF"/><stop offset="0.571" stop-color="#7FBBFF"/><stop offset="0.643" stop-color="#92BCFF"/><stop offset="0.714" stop-color="#A4BCFF"/><stop offset="0.786" stop-color="#B5BBFF"/><stop offset="0.857" stop-color="#D0C1FF"/><stop offset="0.929" stop-color="#E8B9FF"/><stop offset="1.000" stop-color="#FFAFFA"/></linearGradient>
<linearGradient id="cg19" gradientUnits="userSpaceOnUse" x1="3080.0" x2="3617.5" y1="0" y2="0"><stop offset="0.000" stop-color="#00B9FF"/><stop offset="0.071" stop-color="#00B5FF"/><stop offset="0.143" stop-color="#0CB3FF"/><stop offset="0.214" stop-color="#1FB3FF"/><stop offset="0.286" stop-color="#32B4FF"/><stop offset="0.357" stop-color="#45B4FF"/><stop offset="0.429" stop-color="#59B5FF"/><stop offset="0.500" stop-color="#6BB6FF"/><stop offset="0.571" stop-color="#7EB6FF"/><stop offset="0.643" stop-color="#90B7FF"/><stop offset="0.714" stop-color="#A2B7FF"/><stop offset="0.786" stop-color="#B3B4FF"/><stop offset="0.857" stop-color="#CFBDFF"/><stop offset="0.929" stop-color="#E7B3FF"/><stop offset="1.000" stop-color="#FFAAFB"/></linearGradient>
<linearGradient id="cg20" gradientUnits="userSpaceOnUse" x1="3080.0" x2="3617.5" y1="0" y2="0"><stop offset="0.000" stop-color="#00B6FF"/><stop offset="0.071" stop-color="#00B0FF"/><stop offset="0.143" stop-color="#0BAEFF"/><stop offset="0.214" stop-color="#1EAFFF"/><stop offset="0.286" stop-color="#31AFFF"/><stop offset="0.357" stop-color="#44B0FF"/><stop offset="0.429" stop-color="#57B0FF"/><stop offset="0.500" stop-color="#6AB1FF"/><stop offset="0.571" stop-color="#7CB2FF"/><stop offset="0.643" stop-color="#8EB2FF"/><stop offset="0.714" stop-color="#A0B3FF"/><stop offset="0.786" stop-color="#B0B0FF"/><stop offset="0.857" stop-color="#CFB7FF"/><stop offset="0.929" stop-color="#E7AEFF"/><stop offset="1.000" stop-color="#FFA5FB"/></linearGradient>
<linearGradient id="cg21" gradientUnits="userSpaceOnUse" x1="3080.0" x2="3617.5" y1="0" y2="0"><stop offset="0.000" stop-color="#00B2FF"/><stop offset="0.071" stop-color="#00ACFF"/><stop offset="0.143" stop-color="#09AAFF"/><stop offset="0.214" stop-color="#1DAAFF"/><stop offset="0.286" stop-color="#30ABFF"/><stop offset="0.357" stop-color="#43ABFF"/><stop offset="0.429" stop-color="#56ACFF"/><stop offset="0.500" stop-color="#68ADFF"/><stop offset="0.571" stop-color="#7AADFF"/><stop offset="0.643" stop-color="#8DAEFF"/><stop offset="0.714" stop-color="#9EAEFF"/><stop offset="0.786" stop-color="#ADADFF"/><stop offset="0.857" stop-color="#CEB2FF"/><stop offset="0.929" stop-color="#E7A9FF"/><stop offset="1.000" stop-color="#FF9FFB"/></linearGradient>
<linearGradient id="cg22" gradientUnits="userSpaceOnUse" x1="3080.0" x2="3617.5" y1="0" y2="0"><stop offset="0.000" stop-color="#00AEFF"/><stop offset="0.071" stop-color="#00A8FF"/><stop offset="0.143" stop-color="#08A5FF"/><stop offset="0.214" stop-color="#1BA5FF"/><stop offset="0.286" stop-color="#2FA6FF"/><stop offset="0.357" stop-color="#41A7FF"/><stop offset="0.429" stop-color="#54A7FF"/><stop offset="0.500" stop-color="#66A8FF"/><stop offset="0.571" stop-color="#79A9FF"/><stop offset="0.643" stop-color="#8BA9FF"/><stop offset="0.714" stop-color="#9CA8FF"/><stop offset="0.786" stop-color="#AFABFF"/><stop offset="0.857" stop-color="#CEADFF"/><stop offset="0.929" stop-color="#E6A3FF"/><stop offset="1.000" stop-color="#FF9AFC"/></linearGradient>
<linearGradient id="cg23" gradientUnits="userSpaceOnUse" x1="3080.0" x2="3617.5" y1="0" y2="0"><stop offset="0.000" stop-color="#00AAFF"/><stop offset="0.071" stop-color="#00A4FF"/><stop offset="0.143" stop-color="#07A0FF"/><stop offset="0.214" stop-color="#1AA1FF"/><stop offset="0.286" stop-color="#2DA2FF"/><stop offset="0.357" stop-color="#40A2FF"/><stop offset="0.429" stop-color="#52A3FF"/><stop offset="0.500" stop-color="#65A4FF"/><stop offset="0.571" stop-color="#77A4FF"/><stop offset="0.643" stop-color="#89A5FF"/><stop offset="0.714" stop-color="#9AA3FF"/><stop offset="0.786" stop-color="#B1A8FF"/><stop offset="0.857" stop-color="#CDA7FF"/><stop offset="0.929" stop-color="#E69EFF"/><stop offset="1.000" stop-color="#FF94FC"/></linearGradient>
<linearGradient id="cg24" gradientUnits="userSpaceOnUse" x1="3080.0" x2="3617.5" y1="0" y2="0"><stop offset="0.000" stop-color="#00A6FF"/><stop offset="0.071" stop-color="#00A0FF"/><stop offset="0.143" stop-color="#069CFF"/><stop offset="0.214" stop-color="#199CFF"/><stop offset="0.286" stop-color="#2C9DFF"/><stop offset="0.357" stop-color="#3E9EFF"/><stop offset="0.429" stop-color="#519EFF"/><stop offset="0.500" stop-color="#639FFF"/><stop offset="0.571" stop-color="#75A0FF"/><stop offset="0.643" stop-color="#87A0FF"/><stop offset="0.714" stop-color="#989DFF"/><stop offset="0.786" stop-color="#B2A4FF"/><stop offset="0.857" stop-color="#CDA2FF"/><stop offset="0.929" stop-color="#E599FF"/><stop offset="1.000" stop-color="#FF8FFC"/></linearGradient>
<linearGradient id="cg25" gradientUnits="userSpaceOnUse" x1="3080.0" x2="3617.5" y1="0" y2="0"><stop offset="0.000" stop-color="#00A2FF"/><stop offset="0.071" stop-color="#009CFF"/><stop offset="0.143" stop-color="#0497FF"/><stop offset="0.214" stop-color="#1898FF"/><stop offset="0.286" stop-color="#2A99FF"/><stop offset="0.357" stop-color="#3D99FF"/><stop offset="0.429" stop-color="#4F9AFF"/><stop offset="0.500" stop-color="#629BFF"/><stop offset="0.571" stop-color="#749BFF"/><stop offset="0.643" stop-color="#859BFF"/><stop offset="0.714" stop-color="#9596FF"/><stop offset="0.786" stop-color="#B2A1FF"/><stop offset="0.857" stop-color="#CC9DFF"/><stop offset="0.929" stop-color="#E593FF"/><stop offset="1.000" stop-color="#FF8AFD"/></linearGradient>
<linearGradient id="cg26" gradientUnits="userSpaceOnUse" x1="3080.0" x2="3617.5" y1="0" y2="0"><stop offset="0.000" stop-color="#009FFF"/><stop offset="0.071" stop-color="#0099FF"/><stop offset="0.143" stop-color="#0393FF"/><stop offset="0.214" stop-color="#1693FF"/><stop offset="0.286" stop-color="#2894FF"/><stop offset="0.357" stop-color="#3B95FF"/><stop offset="0.429" stop-color="#4D95FF"/><stop offset="0.500" stop-color="#6096FF"/><stop offset="0.571" stop-color="#7296FF"/><stop offset="0.643" stop-color="#8396FF"/><stop offset="0.714" stop-color="#9393FF"/><stop offset="0.786" stop-color="#B39EFF"/><stop offset="0.857" stop-color="#CB97FF"/><stop offset="0.929" stop-color="#E48EFF"/><stop offset="1.000" stop-color="#FF84FD"/></linearGradient>
<linearGradient id="cg27" gradientUnits="userSpaceOnUse" x1="3080.0" x2="3617.5" y1="0" y2="0"><stop offset="0.000" stop-color="#009BFF"/><stop offset="0.071" stop-color="#0095FF"/><stop offset="0.143" stop-color="#028EFF"/><stop offset="0.214" stop-color="#148FFF"/><stop offset="0.286" stop-color="#278FFF"/><stop offset="0.357" stop-color="#3990FF"/><stop offset="0.429" stop-color="#4C91FF"/><stop offset="0.500" stop-color="#5E92FF"/><stop offset="0.571" stop-color="#7092FF"/><stop offset="0.643" stop-color="#8191FF"/><stop offset="0.714" stop-color="#9090FF"/><stop offset="0.786" stop-color="#B39BFF"/><stop offset="0.857" stop-color="#CB92FF"/><stop offset="0.929" stop-color="#E488FF"/><stop offset="1.000" stop-color="#FF7FFD"/></linearGradient>
<linearGradient id="cg28" gradientUnits="userSpaceOnUse" x1="3080.0" x2="3617.5" y1="0" y2="0"><stop offset="0.000" stop-color="#0098FF"/><stop offset="0.071" stop-color="#0091FF"/><stop offset="0.143" stop-color="#008AFF"/><stop offset="0.214" stop-color="#138AFF"/><stop offset="0.286" stop-color="#258BFF"/><stop offset="0.357" stop-color="#388CFF"/><stop offset="0.429" stop-color="#4A8CFF"/><stop offset="0.500" stop-color="#5C8DFF"/><stop offset="0.571" stop-color="#6E8DFF"/><stop offset="0.643" stop-color="#7F8BFF"/><stop offset="0.714" stop-color="#8E8DFF"/><stop offset="0.786" stop-color="#B396FF"/><stop offset="0.857" stop-color="#CA8DFF"/><stop offset="0.929" stop-color="#E483FF"/><stop offset="1.000" stop-color="#FF7AFE"/></linearGradient>
<linearGradient id="cg29" gradientUnits="userSpaceOnUse" x1="3080.0" x2="3617.5" y1="0" y2="0"><stop offset="0.000" stop-color="#0094FF"/><stop offset="0.071" stop-color="#008DFF"/><stop offset="0.143" stop-color="#0086FF"/><stop offset="0.214" stop-color="#1186FF"/><stop offset="0.286" stop-color="#2486FF"/><stop offset="0.357" stop-color="#3687FF"/><stop offset="0.429" stop-color="#4988FF"/><stop offset="0.500" stop-color="#5A88FF"/><stop offset="0.571" stop-color="#6C88FF"/><stop offset="0.643" stop-color="#7D86FF"/><stop offset="0.714" stop-color="#918AFF"/><stop offset="0.786" stop-color="#B291FF"/><stop offset="0.857" stop-color="#CA87FF"/><stop offset="0.929" stop-color="#E37EFF"/><stop offset="1.000" stop-color="#FF74FE"/></linearGradient>
<linearGradient id="cg30" gradientUnits="userSpaceOnUse" x1="3080.0" x2="3617.5" y1="0" y2="0"><stop offset="0.000" stop-color="#0091FF"/><stop offset="0.071" stop-color="#008AFF"/><stop offset="0.143" stop-color="#0082FF"/><stop offset="0.214" stop-color="#0F81FF"/><stop offset="0.286" stop-color="#2282FF"/><stop offset="0.357" stop-color="#3483FF"/><stop offset="0.429" stop-color="#4783FF"/><stop offset="0.500" stop-color="#5984FF"/><stop offset="0.571" stop-color="#6A83FF"/><stop offset="0.643" stop-color="#7A7FFF"/><stop offset="0.714" stop-color="#9387FF"/><stop offset="0.786" stop-color="#B28BFF"/><stop offset="0.857" stop-color="#C982FF"/><stop offset="0.929" stop-color="#E378FF"/><stop offset="1.000" stop-color="#FF6FFE"/></linearGradient>
<linearGradient id="cg31" gradientUnits="userSpaceOnUse" x1="3080.0" x2="3617.5" y1="0" y2="0"><stop offset="0.000" stop-color="#008DFF"/><stop offset="0.071" stop-color="#0086FF"/><stop offset="0.143" stop-color="#007EFF"/><stop offset="0.214" stop-color="#0E7DFF"/><stop offset="0.286" stop-color="#207DFF"/><stop offset="0.357" stop-color="#337EFF"/><stop offset="0.429" stop-color="#457FFF"/><stop offset="0.500" stop-color="#577FFF"/><stop offset="0.571" stop-color="#687EFF"/><stop offset="0.643" stop-color="#7878FF"/><stop offset="0.714" stop-color="#9484FF"/><stop offset="0.786" stop-color="#B186FF"/><stop offset="0.857" stop-color="#C97CFF"/><stop offset="0.929" stop-color="#E373FF"/><stop offset="1.000" stop-color="#FF69FF"/></linearGradient>
<linearGradient id="cg32" gradientUnits="userSpaceOnUse" x1="3080.0" x2="3617.5" y1="0" y2="0"><stop offset="0.000" stop-color="#008AFF"/><stop offset="0.071" stop-color="#0083FF"/><stop offset="0.143" stop-color="#007BFF"/><stop offset="0.214" stop-color="#0C78FF"/><stop offset="0.286" stop-color="#1F79FF"/><stop offset="0.357" stop-color="#317AFF"/><stop offset="0.429" stop-color="#437AFF"/><stop offset="0.500" stop-color="#557AFF"/><stop offset="0.571" stop-color="#6679FF"/><stop offset="0.643" stop-color="#7575FF"/><stop offset="0.714" stop-color="#9581FF"/><stop offset="0.786" stop-color="#B181FF"/><stop offset="0.857" stop-color="#C877FF"/><stop offset="0.929" stop-color="#E26EFF"/><stop offset="1.000" stop-color="#FF64FF"/></linearGradient>
<linearGradient id="cg33" gradientUnits="userSpaceOnUse" x1="3080.0" x2="3617.5" y1="0" y2="0"><stop offset="0.000" stop-color="#0087FF"/><stop offset="0.071" stop-color="#0080FF"/><stop offset="0.143" stop-color="#0077FF"/><stop offset="0.214" stop-color="#0B74FF"/><stop offset="0.286" stop-color="#1D74FF"/><stop offset="0.357" stop-color="#3075FF"/><stop offset="0.429" stop-color="#4175FF"/><stop offset="0.500" stop-color="#5375FF"/><stop offset="0.571" stop-color="#6474FF"/><stop offset="0.643" stop-color="#7373FF"/><stop offset="0.714" stop-color="#967EFF"/><stop offset="0.786" stop-color="#B07BFF"/><stop offset="0.857" stop-color="#C872FF"/><stop offset="0.929" stop-color="#E268FF"/><stop offset="1.000" stop-color="#FE5FFF"/></linearGradient>
<linearGradient id="cg34" gradientUnits="userSpaceOnUse" x1="3080.0" x2="3617.5" y1="0" y2="0"><stop offset="0.000" stop-color="#0084FF"/><stop offset="0.071" stop-color="#007CFF"/><stop offset="0.143" stop-color="#0074FF"/><stop offset="0.214" stop-color="#096FFF"/><stop offset="0.286" stop-color="#1C70FF"/><stop offset="0.357" stop-color="#2E71FF"/><stop offset="0.429" stop-color="#3F71FF"/><stop offset="0.500" stop-color="#5171FF"/><stop offset="0.571" stop-color="#616EFF"/><stop offset="0.643" stop-color="#7070FF"/><stop offset="0.714" stop-color="#967BFF"/><stop offset="0.786" stop-color="#AF76FF"/><stop offset="0.857" stop-color="#C76CFF"/><stop offset="0.929" stop-color="#E163FF"/><stop offset="1.000" stop-color="#FE59FF"/></linearGradient>
<linearGradient id="cg35" gradientUnits="userSpaceOnUse" x1="3080.0" x2="3617.5" y1="0" y2="0"><stop offset="0.000" stop-color="#0080FF"/><stop offset="0.071" stop-color="#0079FF"/><stop offset="0.143" stop-color="#0070FF"/><stop offset="0.214" stop-color="#076BFF"/><stop offset="0.286" stop-color="#1A6BFF"/><stop offset="0.357" stop-color="#2C6CFF"/><stop offset="0.429" stop-color="#3E6CFF"/><stop offset="0.500" stop-color="#4F6CFF"/><stop offset="0.571" stop-color="#5F68FF"/><stop offset="0.643" stop-color="#716DFF"/><stop offset="0.714" stop-color="#9778FF"/><stop offset="0.786" stop-color="#AF70FF"/><stop offset="0.857" stop-color="#C767FF"/><stop offset="0.929" stop-color="#E15DFF"/><stop offset="1.000" stop-color="#FE54FF"/></linearGradient>
<linearGradient id="cg36" gradientUnits="userSpaceOnUse" x1="3080.0" x2="3617.5" y1="0" y2="0"><stop offset="0.000" stop-color="#007DFF"/><stop offset="0.071" stop-color="#0076FF"/><stop offset="0.143" stop-color="#006DFF"/><stop offset="0.214" stop-color="#0666FF"/><stop offset="0.286" stop-color="#1867FF"/><stop offset="0.357" stop-color="#2A67FF"/><stop offset="0.429" stop-color="#3C67FF"/><stop offset="0.500" stop-color="#4D66FF"/><stop offset="0.571" stop-color="#5D62FF"/><stop offset="0.643" stop-color="#736AFF"/><stop offset="0.714" stop-color="#9774FF"/><stop offset="0.786" stop-color="#AE6BFF"/><stop offset="0.857" stop-color="#C662FF"/><stop offset="0.929" stop-color="#E158FF"/><stop offset="1.000" stop-color="#FD4FFF"/></linearGradient>
<linearGradient id="cg37" gradientUnits="userSpaceOnUse" x1="3080.0" x2="3617.5" y1="0" y2="0"><stop offset="0.000" stop-color="#007AFF"/><stop offset="0.071" stop-color="#0072FF"/><stop offset="0.143" stop-color="#0069FF"/><stop offset="0.214" stop-color="#0462FF"/><stop offset="0.286" stop-color="#1762FF"/><stop offset="0.357" stop-color="#2863FF"/><stop offset="0.429" stop-color="#3A63FF"/><stop offset="0.500" stop-color="#4B61FF"/><stop offset="0.571" stop-color="#5A5AFF"/><stop offset="0.643" stop-color="#7567FF"/><stop offset="0.714" stop-color="#966FFF"/><stop offset="0.786" stop-color="#AE66FF"/><stop offset="0.857" stop-color="#C65CFF"/><stop offset="0.929" stop-color="#E053FF"/><stop offset="1.000" stop-color="#FD49FF"/></linearGradient>
<linearGradient id="cg38" gradientUnits="userSpaceOnUse" x1="3080.0" x2="3617.5" y1="0" y2="0"><stop offset="0.000" stop-color="#0077FF"/><stop offset="0.071" stop-color="#006FFF"/><stop offset="0.143" stop-color="#0066FF"/><stop offset="0.214" stop-color="#035DFF"/><stop offset="0.286" stop-color="#155EFF"/><stop offset="0.357" stop-color="#265EFF"/><stop offset="0.429" stop-color="#385EFF"/><stop offset="0.500" stop-color="#495CFF"/><stop offset="0.571" stop-color="#5858FF"/><stop offset="0.643" stop-color="#7664FF"/><stop offset="0.714" stop-color="#966AFF"/><stop offset="0.786" stop-color="#AD60FF"/><stop offset="0.857" stop-color="#C557FF"/><stop offset="0.929" stop-color="#E04DFF"/><stop offset="1.000" stop-color="#FD44FF"/></linearGradient>
<linearGradient id="cg39" gradientUnits="userSpaceOnUse" x1="3080.0" x2="3617.5" y1="0" y2="0"><stop offset="0.000" stop-color="#0074FF"/><stop offset="0.071" stop-color="#006CFF"/><stop offset="0.143" stop-color="#0063FF"/><stop offset="0.214" stop-color="#0159FF"/><stop offset="0.286" stop-color="#1359FF"/><stop offset="0.357" stop-color="#2459FF"/><stop offset="0.429" stop-color="#3659FF"/><stop offset="0.500" stop-color="#4656FF"/><stop offset="0.571" stop-color="#5555FF"/><stop offset="0.643" stop-color="#7761FF"/><stop offset="0.714" stop-color="#9564FF"/><stop offset="0.786" stop-color="#AD5BFF"/><stop offset="0.857" stop-color="#C551FF"/><stop offset="0.929" stop-color="#DF48FF"/><stop offset="1.000" stop-color="#FC3FFF"/></linearGradient>
<linearGradient id="cg40" gradientUnits="userSpaceOnUse" x1="3080.0" x2="3617.5" y1="0" y2="0"><stop offset="0.000" stop-color="#0071FF"/><stop offset="0.071" stop-color="#0069FF"/><stop offset="0.143" stop-color="#0060FF"/><stop offset="0.214" stop-color="#0055FF"/><stop offset="0.286" stop-color="#1155FF"/><stop offset="0.357" stop-color="#2355FF"/><stop offset="0.429" stop-color="#3454FF"/><stop offset="0.500" stop-color="#4451FF"/><stop offset="0.571" stop-color="#5353FF"/><stop offset="0.643" stop-color="#785EFF"/><stop offset="0.714" stop-color="#955FFF"/><stop offset="0.786" stop-color="#AC56FF"/><stop offset="0.857" stop-color="#C54CFF"/><stop offset="0.929" stop-color="#DF43FF"/><stop offset="1.000" stop-color="#FC39FF"/></linearGradient>
<linearGradient id="cg41" gradientUnits="userSpaceOnUse" x1="3080.0" x2="3617.5" y1="0" y2="0"><stop offset="0.000" stop-color="#006EFF"/><stop offset="0.071" stop-color="#0066FF"/><stop offset="0.143" stop-color="#005CFF"/><stop offset="0.214" stop-color="#0051FF"/><stop offset="0.286" stop-color="#0F50FF"/><stop offset="0.357" stop-color="#2150FF"/><stop offset="0.429" stop-color="#324FFF"/><stop offset="0.500" stop-color="#424BFF"/><stop offset="0.571" stop-color="#5050FF"/><stop offset="0.643" stop-color="#795BFF"/><stop offset="0.714" stop-color="#945AFF"/><stop offset="0.786" stop-color="#AB50FF"/><stop offset="0.857" stop-color="#C447FF"/><stop offset="0.929" stop-color="#DF3DFF"/><stop offset="1.000" stop-color="#FB34FF"/></linearGradient>
<linearGradient id="cg42" gradientUnits="userSpaceOnUse" x1="3080.0" x2="3617.5" y1="0" y2="0"><stop offset="0.000" stop-color="#006BFF"/><stop offset="0.071" stop-color="#0063FF"/><stop offset="0.143" stop-color="#0059FF"/><stop offset="0.214" stop-color="#004EFF"/><stop offset="0.286" stop-color="#0D4BFF"/><stop offset="0.357" stop-color="#1F4BFF"/><stop offset="0.429" stop-color="#3049FF"/><stop offset="0.500" stop-color="#3F44FF"/><stop offset="0.571" stop-color="#534DFF"/><stop offset="0.643" stop-color="#7958FF"/><stop offset="0.714" stop-color="#9354FF"/><stop offset="0.786" stop-color="#AB4BFF"/><stop offset="0.857" stop-color="#C441FF"/><stop offset="0.929" stop-color="#DE38FF"/><stop offset="1.000" stop-color="#FB2EFF"/></linearGradient>
<linearGradient id="cg43" gradientUnits="userSpaceOnUse" x1="3080.0" x2="3617.5" y1="0" y2="0"><stop offset="0.000" stop-color="#0069FF"/><stop offset="0.071" stop-color="#0060FF"/><stop offset="0.143" stop-color="#0056FF"/><stop offset="0.214" stop-color="#004BFF"/><stop offset="0.286" stop-color="#0B47FF"/><stop offset="0.357" stop-color="#1D46FF"/><stop offset="0.429" stop-color="#2D44FF"/><stop offset="0.500" stop-color="#3D3DFF"/><stop offset="0.571" stop-color="#564AFF"/><stop offset="0.643" stop-color="#7A55FF"/><stop offset="0.714" stop-color="#934FFF"/><stop offset="0.786" stop-color="#AA46FF"/><stop offset="0.857" stop-color="#C33CFF"/><stop offset="0.929" stop-color="#DE33FF"/><stop offset="1.000" stop-color="#FB29FF"/></linearGradient>
<linearGradient id="cg44" gradientUnits="userSpaceOnUse" x1="3080.0" x2="3617.5" y1="0" y2="0"><stop offset="0.000" stop-color="#0066FF"/><stop offset="0.071" stop-color="#005DFF"/><stop offset="0.143" stop-color="#0053FF"/><stop offset="0.214" stop-color="#0048FF"/><stop offset="0.286" stop-color="#0A42FF"/><stop offset="0.357" stop-color="#1B41FF"/><stop offset="0.429" stop-color="#2B3FFF"/><stop offset="0.500" stop-color="#3A3AFF"/><stop offset="0.571" stop-color="#5747FF"/><stop offset="0.643" stop-color="#7A51FF"/><stop offset="0.714" stop-color="#924AFF"/><stop offset="0.786" stop-color="#AA40FF"/><stop offset="0.857" stop-color="#C337FF"/><stop offset="0.929" stop-color="#DE2DFF"/><stop offset="1.000" stop-color="#FA24FF"/></linearGradient>
<linearGradient id="cg45" gradientUnits="userSpaceOnUse" x1="3080.0" x2="3617.5" y1="0" y2="0"><stop offset="0.000" stop-color="#0063FF"/><stop offset="0.071" stop-color="#005AFF"/><stop offset="0.143" stop-color="#0050FF"/><stop offset="0.214" stop-color="#0044FF"/><stop offset="0.286" stop-color="#083DFF"/><stop offset="0.357" stop-color="#193CFF"/><stop offset="0.429" stop-color="#2939FF"/><stop offset="0.500" stop-color="#3838FF"/><stop offset="0.571" stop-color="#5944FF"/><stop offset="0.643" stop-color="#7A4EFF"/><stop offset="0.714" stop-color="#9244FF"/><stop offset="0.786" stop-color="#A93BFF"/><stop offset="0.857" stop-color="#C231FF"/><stop offset="0.929" stop-color="#DD28FF"/><stop offset="1.000" stop-color="#FA1EFF"/></linearGradient>
<linearGradient id="cg46" gradientUnits="userSpaceOnUse" x1="3080.0" x2="3617.5" y1="0" y2="0"><stop offset="0.000" stop-color="#0060FF"/><stop offset="0.071" stop-color="#0057FF"/><stop offset="0.143" stop-color="#004DFF"/><stop offset="0.214" stop-color="#0041FF"/><stop offset="0.286" stop-color="#0638FF"/><stop offset="0.357" stop-color="#1737FF"/><stop offset="0.429" stop-color="#2733FF"/><stop offset="0.500" stop-color="#3535FF"/><stop offset="0.571" stop-color="#5A41FF"/><stop offset="0.643" stop-color="#7A48FF"/><stop offset="0.714" stop-color="#913FFF"/><stop offset="0.786" stop-color="#A935FF"/><stop offset="0.857" stop-color="#C22CFF"/><stop offset="0.929" stop-color="#DD22FF"/><stop offset="1.000" stop-color="#FA19FF"/></linearGradient>
<linearGradient id="cg47" gradientUnits="userSpaceOnUse" x1="3080.0" x2="3617.5" y1="0" y2="0"><stop offset="0.000" stop-color="#005DFF"/><stop offset="0.071" stop-color="#0054FF"/><stop offset="0.143" stop-color="#004AFF"/><stop offset="0.214" stop-color="#003EFF"/><stop offset="0.286" stop-color="#0433FF"/><stop offset="0.357" stop-color="#1432FF"/><stop offset="0.429" stop-color="#242DFF"/><stop offset="0.500" stop-color="#3232FF"/><stop offset="0.571" stop-color="#5B3EFF"/><stop offset="0.643" stop-color="#7943FF"/><stop offset="0.714" stop-color="#903AFF"/><stop offset="0.786" stop-color="#A830FF"/><stop offset="0.857" stop-color="#C127FF"/><stop offset="0.929" stop-color="#DC1DFF"/><stop offset="1.000" stop-color="#F914FF"/></linearGradient>
<linearGradient id="cg48" gradientUnits="userSpaceOnUse" x1="3080.0" x2="3617.5" y1="0" y2="0"><stop offset="0.000" stop-color="#005BFF"/><stop offset="0.071" stop-color="#0051FF"/><stop offset="0.143" stop-color="#0047FF"/><stop offset="0.214" stop-color="#003BFF"/><stop offset="0.286" stop-color="#022FFF"/><stop offset="0.357" stop-color="#122CFF"/><stop offset="0.429" stop-color="#2226FF"/><stop offset="0.500" stop-color="#3230FF"/><stop offset="0.571" stop-color="#5B3BFF"/><stop offset="0.643" stop-color="#793EFF"/><stop offset="0.714" stop-color="#9034FF"/><stop offset="0.786" stop-color="#A82BFF"/><stop offset="0.857" stop-color="#C121FF"/><stop offset="0.929" stop-color="#DC18FF"/><stop offset="1.000" stop-color="#F90EFF"/></linearGradient>
<linearGradient id="cg49" gradientUnits="userSpaceOnUse" x1="3080.0" x2="3617.5" y1="0" y2="0"><stop offset="0.000" stop-color="#0058FF"/><stop offset="0.071" stop-color="#004FFF"/><stop offset="0.143" stop-color="#0044FF"/><stop offset="0.214" stop-color="#0038FF"/><stop offset="0.286" stop-color="#002AFF"/><stop offset="0.357" stop-color="#1027FF"/><stop offset="0.429" stop-color="#2020FF"/><stop offset="0.500" stop-color="#362DFF"/><stop offset="0.571" stop-color="#5C38FF"/><stop offset="0.643" stop-color="#7838FF"/><stop offset="0.714" stop-color="#8F2FFF"/><stop offset="0.786" stop-color="#A725FF"/><stop offset="0.857" stop-color="#C11CFF"/><stop offset="0.929" stop-color="#DC12FF"/><stop offset="1.000" stop-color="#F809FF"/></linearGradient>
<linearGradient id="cg50" gradientUnits="userSpaceOnUse" x1="3080.0" x2="3617.5" y1="0" y2="0"><stop offset="0.000" stop-color="#0055FF"/><stop offset="0.071" stop-color="#004CFF"/><stop offset="0.143" stop-color="#0041FF"/><stop offset="0.214" stop-color="#0035FF"/><stop offset="0.286" stop-color="#0026FF"/><stop offset="0.357" stop-color="#0E21FF"/><stop offset="0.429" stop-color="#1D1DFF"/><stop offset="0.500" stop-color="#382AFF"/><stop offset="0.571" stop-color="#5D34FF"/><stop offset="0.643" stop-color="#7833FF"/><stop offset="0.714" stop-color="#8F29FF"/><stop offset="0.786" stop-color="#A720FF"/><stop offset="0.857" stop-color="#C016FF"/><stop offset="0.929" stop-color="#DB0DFF"/><stop offset="1.000" stop-color="#F804FF"/></linearGradient>
<linearGradient id="cg51" gradientUnits="userSpaceOnUse" x1="3080.0" x2="3617.5" y1="0" y2="0"><stop offset="0.000" stop-color="#0053FF"/><stop offset="0.071" stop-color="#0049FF"/><stop offset="0.143" stop-color="#003EFF"/><stop offset="0.214" stop-color="#0032FF"/><stop offset="0.286" stop-color="#0023FF"/><stop offset="0.357" stop-color="#0C1CFF"/><stop offset="0.429" stop-color="#1B1BFF"/><stop offset="0.500" stop-color="#3A27FF"/><stop offset="0.571" stop-color="#5D31FF"/><stop offset="0.643" stop-color="#772EFF"/><stop offset="0.714" stop-color="#8E24FF"/><stop offset="0.786" stop-color="#A61BFF"/><stop offset="0.857" stop-color="#C011FF"/><stop offset="0.929" stop-color="#DB08FF"/><stop offset="1.000" stop-color="#F800FF"/></linearGradient>
<linearGradient id="cg52" gradientUnits="userSpaceOnUse" x1="3080.0" x2="3617.5" y1="0" y2="0"><stop offset="0.000" stop-color="#0050FF"/><stop offset="0.071" stop-color="#0046FF"/><stop offset="0.143" stop-color="#003BFF"/><stop offset="0.214" stop-color="#002FFF"/><stop offset="0.286" stop-color="#0020FF"/><stop offset="0.357" stop-color="#0915FF"/><stop offset="0.429" stop-color="#1818FF"/><stop offset="0.500" stop-color="#3B24FF"/><stop offset="0.571" stop-color="#5E2EFF"/><stop offset="0.643" stop-color="#7628FF"/><stop offset="0.714" stop-color="#8E1FFF"/><stop offset="0.786" stop-color="#A615FF"/><stop offset="0.857" stop-color="#BF0CFF"/><stop offset="0.929" stop-color="#DB02FF"/><stop offset="1.000" stop-color="#F800FF"/></linearGradient>
<linearGradient id="cg53" gradientUnits="userSpaceOnUse" x1="3080.0" x2="3617.5" y1="0" y2="0"><stop offset="0.000" stop-color="#004EFF"/><stop offset="0.071" stop-color="#0044FF"/><stop offset="0.143" stop-color="#0039FF"/><stop offset="0.214" stop-color="#002CFF"/><stop offset="0.286" stop-color="#001CFF"/><stop offset="0.357" stop-color="#070FFF"/><stop offset="0.429" stop-color="#1515FF"/><stop offset="0.500" stop-color="#3C21FF"/><stop offset="0.571" stop-color="#5E2BFF"/><stop offset="0.643" stop-color="#7623FF"/><stop offset="0.714" stop-color="#8D19FF"/><stop offset="0.786" stop-color="#A510FF"/><stop offset="0.857" stop-color="#BF06FF"/><stop offset="0.929" stop-color="#DB00FF"/><stop offset="1.000" stop-color="#F700FF"/></linearGradient>
<linearGradient id="cg54" gradientUnits="userSpaceOnUse" x1="3080.0" x2="3617.5" y1="0" y2="0"><stop offset="0.000" stop-color="#004BFF"/><stop offset="0.071" stop-color="#0041FF"/><stop offset="0.143" stop-color="#0036FF"/><stop offset="0.214" stop-color="#0029FF"/><stop offset="0.286" stop-color="#0019FF"/><stop offset="0.357" stop-color="#0508FF"/><stop offset="0.429" stop-color="#1212FF"/><stop offset="0.500" stop-color="#3D1EFF"/><stop offset="0.571" stop-color="#5E27FF"/><stop offset="0.643" stop-color="#751DFF"/><stop offset="0.714" stop-color="#8D14FF"/><stop offset="0.786" stop-color="#A50AFF"/><stop offset="0.857" stop-color="#BF01FF"/><stop offset="0.929" stop-color="#DB00FF"/><stop offset="1.000" stop-color="#F700FF"/></linearGradient>
<linearGradient id="cg55" gradientUnits="userSpaceOnUse" x1="3080.0" x2="3617.5" y1="0" y2="0"><stop offset="0.000" stop-color="#0048FF"/><stop offset="0.071" stop-color="#003EFF"/><stop offset="0.143" stop-color="#0033FF"/><stop offset="0.214" stop-color="#0026FF"/><stop offset="0.286" stop-color="#0016FF"/><stop offset="0.357" stop-color="#0202FF"/><stop offset="0.429" stop-color="#1510FF"/><stop offset="0.500" stop-color="#3E1BFF"/><stop offset="0.571" stop-color="#5D22FF"/><stop offset="0.643" stop-color="#7518FF"/><stop offset="0.714" stop-color="#8C0FFF"/><stop offset="0.786" stop-color="#A405FF"/><stop offset="0.857" stop-color="#BF00FF"/><stop offset="0.929" stop-color="#DB00FF"/><stop offset="1.000" stop-color="#F700FF"/></linearGradient>
<linearGradient id="cg56" gradientUnits="userSpaceOnUse" x1="3080.0" x2="3617.5" y1="0" y2="0"><stop offset="0.000" stop-color="#0046FF"/><stop offset="0.071" stop-color="#003CFF"/><stop offset="0.143" stop-color="#0030FF"/><stop offset="0.214" stop-color="#0023FF"/><stop offset="0.286" stop-color="#0012FF"/><stop offset="0.357" stop-color="#0000FF"/><stop offset="0.429" stop-color="#180DFF"/><stop offset="0.500" stop-color="#3F17FF"/><stop offset="0.571" stop-color="#5D1CFF"/><stop offset="0.643" stop-color="#7413FF"/><stop offset="0.714" stop-color="#8B09FF"/><stop offset="0.786" stop-color="#A400FF"/><stop offset="0.857" stop-color="#C000FF"/><stop offset="0.929" stop-color="#DC00FF"/><stop offset="1.000" stop-color="#F700FF"/></linearGradient>
<linearGradient id="cg57" gradientUnits="userSpaceOnUse" x1="3080.0" x2="3617.5" y1="0" y2="0"><stop offset="0.000" stop-color="#0043FF"/><stop offset="0.071" stop-color="#0039FF"/><stop offset="0.143" stop-color="#002DFF"/><stop offset="0.214" stop-color="#0020FF"/><stop offset="0.286" stop-color="#000FFF"/><stop offset="0.357" stop-color="#0000FF"/><stop offset="0.429" stop-color="#1A0AFF"/><stop offset="0.500" stop-color="#3F14FF"/><stop offset="0.571" stop-color="#5C17FF"/><stop offset="0.643" stop-color="#730DFF"/><stop offset="0.714" stop-color="#8B04FF"/><stop offset="0.786" stop-color="#A500FF"/><stop offset="0.857" stop-color="#C100FF"/><stop offset="0.929" stop-color="#DC00FF"/><stop offset="1.000" stop-color="#F700FF"/></linearGradient>
<linearGradient id="cg58" gradientUnits="userSpaceOnUse" x1="3080.0" x2="3617.5" y1="0" y2="0"><stop offset="0.000" stop-color="#0041FF"/><stop offset="0.071" stop-color="#0037FF"/><stop offset="0.143" stop-color="#002BFF"/><stop offset="0.214" stop-color="#001DFF"/><stop offset="0.286" stop-color="#000BFF"/><stop offset="0.357" stop-color="#0000FF"/><stop offset="0.429" stop-color="#1C07FF"/><stop offset="0.500" stop-color="#4011FF"/><stop offset="0.571" stop-color="#5C11FF"/><stop offset="0.643" stop-color="#7308FF"/><stop offset="0.714" stop-color="#8B00FF"/><stop offset="0.786" stop-color="#A700FF"/><stop offset="0.857" stop-color="#C200FF"/><stop offset="0.929" stop-color="#DC00FF"/><stop offset="1.000" stop-color="#F600FF"/></linearGradient>
<linearGradient id="cg59" gradientUnits="userSpaceOnUse" x1="3080.0" x2="3617.5" y1="0" y2="0"><stop offset="0.000" stop-color="#003FFF"/><stop offset="0.071" stop-color="#0034FF"/><stop offset="0.143" stop-color="#0028FF"/><stop offset="0.214" stop-color="#001AFF"/><stop offset="0.286" stop-color="#0007FF"/><stop offset="0.357" stop-color="#0000FF"/><stop offset="0.429" stop-color="#1D04FF"/><stop offset="0.500" stop-color="#400EFF"/><stop offset="0.571" stop-color="#5B0CFF"/><stop offset="0.643" stop-color="#7203FF"/><stop offset="0.714" stop-color="#8D00FF"/><stop offset="0.786" stop-color="#A800FF"/><stop offset="0.857" stop-color="#C300FF"/><stop offset="0.929" stop-color="#DD00FF"/><stop offset="1.000" stop-color="#F600FF"/></linearGradient>
<linearGradient id="cg60" gradientUnits="userSpaceOnUse" x1="3080.0" x2="3617.5" y1="0" y2="0"><stop offset="0.000" stop-color="#003CFF"/><stop offset="0.071" stop-color="#0031FF"/><stop offset="0.143" stop-color="#0025FF"/><stop offset="0.214" stop-color="#0017FF"/><stop offset="0.286" stop-color="#0002FF"/><stop offset="0.357" stop-color="#0000FF"/><stop offset="0.429" stop-color="#1E01FF"/><stop offset="0.500" stop-color="#410BFF"/><stop offset="0.571" stop-color="#5A07FF"/><stop offset="0.643" stop-color="#7300FF"/><stop offset="0.714" stop-color="#8F00FF"/><stop offset="0.786" stop-color="#A900FF"/><stop offset="0.857" stop-color="#C300FF"/><stop offset="0.929" stop-color="#DD00FF"/><stop offset="1.000" stop-color="#F600FF"/></linearGradient>
<linearGradient id="cg61" gradientUnits="userSpaceOnUse" x1="3080.0" x2="3617.5" y1="0" y2="0"><stop offset="0.000" stop-color="#003AFF"/><stop offset="0.071" stop-color="#002FFF"/><stop offset="0.143" stop-color="#0022FF"/><stop offset="0.214" stop-color="#0013FF"/><stop offset="0.286" stop-color="#0000FF"/><stop offset="0.357" stop-color="#0100FF"/><stop offset="0.429" stop-color="#2100FF"/><stop offset="0.500" stop-color="#4108FF"/><stop offset="0.571" stop-color="#5A01FF"/><stop offset="0.643" stop-color="#7500FF"/><stop offset="0.714" stop-color="#9000FF"/><stop offset="0.786" stop-color="#AB00FF"/><stop offset="0.857" stop-color="#C400FF"/><stop offset="0.929" stop-color="#DD00FF"/><stop offset="1.000" stop-color="#F600FF"/></linearGradient>
<linearGradient id="cg62" gradientUnits="userSpaceOnUse" x1="3080.0" x2="3617.5" y1="0" y2="0"><stop offset="0.000" stop-color="#0037FF"/><stop offset="0.071" stop-color="#002CFF"/><stop offset="0.143" stop-color="#0020FF"/><stop offset="0.214" stop-color="#0010FF"/><stop offset="0.286" stop-color="#0000FF"/><stop offset="0.357" stop-color="#0800FF"/><stop offset="0.429" stop-color="#2500FF"/><stop offset="0.500" stop-color="#4104FF"/><stop offset="0.571" stop-color="#5C00FF"/><stop offset="0.643" stop-color="#7800FF"/><stop offset="0.714" stop-color="#9200FF"/><stop offset="0.786" stop-color="#AC00FF"/><stop offset="0.857" stop-color="#C500FF"/><stop offset="0.929" stop-color="#DE00FF"/><stop offset="1.000" stop-color="#F600FF"/></linearGradient>
<linearGradient id="cg63" gradientUnits="userSpaceOnUse" x1="3080.0" x2="3617.5" y1="0" y2="0"><stop offset="0.000" stop-color="#0035FF"/><stop offset="0.071" stop-color="#002AFF"/><stop offset="0.143" stop-color="#001DFF"/><stop offset="0.214" stop-color="#000DFF"/><stop offset="0.286" stop-color="#0000FF"/><stop offset="0.357" stop-color="#0D00FF"/><stop offset="0.429" stop-color="#2800FF"/><stop offset="0.500" stop-color="#4100FF"/><stop offset="0.571" stop-color="#5E00FF"/><stop offset="0.643" stop-color="#7A00FF"/><stop offset="0.714" stop-color="#9400FF"/><stop offset="0.786" stop-color="#AD00FF"/><stop offset="0.857" stop-color="#C600FF"/><stop offset="0.929" stop-color="#DE00FF"/><stop offset="1.000" stop-color="#F600FF"/></linearGradient>
<linearGradient id="cg64" gradientUnits="userSpaceOnUse" x1="3080.0" x2="3617.5" y1="0" y2="0"><stop offset="0.000" stop-color="#0032FF"/><stop offset="0.071" stop-color="#0027FF"/><stop offset="0.143" stop-color="#001AFF"/><stop offset="0.214" stop-color="#000AFF"/><stop offset="0.286" stop-color="#0000FF"/><stop offset="0.357" stop-color="#1100FF"/><stop offset="0.429" stop-color="#2C00FF"/><stop offset="0.500" stop-color="#4500FF"/><stop offset="0.571" stop-color="#6100FF"/><stop offset="0.643" stop-color="#7C00FF"/><stop offset="0.714" stop-color="#9500FF"/><stop offset="0.786" stop-color="#AE00FF"/><stop offset="0.857" stop-color="#C600FF"/><stop offset="0.929" stop-color="#DE00FF"/><stop offset="1.000" stop-color="#F600FF"/></linearGradient>
</defs>
<g clip-path="url(#cieclip)">
<rect x="3080.0" y="817" width="537.5" height="10.6" fill="url(#cg0)"/>
<rect x="3080.0" y="827" width="537.5" height="10.6" fill="url(#cg1)"/>
<rect x="3080.0" y="837" width="537.5" height="10.6" fill="url(#cg2)"/>
<rect x="3080.0" y="847" width="537.5" height="10.6" fill="url(#cg3)"/>
<rect x="3080.0" y="857" width="537.5" height="10.6" fill="url(#cg4)"/>
<rect x="3080.0" y="867" width="537.5" height="10.6" fill="url(#cg5)"/>
<rect x="3080.0" y="877" width="537.5" height="10.6" fill="url(#cg6)"/>
<rect x="3080.0" y="887" width="537.5" height="10.6" fill="url(#cg7)"/>
<rect x="3080.0" y="897" width="537.5" height="10.6" fill="url(#cg8)"/>
<rect x="3080.0" y="907" width="537.5" height="10.6" fill="url(#cg9)"/>
<rect x="3080.0" y="917" width="537.5" height="10.6" fill="url(#cg10)"/>
<rect x="3080.0" y="927" width="537.5" height="10.6" fill="url(#cg11)"/>
<rect x="3080.0" y="937" width="537.5" height="10.6" fill="url(#cg12)"/>
<rect x="3080.0" y="947" width="537.5" height="10.6" fill="url(#cg13)"/>
<rect x="3080.0" y="957" width="537.5" height="10.6" fill="url(#cg14)"/>
<rect x="3080.0" y="967" width="537.5" height="10.6" fill="url(#cg15)"/>
<rect x="3080.0" y="977" width="537.5" height="10.6" fill="url(#cg16)"/>
<rect x="3080.0" y="987" width="537.5" height="10.6" fill="url(#cg17)"/>
<rect x="3080.0" y="997" width="537.5" height="10.6" fill="url(#cg18)"/>
<rect x="3080.0" y="1007" width="537.5" height="10.6" fill="url(#cg19)"/>
<rect x="3080.0" y="1017" width="537.5" height="10.6" fill="url(#cg20)"/>
<rect x="3080.0" y="1027" width="537.5" height="10.6" fill="url(#cg21)"/>
<rect x="3080.0" y="1037" width="537.5" height="10.6" fill="url(#cg22)"/>
<rect x="3080.0" y="1047" width="537.5" height="10.6" fill="url(#cg23)"/>
<rect x="3080.0" y="1057" width="537.5" height="10.6" fill="url(#cg24)"/>
<rect x="3080.0" y="1067" width="537.5" height="10.6" fill="url(#cg25)"/>
<rect x="3080.0" y="1077" width="537.5" height="10.6" fill="url(#cg26)"/>
<rect x="3080.0" y="1087" width="537.5" height="10.6" fill="url(#cg27)"/>
<rect x="3080.0" y="1097" width="537.5" height="10.6" fill="url(#cg28)"/>
<rect x="3080.0" y="1107" width="537.5" height="10.6" fill="url(#cg29)"/>
<rect x="3080.0" y="1117" width="537.5" height="10.6" fill="url(#cg30)"/>
<rect x="3080.0" y="1127" width="537.5" height="10.6" fill="url(#cg31)"/>
<rect x="3080.0" y="1137" width="537.5" height="10.6" fill="url(#cg32)"/>
<rect x="3080.0" y="1147" width="537.5" height="10.6" fill="url(#cg33)"/>
<rect x="3080.0" y="1157" width="537.5" height="10.6" fill="url(#cg34)"/>
<rect x="3080.0" y="1167" width="537.5" height="10.6" fill="url(#cg35)"/>
<rect x="3080.0" y="1177" width="537.5" height="10.6" fill="url(#cg36)"/>
<rect x="3080.0" y="1187" width="537.5" height="10.6" fill="url(#cg37)"/>
<rect x="3080.0" y="1197" width="537.5" height="10.6" fill="url(#cg38)"/>
<rect x="3080.0" y="1207" width="537.5" height="10.6" fill="url(#cg39)"/>
<rect x="3080.0" y="1217" width="537.5" height="10.6" fill="url(#cg40)"/>
<rect x="3080.0" y="1227" width="537.5" height="10.6" fill="url(#cg41)"/>
<rect x="3080.0" y="1237" width="537.5" height="10.6" fill="url(#cg42)"/>
<rect x="3080.0" y="1247" width="537.5" height="10.6" fill="url(#cg43)"/>
<rect x="3080.0" y="1257" width="537.5" height="10.6" fill="url(#cg44)"/>
<rect x="3080.0" y="1267" width="537.5" height="10.6" fill="url(#cg45)"/>
<rect x="3080.0" y="1277" width="537.5" height="10.6" fill="url(#cg46)"/>
<rect x="3080.0" y="1287" width="537.5" height="10.6" fill="url(#cg47)"/>
<rect x="3080.0" y="1297" width="537.5" height="10.6" fill="url(#cg48)"/>
<rect x="3080.0" y="1307" width="537.5" height="10.6" fill="url(#cg49)"/>
<rect x="3080.0" y="1317" width="537.5" height="10.6" fill="url(#cg50)"/>
<rect x="3080.0" y="1327" width="537.5" height="10.6" fill="url(#cg51)"/>
<rect x="3080.0" y="1337" width="537.5" height="10.6" fill="url(#cg52)"/>
<rect x="3080.0" y="1347" width="537.5" height="10.6" fill="url(#cg53)"/>
<rect x="3080.0" y="1357" width="537.5" height="10.6" fill="url(#cg54)"/>
<rect x="3080.0" y="1367" width="537.5" height="10.6" fill="url(#cg55)"/>
<rect x="3080.0" y="1377" width="537.5" height="10.6" fill="url(#cg56)"/>
<rect x="3080.0" y="1387" width="537.5" height="10.6" fill="url(#cg57)"/>
<rect x="3080.0" y="1397" width="537.5" height="10.6" fill="url(#cg58)"/>
<rect x="3080.0" y="1407" width="537.5" height="10.6" fill="url(#cg59)"/>
<rect x="3080.0" y="1417" width="537.5" height="10.6" fill="url(#cg60)"/>
<rect x="3080.0" y="1427" width="537.5" height="10.6" fill="url(#cg61)"/>
<rect x="3080.0" y="1437" width="537.5" height="10.6" fill="url(#cg62)"/>
<rect x="3080.0" y="1447" width="537.5" height="10.6" fill="url(#cg63)"/>
<rect x="3080.0" y="1457" width="537.5" height="10.6" fill="url(#cg64)"/>
</g>
<polyline points="3617.5,1328.5 3348.4,1452.3 3348.4,1452.3 3348.4,1452.3 3348.4,1452.3 3348.3,1452.3 3348.3,1452.3 3348.3,1452.3 3348.3,1452.3 3348.3,1452.3 3348.3,1452.3 3348.2,1452.3 3348.2,1452.3 3348.2,1452.3 3348.2,1452.3 3348.1,1452.3 3348.1,1452.3 3348.1,1452.3 3348,1452.3 3348,1452.3 3347.9,1452.3 3347.9,1452.3 3347.8,1452.3 3347.8,1452.3 3347.7,1452.3 3347.7,1452.3 3347.6,1452.3 3347.6,1452.3 3347.5,1452.3 3347.4,1452.3 3347.4,1452.3 3347.3,1452.3 3347.2,1452.3 3347.2,1452.3 3347.1,1452.3 3347,1452.3 3346.9,1452.3 3346.9,1452.3 3346.8,1452.3 3346.7,1452.3 3346.6,1452.3 3346.5,1452.3 3346.5,1452.3 3346.4,1452.3 3346.3,1452.3 3346.2,1452.3 3346.1,1452.3 3346,1452.3 3345.9,1452.3 3345.8,1452.3 3345.7,1452.3 3345.6,1452.3 3345.5,1452.3 3345.4,1452.3 3345.3,1452.3 3345.2,1452.2 3345.1,1452.2 3345,1452.2 3344.8,1452.2 3344.7,1452.2 3344.6,1452.2 3344.5,1452.2 3344.4,1452.2 3344.3,1452.2 3344.1,1452.2 3344,1452.2 3343.9,1452.2 3343.8,1452.2 3343.7,1452.2 3343.5,1452.2 3343.4,1452.2 3343.3,1452.2 3343.1,1452.1 3342.9,1452 3342.7,1451.9 3342.5,1451.8 3342.3,1451.6 3342,1451.4 3341.8,1451.2 3341.5,1451 3341.2,1450.8 3340.9,1450.6 3340.6,1450.3 3340.3,1450.1 3339.9,1449.8 3339.6,1449.5 3339.3,1449.3 3338.9,1449 3338.6,1448.7 3338.2,1448.5 3337.8,1448.1 3337.4,1447.8 3337,1447.4 3336.5,1447 3336.1,1446.7 3335.6,1446.2 3335.1,1445.8 3334.7,1445.4 3334.2,1445 3333.7,1444.5 3333.2,1444 3332.6,1443.5 3332.1,1443 3331.5,1442.5 3330.9,1442 3330.3,1441.5 3329.7,1440.9 3329.1,1440.3 3328.4,1439.8 3327.7,1439.2 3327,1438.6 3326.3,1437.9 3325.5,1437.3 3324.7,1436.6 3323.9,1435.9 3323.1,1435.1 3322.2,1434.4 3321.2,1433.6 3320.3,1432.8 3319.3,1431.9 3318.3,1431 3317.2,1430.1 3316.2,1429.2 3315.1,1428.3 3314,1427.3 3312.9,1426.4 3311.7,1425.3 3310.5,1424.3 3309.3,1423.2 3308,1422.1 3306.7,1420.9 3305.4,1419.7 3304,1418.4 3302.6,1417.1 3301.2,1415.7 3299.7,1414.3 3298.2,1412.8 3296.7,1411.2 3295.1,1409.6 3293.5,1407.9 3291.8,1406.1 3290.2,1404.3 3288.5,1402.4 3286.7,1400.5 3285,1398.4 3283.1,1396.2 3281.2,1393.8 3279.3,1391.4 3277.2,1388.7 3275.1,1385.9 3272.9,1382.7 3270.6,1379.4 3268.2,1375.8 3265.8,1371.9 3263.3,1367.9 3260.7,1363.6 3258,1359.1 3255.3,1354.5 3252.5,1349.5 3249.6,1344.3 3246.7,1338.6 3243.6,1332.7 3240.5,1326.4 3237.3,1319.8 3234,1312.8 3230.6,1305.6 3227.1,1298 3223.5,1289.8 3219.8,1281.2 3216,1272 3212.2,1262.3 3208.2,1252.1 3204.1,1241.6 3199.9,1230.6 3195.6,1219.2 3191.2,1207.2 3186.6,1194.6 3181.9,1181.3 3177,1167.3 3172.1,1152.7 3167.1,1137.6 3162.1,1121.9 3157.1,1105.7 3152.2,1089.1 3147.2,1071.6 3142.3,1053.3 3137.2,1034.1 3132.2,1014.3 3127.2,993.8 3122.2,972.7 3117.2,951.2 3112.3,929.3 3107.5,907.1 3102.7,884.1 3098,860.5 3093.3,836.3 3089.6,817" fill="none" stroke="#fff" stroke-width="4.6" stroke-linejoin="round"/>
<rect x="3021.9" y="817.0" width="9.8" height="648.9000000000001" fill="#fff"/>
<rect x="3021.9" y="1457.1" width="595.5999999999998" height="8.8" fill="#fff"/>
<path d="M3021.9,1461.5 h-12.5 M3026.8,1465.9 v14.6 M3021.9,1278.5 h-12.5 M3211.5,1465.9 v14.6 M3021.9,1095.5 h-12.5 M3396.2,1465.9 v14.6 M3021.9,912.5 h-12.5 M3580.9,1465.9 v14.6 " stroke="#fff" stroke-width="3.4" fill="none"/>
<path d="M3095.5,923.5 L3110.2,920.2 M3180.2,1223.2 L3193.2,1218.4 M3242,1363.2 L3254,1356.7 M3280.4,1418.6 L3290.8,1408.8 M3304.8,1441.3 L3313.6,1430.6 " stroke="#fff" stroke-width="3.4" fill="none"/>
<clipPath id="insclip"><rect x="2867.0" y="817.0" width="750.5" height="791.0"/></clipPath>
<g clip-path="url(#insclip)" fill="#fff">
<text transform="translate(2993,1481.8)" style="font-size:58px;" fill="#fff" text-anchor="end">0.0</text>
<text transform="translate(2993,1298.8)" style="font-size:58px;" fill="#fff" text-anchor="end">0.1</text>
<text transform="translate(2993,1115.8)" style="font-size:58px;" fill="#fff" text-anchor="end">0.2</text>
<text transform="translate(2993,932.8)" style="font-size:58px;" fill="#fff" text-anchor="end">0.3</text>
<text transform="translate(3034.5,1542.9)" style="font-size:58px;" fill="#fff" text-anchor="middle">0.0</text>
<text transform="translate(3216.8,1542.9)" style="font-size:58px;" fill="#fff" text-anchor="middle">0.1</text>
<text transform="translate(3404,1542.9)" style="font-size:58px;" fill="#fff" text-anchor="middle">0.2</text>
<text transform="translate(3589,1542.9)" style="font-size:58px;" fill="#fff" text-anchor="middle">0.3</text>
<text transform="translate(3054.1,945.6) scale(1.05,1.0)" style="font-size:38px;" fill="#fff" text-anchor="middle">490</text>
<text transform="translate(3140.3,1248.3) scale(1.05,1.0)" style="font-size:38px;" fill="#fff" text-anchor="middle">480</text>
<text transform="translate(3203.8,1394.1) scale(1.05,1.0)" style="font-size:38px;" fill="#fff" text-anchor="middle">470</text>
<text transform="translate(3248.5,1456) scale(1.05,1.0)" style="font-size:38px;" fill="#fff" text-anchor="middle">460</text>
<text transform="translate(3277,1478.8) scale(1.05,1.0)" style="font-size:38px;" fill="#fff" text-anchor="middle">450</text>
</g>
<polygon points="3323,1192.5 3377.5,1192.5 3349.5,1232" fill="#FF8080" stroke="#000" stroke-width="4.5" stroke-linejoin="round"/>
<polygon points="3309.5,1176 3362.5,1176 3336,1213" fill="#008040" stroke="#000" stroke-width="9" stroke-linejoin="round"/>
<circle cx="3335.8" cy="1312.8" r="29" fill="#808080" stroke="#000" stroke-width="9"/>
<text transform="translate(3154,1142.5) scale(1.0,1.04)" style="font-size:101px;" fill="#fff">SmA</text>
<text transform="translate(3386,1242.1) scale(1.0,1.04)" style="font-size:101px;" fill="#fff">N</text>
<text transform="translate(3367,1384.4) scale(1.0,1.04)" style="font-size:101px;" fill="#fff">Cr</text>
</svg></body></html>
